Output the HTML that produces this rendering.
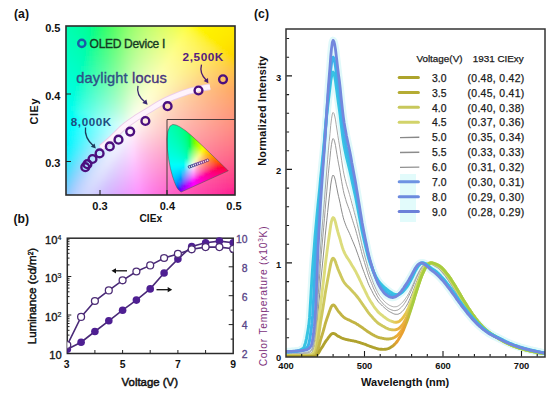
<!DOCTYPE html>
<html><head><meta charset="utf-8">
<style>
html,body{margin:0;padding:0;background:#fff;}
body{width:550px;height:393px;overflow:hidden;position:relative;font-family:"Liberation Sans",sans-serif;}
svg{position:absolute;left:0;top:0;}
text{font-family:"Liberation Sans",sans-serif;}
.b{font-weight:bold;}
.lg{font-size:10.4px;fill:#1a1a1a;stroke:#1a1a1a;stroke-width:0.25px;}
</style></head><body>
<svg width="550" height="393" viewBox="0 0 550 393">
<defs>
<clipPath id="ca"><rect x="66" y="26" width="169" height="169"/></clipPath>
<clipPath id="ch"><path d="M181.2,192.0 181.0,192.0 180.4,191.5 179.8,191.0 178.7,190.0 177.0,187.7 175.8,185.3 174.3,181.6 172.4,176.0 170.4,168.4 168.6,158.8 167.3,148.5 166.9,139.0 167.8,131.3 169.9,126.2 172.8,124.4 176.2,125.1 179.6,126.7 185.9,130.9 191.9,136.0 197.9,141.5 203.9,147.2 209.6,152.7 214.9,157.8 219.3,162.0 224.7,167.3 227.6,170.1 228.3,170.8 Z"/></clipPath>
<clipPath id="cb"><rect x="67.3" y="230" width="166.1" height="130"/></clipPath>
<clipPath id="cc"><rect x="286" y="29" width="259" height="328"/></clipPath>
<filter id="bl" x="-5%" y="-5%" width="110%" height="110%"><feGaussianBlur stdDeviation="2.2"/></filter>
<filter id="bl2"><feGaussianBlur stdDeviation="1.2"/></filter>
</defs>

<!-- ===== panel a ===== -->
<g clip-path="url(#ca)"><g filter="url(#bl)">
<rect x="61" y="21" width="5" height="5" fill="#00feb3"/>
<rect x="66" y="21" width="5" height="5" fill="#00feae"/>
<rect x="71" y="21" width="5" height="5" fill="#00fea9"/>
<rect x="76" y="21" width="5" height="5" fill="#00fea3"/>
<rect x="81" y="21" width="5" height="5" fill="#00fe9c"/>
<rect x="86" y="21" width="5" height="5" fill="#00fe95"/>
<rect x="91" y="21" width="5" height="5" fill="#02fe87"/>
<rect x="96" y="21" width="5" height="5" fill="#19fe75"/>
<rect x="101" y="21" width="5" height="5" fill="#2cfe6c"/>
<rect x="106" y="21" width="5" height="5" fill="#3ffe66"/>
<rect x="111" y="21" width="5" height="5" fill="#52fe62"/>
<rect x="116" y="21" width="5" height="5" fill="#67fe63"/>
<rect x="121" y="21" width="5" height="5" fill="#7bfe66"/>
<rect x="126" y="21" width="5" height="5" fill="#8dfe68"/>
<rect x="131" y="21" width="5" height="5" fill="#9cfe6a"/>
<rect x="136" y="21" width="5" height="5" fill="#a9fe6b"/>
<rect x="141" y="21" width="5" height="5" fill="#b5fe6a"/>
<rect x="146" y="21" width="5" height="5" fill="#bffe69"/>
<rect x="151" y="21" width="5" height="5" fill="#c8fe67"/>
<rect x="156" y="21" width="5" height="5" fill="#d1fe63"/>
<rect x="161" y="21" width="5" height="5" fill="#d9fe5e"/>
<rect x="166" y="21" width="5" height="5" fill="#e0fe58"/>
<rect x="171" y="21" width="5" height="5" fill="#e7fe50"/>
<rect x="176" y="21" width="5" height="5" fill="#eefe46"/>
<rect x="181" y="21" width="5" height="5" fill="#f5fe37"/>
<rect x="186" y="21" width="5" height="5" fill="#fcfe1a"/>
<rect x="191" y="21" width="5" height="5" fill="#fefc00"/>
<rect x="196" y="21" width="5" height="5" fill="#fef800"/>
<rect x="201" y="21" width="5" height="5" fill="#fef500"/>
<rect x="206" y="21" width="5" height="5" fill="#fef300"/>
<rect x="211" y="21" width="5" height="5" fill="#fef100"/>
<rect x="216" y="21" width="5" height="5" fill="#feef00"/>
<rect x="221" y="21" width="5" height="5" fill="#feee00"/>
<rect x="226" y="21" width="5" height="5" fill="#feec00"/>
<rect x="231" y="21" width="5" height="5" fill="#feea00"/>
<rect x="236" y="21" width="5" height="5" fill="#fee900"/>
<rect x="61" y="26" width="5" height="5" fill="#00feb5"/>
<rect x="66" y="26" width="5" height="5" fill="#00feb1"/>
<rect x="71" y="26" width="5" height="5" fill="#00feac"/>
<rect x="76" y="26" width="5" height="5" fill="#00fea6"/>
<rect x="81" y="26" width="5" height="5" fill="#00fea0"/>
<rect x="86" y="26" width="5" height="5" fill="#00fe98"/>
<rect x="91" y="26" width="5" height="5" fill="#09fe86"/>
<rect x="96" y="26" width="5" height="5" fill="#1efe79"/>
<rect x="101" y="26" width="5" height="5" fill="#31fe71"/>
<rect x="106" y="26" width="5" height="5" fill="#43fe6b"/>
<rect x="111" y="26" width="5" height="5" fill="#56fe68"/>
<rect x="116" y="26" width="5" height="5" fill="#6afe68"/>
<rect x="121" y="26" width="5" height="5" fill="#7efe6c"/>
<rect x="126" y="26" width="5" height="5" fill="#90fe6f"/>
<rect x="131" y="26" width="5" height="5" fill="#a0fe71"/>
<rect x="136" y="26" width="5" height="5" fill="#adfe72"/>
<rect x="141" y="26" width="5" height="5" fill="#b9fe72"/>
<rect x="146" y="26" width="5" height="5" fill="#c3fe71"/>
<rect x="151" y="26" width="5" height="5" fill="#ccfe6f"/>
<rect x="156" y="26" width="5" height="5" fill="#d5fe6c"/>
<rect x="161" y="26" width="5" height="5" fill="#ddfe68"/>
<rect x="166" y="26" width="5" height="5" fill="#e4fe63"/>
<rect x="171" y="26" width="5" height="5" fill="#ebfe5d"/>
<rect x="176" y="26" width="5" height="5" fill="#f2fe55"/>
<rect x="181" y="26" width="5" height="5" fill="#f9fe4b"/>
<rect x="186" y="26" width="5" height="5" fill="#fefe3c"/>
<rect x="191" y="26" width="5" height="5" fill="#fefa22"/>
<rect x="196" y="26" width="5" height="5" fill="#fef600"/>
<rect x="201" y="26" width="5" height="5" fill="#fef400"/>
<rect x="206" y="26" width="5" height="5" fill="#fef200"/>
<rect x="211" y="26" width="5" height="5" fill="#fef000"/>
<rect x="216" y="26" width="5" height="5" fill="#feee00"/>
<rect x="221" y="26" width="5" height="5" fill="#feec00"/>
<rect x="226" y="26" width="5" height="5" fill="#feea00"/>
<rect x="231" y="26" width="5" height="5" fill="#fee900"/>
<rect x="236" y="26" width="5" height="5" fill="#fee700"/>
<rect x="61" y="31" width="5" height="5" fill="#00feb8"/>
<rect x="66" y="31" width="5" height="5" fill="#00feb4"/>
<rect x="71" y="31" width="5" height="5" fill="#00feaf"/>
<rect x="76" y="31" width="5" height="5" fill="#00fea9"/>
<rect x="81" y="31" width="5" height="5" fill="#00fea3"/>
<rect x="86" y="31" width="5" height="5" fill="#00fe9c"/>
<rect x="91" y="31" width="5" height="5" fill="#0ffe89"/>
<rect x="96" y="31" width="5" height="5" fill="#23fe7e"/>
<rect x="101" y="31" width="5" height="5" fill="#35fe76"/>
<rect x="106" y="31" width="5" height="5" fill="#47fe71"/>
<rect x="111" y="31" width="5" height="5" fill="#5afe6e"/>
<rect x="116" y="31" width="5" height="5" fill="#6dfe6e"/>
<rect x="121" y="31" width="5" height="5" fill="#82fe72"/>
<rect x="126" y="31" width="5" height="5" fill="#94fe75"/>
<rect x="131" y="31" width="5" height="5" fill="#a4fe77"/>
<rect x="136" y="31" width="5" height="5" fill="#b1fe79"/>
<rect x="141" y="31" width="5" height="5" fill="#bdfe79"/>
<rect x="146" y="31" width="5" height="5" fill="#c7fe79"/>
<rect x="151" y="31" width="5" height="5" fill="#d0fe77"/>
<rect x="156" y="31" width="5" height="5" fill="#d9fe75"/>
<rect x="161" y="31" width="5" height="5" fill="#e1fe71"/>
<rect x="166" y="31" width="5" height="5" fill="#e8fe6d"/>
<rect x="171" y="31" width="5" height="5" fill="#effe68"/>
<rect x="176" y="31" width="5" height="5" fill="#f6fe61"/>
<rect x="181" y="31" width="5" height="5" fill="#fdfe5a"/>
<rect x="186" y="31" width="5" height="5" fill="#fefb4e"/>
<rect x="191" y="31" width="5" height="5" fill="#fef83f"/>
<rect x="196" y="31" width="5" height="5" fill="#fef528"/>
<rect x="201" y="31" width="5" height="5" fill="#fef200"/>
<rect x="206" y="31" width="5" height="5" fill="#fef000"/>
<rect x="211" y="31" width="5" height="5" fill="#feee00"/>
<rect x="216" y="31" width="5" height="5" fill="#feec00"/>
<rect x="221" y="31" width="5" height="5" fill="#feeb00"/>
<rect x="226" y="31" width="5" height="5" fill="#fee900"/>
<rect x="231" y="31" width="5" height="5" fill="#fee600"/>
<rect x="236" y="31" width="5" height="5" fill="#fee400"/>
<rect x="61" y="36" width="5" height="5" fill="#00febb"/>
<rect x="66" y="36" width="5" height="5" fill="#00feb7"/>
<rect x="71" y="36" width="5" height="5" fill="#00feb2"/>
<rect x="76" y="36" width="5" height="5" fill="#00fead"/>
<rect x="81" y="36" width="5" height="5" fill="#00fea7"/>
<rect x="86" y="36" width="5" height="5" fill="#00fe9f"/>
<rect x="91" y="36" width="5" height="5" fill="#15fe8c"/>
<rect x="96" y="36" width="5" height="5" fill="#28fe83"/>
<rect x="101" y="36" width="5" height="5" fill="#3afe7c"/>
<rect x="106" y="36" width="5" height="5" fill="#4bfe77"/>
<rect x="111" y="36" width="5" height="5" fill="#5efe74"/>
<rect x="116" y="36" width="5" height="5" fill="#71fe74"/>
<rect x="121" y="36" width="5" height="5" fill="#86fe77"/>
<rect x="126" y="36" width="5" height="5" fill="#98fe7b"/>
<rect x="131" y="36" width="5" height="5" fill="#a7fe7e"/>
<rect x="136" y="36" width="5" height="5" fill="#b5fe7f"/>
<rect x="141" y="36" width="5" height="5" fill="#c1fe80"/>
<rect x="146" y="36" width="5" height="5" fill="#cbfe80"/>
<rect x="151" y="36" width="5" height="5" fill="#d4fe7f"/>
<rect x="156" y="36" width="5" height="5" fill="#ddfe7d"/>
<rect x="161" y="36" width="5" height="5" fill="#e4fe7a"/>
<rect x="166" y="36" width="5" height="5" fill="#ecfe76"/>
<rect x="171" y="36" width="5" height="5" fill="#f3fe72"/>
<rect x="176" y="36" width="5" height="5" fill="#fafe6c"/>
<rect x="181" y="36" width="5" height="5" fill="#fefd65"/>
<rect x="186" y="36" width="5" height="5" fill="#fef95b"/>
<rect x="191" y="36" width="5" height="5" fill="#fef74f"/>
<rect x="196" y="36" width="5" height="5" fill="#fef441"/>
<rect x="201" y="36" width="5" height="5" fill="#fef22d"/>
<rect x="206" y="36" width="5" height="5" fill="#feee00"/>
<rect x="211" y="36" width="5" height="5" fill="#feed00"/>
<rect x="216" y="36" width="5" height="5" fill="#feeb00"/>
<rect x="221" y="36" width="5" height="5" fill="#fee800"/>
<rect x="226" y="36" width="5" height="5" fill="#fee600"/>
<rect x="231" y="36" width="5" height="5" fill="#fee400"/>
<rect x="236" y="36" width="5" height="5" fill="#fee100"/>
<rect x="61" y="41" width="5" height="5" fill="#00febe"/>
<rect x="66" y="41" width="5" height="5" fill="#00feba"/>
<rect x="71" y="41" width="5" height="5" fill="#00feb5"/>
<rect x="76" y="41" width="5" height="5" fill="#00feb0"/>
<rect x="81" y="41" width="5" height="5" fill="#00feaa"/>
<rect x="86" y="41" width="5" height="5" fill="#02fea0"/>
<rect x="91" y="41" width="5" height="5" fill="#1afe90"/>
<rect x="96" y="41" width="5" height="5" fill="#2dfe88"/>
<rect x="101" y="41" width="5" height="5" fill="#3efe82"/>
<rect x="106" y="41" width="5" height="5" fill="#4ffe7d"/>
<rect x="111" y="41" width="5" height="5" fill="#62fe7a"/>
<rect x="116" y="41" width="5" height="5" fill="#75fe7a"/>
<rect x="121" y="41" width="5" height="5" fill="#89fe7d"/>
<rect x="126" y="41" width="5" height="5" fill="#9cfe81"/>
<rect x="131" y="41" width="5" height="5" fill="#abfe84"/>
<rect x="136" y="41" width="5" height="5" fill="#b9fe86"/>
<rect x="141" y="41" width="5" height="5" fill="#c5fe87"/>
<rect x="146" y="41" width="5" height="5" fill="#cffe87"/>
<rect x="151" y="41" width="5" height="5" fill="#d8fe87"/>
<rect x="156" y="41" width="5" height="5" fill="#e1fe85"/>
<rect x="161" y="41" width="5" height="5" fill="#e9fe82"/>
<rect x="166" y="41" width="5" height="5" fill="#f0fe7f"/>
<rect x="171" y="41" width="5" height="5" fill="#f7fe7b"/>
<rect x="176" y="41" width="5" height="5" fill="#fefe76"/>
<rect x="181" y="41" width="5" height="5" fill="#fefb6e"/>
<rect x="186" y="41" width="5" height="5" fill="#fef865"/>
<rect x="191" y="41" width="5" height="5" fill="#fef65b"/>
<rect x="196" y="41" width="5" height="5" fill="#fef350"/>
<rect x="201" y="41" width="5" height="5" fill="#fef142"/>
<rect x="206" y="41" width="5" height="5" fill="#feee31"/>
<rect x="211" y="41" width="5" height="5" fill="#feeb0b"/>
<rect x="216" y="41" width="5" height="5" fill="#fee800"/>
<rect x="221" y="41" width="5" height="5" fill="#fee600"/>
<rect x="226" y="41" width="5" height="5" fill="#fee300"/>
<rect x="231" y="41" width="5" height="5" fill="#fee100"/>
<rect x="236" y="41" width="5" height="5" fill="#fede00"/>
<rect x="61" y="46" width="5" height="5" fill="#00fec1"/>
<rect x="66" y="46" width="5" height="5" fill="#00febd"/>
<rect x="71" y="46" width="5" height="5" fill="#00feb9"/>
<rect x="76" y="46" width="5" height="5" fill="#00feb4"/>
<rect x="81" y="46" width="5" height="5" fill="#00feae"/>
<rect x="86" y="46" width="5" height="5" fill="#09fea0"/>
<rect x="91" y="46" width="5" height="5" fill="#1ffe95"/>
<rect x="96" y="46" width="5" height="5" fill="#31fe8d"/>
<rect x="101" y="46" width="5" height="5" fill="#42fe87"/>
<rect x="106" y="46" width="5" height="5" fill="#54fe83"/>
<rect x="111" y="46" width="5" height="5" fill="#66fe80"/>
<rect x="116" y="46" width="5" height="5" fill="#79fe80"/>
<rect x="121" y="46" width="5" height="5" fill="#8dfe83"/>
<rect x="126" y="46" width="5" height="5" fill="#a0fe87"/>
<rect x="131" y="46" width="5" height="5" fill="#b0fe8b"/>
<rect x="136" y="46" width="5" height="5" fill="#bdfe8d"/>
<rect x="141" y="46" width="5" height="5" fill="#c9fe8e"/>
<rect x="146" y="46" width="5" height="5" fill="#d3fe8f"/>
<rect x="151" y="46" width="5" height="5" fill="#dcfe8e"/>
<rect x="156" y="46" width="5" height="5" fill="#e5fe8d"/>
<rect x="161" y="46" width="5" height="5" fill="#edfe8a"/>
<rect x="166" y="46" width="5" height="5" fill="#f4fe88"/>
<rect x="171" y="46" width="5" height="5" fill="#fbfe84"/>
<rect x="176" y="46" width="5" height="5" fill="#fefc7e"/>
<rect x="181" y="46" width="5" height="5" fill="#fef976"/>
<rect x="186" y="46" width="5" height="5" fill="#fef76d"/>
<rect x="191" y="46" width="5" height="5" fill="#fef465"/>
<rect x="196" y="46" width="5" height="5" fill="#fef25b"/>
<rect x="201" y="46" width="5" height="5" fill="#feef50"/>
<rect x="206" y="46" width="5" height="5" fill="#feec44"/>
<rect x="211" y="46" width="5" height="5" fill="#fee934"/>
<rect x="216" y="46" width="5" height="5" fill="#fee617"/>
<rect x="221" y="46" width="5" height="5" fill="#fee300"/>
<rect x="226" y="46" width="5" height="5" fill="#fee000"/>
<rect x="231" y="46" width="5" height="5" fill="#fedd00"/>
<rect x="236" y="46" width="5" height="5" fill="#feda00"/>
<rect x="61" y="51" width="5" height="5" fill="#00fec4"/>
<rect x="66" y="51" width="5" height="5" fill="#00fec1"/>
<rect x="71" y="51" width="5" height="5" fill="#00febc"/>
<rect x="76" y="51" width="5" height="5" fill="#00feb7"/>
<rect x="81" y="51" width="5" height="5" fill="#00feb2"/>
<rect x="86" y="51" width="5" height="5" fill="#10fea3"/>
<rect x="91" y="51" width="5" height="5" fill="#25fe9a"/>
<rect x="96" y="51" width="5" height="5" fill="#36fe93"/>
<rect x="101" y="51" width="5" height="5" fill="#47fe8d"/>
<rect x="106" y="51" width="5" height="5" fill="#58fe89"/>
<rect x="111" y="51" width="5" height="5" fill="#6afe86"/>
<rect x="116" y="51" width="5" height="5" fill="#7cfe86"/>
<rect x="121" y="51" width="5" height="5" fill="#91fe89"/>
<rect x="126" y="51" width="5" height="5" fill="#a4fe8d"/>
<rect x="131" y="51" width="5" height="5" fill="#b4fe91"/>
<rect x="136" y="51" width="5" height="5" fill="#c2fe94"/>
<rect x="141" y="51" width="5" height="5" fill="#cdfe95"/>
<rect x="146" y="51" width="5" height="5" fill="#d7fe96"/>
<rect x="151" y="51" width="5" height="5" fill="#e1fe95"/>
<rect x="156" y="51" width="5" height="5" fill="#e9fe94"/>
<rect x="161" y="51" width="5" height="5" fill="#f1fe92"/>
<rect x="166" y="51" width="5" height="5" fill="#f8fe90"/>
<rect x="171" y="51" width="5" height="5" fill="#fefe8c"/>
<rect x="176" y="51" width="5" height="5" fill="#fefa84"/>
<rect x="181" y="51" width="5" height="5" fill="#fef87d"/>
<rect x="186" y="51" width="5" height="5" fill="#fef575"/>
<rect x="191" y="51" width="5" height="5" fill="#fef36d"/>
<rect x="196" y="51" width="5" height="5" fill="#fef064"/>
<rect x="201" y="51" width="5" height="5" fill="#feed5b"/>
<rect x="206" y="51" width="5" height="5" fill="#fee951"/>
<rect x="211" y="51" width="5" height="5" fill="#fee645"/>
<rect x="216" y="51" width="5" height="5" fill="#fee336"/>
<rect x="221" y="51" width="5" height="5" fill="#fee01f"/>
<rect x="226" y="51" width="5" height="5" fill="#fedc00"/>
<rect x="231" y="51" width="5" height="5" fill="#fed900"/>
<rect x="236" y="51" width="5" height="5" fill="#fed500"/>
<rect x="61" y="56" width="5" height="5" fill="#00fec8"/>
<rect x="66" y="56" width="5" height="5" fill="#00fec4"/>
<rect x="71" y="56" width="5" height="5" fill="#00fec0"/>
<rect x="76" y="56" width="5" height="5" fill="#00febb"/>
<rect x="81" y="56" width="5" height="5" fill="#00feb6"/>
<rect x="86" y="56" width="5" height="5" fill="#16fea7"/>
<rect x="91" y="56" width="5" height="5" fill="#2afe9f"/>
<rect x="96" y="56" width="5" height="5" fill="#3bfe99"/>
<rect x="101" y="56" width="5" height="5" fill="#4cfe93"/>
<rect x="106" y="56" width="5" height="5" fill="#5cfe8f"/>
<rect x="111" y="56" width="5" height="5" fill="#6efe8d"/>
<rect x="116" y="56" width="5" height="5" fill="#81fe8c"/>
<rect x="121" y="56" width="5" height="5" fill="#95fe8f"/>
<rect x="126" y="56" width="5" height="5" fill="#a8fe94"/>
<rect x="131" y="56" width="5" height="5" fill="#b8fe98"/>
<rect x="136" y="56" width="5" height="5" fill="#c6fe9a"/>
<rect x="141" y="56" width="5" height="5" fill="#d2fe9c"/>
<rect x="146" y="56" width="5" height="5" fill="#dcfe9d"/>
<rect x="151" y="56" width="5" height="5" fill="#e5fe9d"/>
<rect x="156" y="56" width="5" height="5" fill="#edfe9c"/>
<rect x="161" y="56" width="5" height="5" fill="#f5fe9a"/>
<rect x="166" y="56" width="5" height="5" fill="#fcfe97"/>
<rect x="171" y="56" width="5" height="5" fill="#fefc92"/>
<rect x="176" y="56" width="5" height="5" fill="#fef98a"/>
<rect x="181" y="56" width="5" height="5" fill="#fef683"/>
<rect x="186" y="56" width="5" height="5" fill="#fef47c"/>
<rect x="191" y="56" width="5" height="5" fill="#fef174"/>
<rect x="196" y="56" width="5" height="5" fill="#feed6c"/>
<rect x="201" y="56" width="5" height="5" fill="#feea64"/>
<rect x="206" y="56" width="5" height="5" fill="#fee65b"/>
<rect x="211" y="56" width="5" height="5" fill="#fee251"/>
<rect x="216" y="56" width="5" height="5" fill="#fede46"/>
<rect x="221" y="56" width="5" height="5" fill="#feda38"/>
<rect x="226" y="56" width="5" height="5" fill="#fed724"/>
<rect x="231" y="56" width="5" height="5" fill="#fed400"/>
<rect x="236" y="56" width="5" height="5" fill="#fed000"/>
<rect x="61" y="61" width="5" height="5" fill="#00fecb"/>
<rect x="66" y="61" width="5" height="5" fill="#00fec8"/>
<rect x="71" y="61" width="5" height="5" fill="#00fec4"/>
<rect x="76" y="61" width="5" height="5" fill="#00febf"/>
<rect x="81" y="61" width="5" height="5" fill="#01feb8"/>
<rect x="86" y="61" width="5" height="5" fill="#1cfeab"/>
<rect x="91" y="61" width="5" height="5" fill="#2ffea5"/>
<rect x="96" y="61" width="5" height="5" fill="#40fe9f"/>
<rect x="101" y="61" width="5" height="5" fill="#50fe9a"/>
<rect x="106" y="61" width="5" height="5" fill="#61fe96"/>
<rect x="111" y="61" width="5" height="5" fill="#72fe93"/>
<rect x="116" y="61" width="5" height="5" fill="#85fe92"/>
<rect x="121" y="61" width="5" height="5" fill="#99fe95"/>
<rect x="126" y="61" width="5" height="5" fill="#acfe9a"/>
<rect x="131" y="61" width="5" height="5" fill="#bdfe9e"/>
<rect x="136" y="61" width="5" height="5" fill="#cbfea1"/>
<rect x="141" y="61" width="5" height="5" fill="#d6fea3"/>
<rect x="146" y="61" width="5" height="5" fill="#e0fea4"/>
<rect x="151" y="61" width="5" height="5" fill="#e9fea4"/>
<rect x="156" y="61" width="5" height="5" fill="#f1fea3"/>
<rect x="161" y="61" width="5" height="5" fill="#f9fea1"/>
<rect x="166" y="61" width="5" height="5" fill="#fefd9e"/>
<rect x="171" y="61" width="5" height="5" fill="#fefa97"/>
<rect x="176" y="61" width="5" height="5" fill="#fef890"/>
<rect x="181" y="61" width="5" height="5" fill="#fef589"/>
<rect x="186" y="61" width="5" height="5" fill="#fef281"/>
<rect x="191" y="61" width="5" height="5" fill="#feee7a"/>
<rect x="196" y="61" width="5" height="5" fill="#feea73"/>
<rect x="201" y="61" width="5" height="5" fill="#fee56b"/>
<rect x="206" y="61" width="5" height="5" fill="#fee163"/>
<rect x="211" y="61" width="5" height="5" fill="#fedc5b"/>
<rect x="216" y="61" width="5" height="5" fill="#fed852"/>
<rect x="221" y="61" width="5" height="5" fill="#fed447"/>
<rect x="226" y="61" width="5" height="5" fill="#fed03a"/>
<rect x="231" y="61" width="5" height="5" fill="#fecd28"/>
<rect x="236" y="61" width="5" height="5" fill="#feca00"/>
<rect x="61" y="66" width="5" height="5" fill="#00fecf"/>
<rect x="66" y="66" width="5" height="5" fill="#00fecb"/>
<rect x="71" y="66" width="5" height="5" fill="#00fec7"/>
<rect x="76" y="66" width="5" height="5" fill="#00fec3"/>
<rect x="81" y="66" width="5" height="5" fill="#0afeb9"/>
<rect x="86" y="66" width="5" height="5" fill="#22feb0"/>
<rect x="91" y="66" width="5" height="5" fill="#34feaa"/>
<rect x="96" y="66" width="5" height="5" fill="#45fea5"/>
<rect x="101" y="66" width="5" height="5" fill="#55fea0"/>
<rect x="106" y="66" width="5" height="5" fill="#66fe9c"/>
<rect x="111" y="66" width="5" height="5" fill="#77fe9a"/>
<rect x="116" y="66" width="5" height="5" fill="#89fe99"/>
<rect x="121" y="66" width="5" height="5" fill="#9dfe9b"/>
<rect x="126" y="66" width="5" height="5" fill="#b1fea0"/>
<rect x="131" y="66" width="5" height="5" fill="#c2fea5"/>
<rect x="136" y="66" width="5" height="5" fill="#cffea8"/>
<rect x="141" y="66" width="5" height="5" fill="#dbfeaa"/>
<rect x="146" y="66" width="5" height="5" fill="#e5feab"/>
<rect x="151" y="66" width="5" height="5" fill="#eefeab"/>
<rect x="156" y="66" width="5" height="5" fill="#f6feaa"/>
<rect x="161" y="66" width="5" height="5" fill="#fdfea8"/>
<rect x="166" y="66" width="5" height="5" fill="#fefba2"/>
<rect x="171" y="66" width="5" height="5" fill="#fef99b"/>
<rect x="176" y="66" width="5" height="5" fill="#fef695"/>
<rect x="181" y="66" width="5" height="5" fill="#fef38e"/>
<rect x="186" y="66" width="5" height="5" fill="#feee87"/>
<rect x="191" y="66" width="5" height="5" fill="#feea80"/>
<rect x="196" y="66" width="5" height="5" fill="#fee579"/>
<rect x="201" y="66" width="5" height="5" fill="#fee072"/>
<rect x="206" y="66" width="5" height="5" fill="#fedb6b"/>
<rect x="211" y="66" width="5" height="5" fill="#fed663"/>
<rect x="216" y="66" width="5" height="5" fill="#fed25b"/>
<rect x="221" y="66" width="5" height="5" fill="#fecd52"/>
<rect x="226" y="66" width="5" height="5" fill="#fec948"/>
<rect x="231" y="66" width="5" height="5" fill="#fec63c"/>
<rect x="236" y="66" width="5" height="5" fill="#fec22c"/>
<rect x="61" y="71" width="5" height="5" fill="#00fed2"/>
<rect x="66" y="71" width="5" height="5" fill="#00fecf"/>
<rect x="71" y="71" width="5" height="5" fill="#00fecb"/>
<rect x="76" y="71" width="5" height="5" fill="#00fec7"/>
<rect x="81" y="71" width="5" height="5" fill="#12febd"/>
<rect x="86" y="71" width="5" height="5" fill="#28feb6"/>
<rect x="91" y="71" width="5" height="5" fill="#3afeb0"/>
<rect x="96" y="71" width="5" height="5" fill="#4afeac"/>
<rect x="101" y="71" width="5" height="5" fill="#5afea7"/>
<rect x="106" y="71" width="5" height="5" fill="#6afea3"/>
<rect x="111" y="71" width="5" height="5" fill="#7bfea0"/>
<rect x="116" y="71" width="5" height="5" fill="#8efea0"/>
<rect x="121" y="71" width="5" height="5" fill="#a2fea2"/>
<rect x="126" y="71" width="5" height="5" fill="#b6fea7"/>
<rect x="131" y="71" width="5" height="5" fill="#c7feac"/>
<rect x="136" y="71" width="5" height="5" fill="#d4feaf"/>
<rect x="141" y="71" width="5" height="5" fill="#e0feb1"/>
<rect x="146" y="71" width="5" height="5" fill="#e9feb2"/>
<rect x="151" y="71" width="5" height="5" fill="#f2feb2"/>
<rect x="156" y="71" width="5" height="5" fill="#fafeb1"/>
<rect x="161" y="71" width="5" height="5" fill="#fefdad"/>
<rect x="166" y="71" width="5" height="5" fill="#fefaa7"/>
<rect x="171" y="71" width="5" height="5" fill="#fef7a0"/>
<rect x="176" y="71" width="5" height="5" fill="#fef499"/>
<rect x="181" y="71" width="5" height="5" fill="#feef92"/>
<rect x="186" y="71" width="5" height="5" fill="#feea8c"/>
<rect x="191" y="71" width="5" height="5" fill="#fee585"/>
<rect x="196" y="71" width="5" height="5" fill="#fedf7f"/>
<rect x="201" y="71" width="5" height="5" fill="#feda78"/>
<rect x="206" y="71" width="5" height="5" fill="#fed571"/>
<rect x="211" y="71" width="5" height="5" fill="#fed06a"/>
<rect x="216" y="71" width="5" height="5" fill="#fecb63"/>
<rect x="221" y="71" width="5" height="5" fill="#fec75b"/>
<rect x="226" y="71" width="5" height="5" fill="#fec352"/>
<rect x="231" y="71" width="5" height="5" fill="#febf49"/>
<rect x="236" y="71" width="5" height="5" fill="#febb3d"/>
<rect x="61" y="76" width="5" height="5" fill="#00fed6"/>
<rect x="66" y="76" width="5" height="5" fill="#00fed3"/>
<rect x="71" y="76" width="5" height="5" fill="#00fed0"/>
<rect x="76" y="76" width="5" height="5" fill="#00fecc"/>
<rect x="81" y="76" width="5" height="5" fill="#19fec1"/>
<rect x="86" y="76" width="5" height="5" fill="#2efebc"/>
<rect x="91" y="76" width="5" height="5" fill="#40feb7"/>
<rect x="96" y="76" width="5" height="5" fill="#50feb2"/>
<rect x="101" y="76" width="5" height="5" fill="#60feae"/>
<rect x="106" y="76" width="5" height="5" fill="#70feaa"/>
<rect x="111" y="76" width="5" height="5" fill="#80fea8"/>
<rect x="116" y="76" width="5" height="5" fill="#92fea6"/>
<rect x="121" y="76" width="5" height="5" fill="#a6fea8"/>
<rect x="126" y="76" width="5" height="5" fill="#bbfeae"/>
<rect x="131" y="76" width="5" height="5" fill="#ccfeb3"/>
<rect x="136" y="76" width="5" height="5" fill="#d9feb6"/>
<rect x="141" y="76" width="5" height="5" fill="#e5feb9"/>
<rect x="146" y="76" width="5" height="5" fill="#eefeba"/>
<rect x="151" y="76" width="5" height="5" fill="#f7feb9"/>
<rect x="156" y="76" width="5" height="5" fill="#fefeb8"/>
<rect x="161" y="76" width="5" height="5" fill="#fefbb1"/>
<rect x="166" y="76" width="5" height="5" fill="#fef8ab"/>
<rect x="171" y="76" width="5" height="5" fill="#fef5a4"/>
<rect x="176" y="76" width="5" height="5" fill="#fef09d"/>
<rect x="181" y="76" width="5" height="5" fill="#feea97"/>
<rect x="186" y="76" width="5" height="5" fill="#fee590"/>
<rect x="191" y="76" width="5" height="5" fill="#fedf8a"/>
<rect x="196" y="76" width="5" height="5" fill="#fed983"/>
<rect x="201" y="76" width="5" height="5" fill="#fed47d"/>
<rect x="206" y="76" width="5" height="5" fill="#fecf77"/>
<rect x="211" y="76" width="5" height="5" fill="#feca70"/>
<rect x="216" y="76" width="5" height="5" fill="#fec569"/>
<rect x="221" y="76" width="5" height="5" fill="#fec162"/>
<rect x="226" y="76" width="5" height="5" fill="#febc5a"/>
<rect x="231" y="76" width="5" height="5" fill="#feb852"/>
<rect x="236" y="76" width="5" height="5" fill="#feb449"/>
<rect x="61" y="81" width="5" height="5" fill="#00feda"/>
<rect x="66" y="81" width="5" height="5" fill="#00fed7"/>
<rect x="71" y="81" width="5" height="5" fill="#00fed4"/>
<rect x="76" y="81" width="5" height="5" fill="#01fecf"/>
<rect x="81" y="81" width="5" height="5" fill="#20fec7"/>
<rect x="86" y="81" width="5" height="5" fill="#34fec2"/>
<rect x="91" y="81" width="5" height="5" fill="#45febe"/>
<rect x="96" y="81" width="5" height="5" fill="#56feb9"/>
<rect x="101" y="81" width="5" height="5" fill="#65feb5"/>
<rect x="106" y="81" width="5" height="5" fill="#75feb2"/>
<rect x="111" y="81" width="5" height="5" fill="#85feaf"/>
<rect x="116" y="81" width="5" height="5" fill="#97feae"/>
<rect x="121" y="81" width="5" height="5" fill="#abfeaf"/>
<rect x="126" y="81" width="5" height="5" fill="#c0feb5"/>
<rect x="131" y="81" width="5" height="5" fill="#d1feba"/>
<rect x="136" y="81" width="5" height="5" fill="#dffebe"/>
<rect x="141" y="81" width="5" height="5" fill="#eafec0"/>
<rect x="146" y="81" width="5" height="5" fill="#f3fec1"/>
<rect x="151" y="81" width="5" height="5" fill="#fbfec0"/>
<rect x="156" y="81" width="5" height="5" fill="#fefcbc"/>
<rect x="161" y="81" width="5" height="5" fill="#fef9b5"/>
<rect x="166" y="81" width="5" height="5" fill="#fef6ae"/>
<rect x="171" y="81" width="5" height="5" fill="#fef1a8"/>
<rect x="176" y="81" width="5" height="5" fill="#feeba1"/>
<rect x="181" y="81" width="5" height="5" fill="#fee59b"/>
<rect x="186" y="81" width="5" height="5" fill="#fedf94"/>
<rect x="191" y="81" width="5" height="5" fill="#fed98e"/>
<rect x="196" y="81" width="5" height="5" fill="#fed388"/>
<rect x="201" y="81" width="5" height="5" fill="#fece82"/>
<rect x="206" y="81" width="5" height="5" fill="#fec97c"/>
<rect x="211" y="81" width="5" height="5" fill="#fec475"/>
<rect x="216" y="81" width="5" height="5" fill="#febf6f"/>
<rect x="221" y="81" width="5" height="5" fill="#febb68"/>
<rect x="226" y="81" width="5" height="5" fill="#feb662"/>
<rect x="231" y="81" width="5" height="5" fill="#feb25a"/>
<rect x="236" y="81" width="5" height="5" fill="#fea852"/>
<rect x="61" y="86" width="5" height="5" fill="#00fede"/>
<rect x="66" y="86" width="5" height="5" fill="#00fedc"/>
<rect x="71" y="86" width="5" height="5" fill="#00fed9"/>
<rect x="76" y="86" width="5" height="5" fill="#0bfed2"/>
<rect x="81" y="86" width="5" height="5" fill="#26fecc"/>
<rect x="86" y="86" width="5" height="5" fill="#3afec8"/>
<rect x="91" y="86" width="5" height="5" fill="#4cfec5"/>
<rect x="96" y="86" width="5" height="5" fill="#5cfec1"/>
<rect x="101" y="86" width="5" height="5" fill="#6bfebd"/>
<rect x="106" y="86" width="5" height="5" fill="#7bfeba"/>
<rect x="111" y="86" width="5" height="5" fill="#8bfeb7"/>
<rect x="116" y="86" width="5" height="5" fill="#9cfeb5"/>
<rect x="121" y="86" width="5" height="5" fill="#b0feb6"/>
<rect x="126" y="86" width="5" height="5" fill="#c5febc"/>
<rect x="131" y="86" width="5" height="5" fill="#d6fec1"/>
<rect x="136" y="86" width="5" height="5" fill="#e4fec5"/>
<rect x="141" y="86" width="5" height="5" fill="#effec7"/>
<rect x="146" y="86" width="5" height="5" fill="#f8fec8"/>
<rect x="151" y="86" width="5" height="5" fill="#fefec6"/>
<rect x="156" y="86" width="5" height="5" fill="#fefbbf"/>
<rect x="161" y="86" width="5" height="5" fill="#fef7b8"/>
<rect x="166" y="86" width="5" height="5" fill="#fef2b2"/>
<rect x="171" y="86" width="5" height="5" fill="#feebab"/>
<rect x="176" y="86" width="5" height="5" fill="#fee5a5"/>
<rect x="181" y="86" width="5" height="5" fill="#fede9e"/>
<rect x="186" y="86" width="5" height="5" fill="#fed898"/>
<rect x="191" y="86" width="5" height="5" fill="#fed292"/>
<rect x="196" y="86" width="5" height="5" fill="#fecd8c"/>
<rect x="201" y="86" width="5" height="5" fill="#fec886"/>
<rect x="206" y="86" width="5" height="5" fill="#febf80"/>
<rect x="211" y="86" width="5" height="5" fill="#feba7a"/>
<rect x="216" y="86" width="5" height="5" fill="#feb674"/>
<rect x="221" y="86" width="5" height="5" fill="#feb26e"/>
<rect x="226" y="86" width="5" height="5" fill="#feae68"/>
<rect x="231" y="86" width="5" height="5" fill="#feaa61"/>
<rect x="236" y="86" width="5" height="5" fill="#fea55a"/>
<rect x="61" y="91" width="5" height="5" fill="#00fee2"/>
<rect x="66" y="91" width="5" height="5" fill="#00fee0"/>
<rect x="71" y="91" width="5" height="5" fill="#00fedd"/>
<rect x="76" y="91" width="5" height="5" fill="#14fed7"/>
<rect x="81" y="91" width="5" height="5" fill="#2dfed3"/>
<rect x="86" y="91" width="5" height="5" fill="#41fecf"/>
<rect x="91" y="91" width="5" height="5" fill="#52fecc"/>
<rect x="96" y="91" width="5" height="5" fill="#62fec8"/>
<rect x="101" y="91" width="5" height="5" fill="#71fec5"/>
<rect x="106" y="91" width="5" height="5" fill="#81fec2"/>
<rect x="111" y="91" width="5" height="5" fill="#91febf"/>
<rect x="116" y="91" width="5" height="5" fill="#a2febd"/>
<rect x="121" y="91" width="5" height="5" fill="#b5febe"/>
<rect x="126" y="91" width="5" height="5" fill="#cafec3"/>
<rect x="131" y="91" width="5" height="5" fill="#dcfec9"/>
<rect x="136" y="91" width="5" height="5" fill="#e9fecd"/>
<rect x="141" y="91" width="5" height="5" fill="#f4fecf"/>
<rect x="146" y="91" width="5" height="5" fill="#fcfecf"/>
<rect x="151" y="91" width="5" height="5" fill="#fefcc9"/>
<rect x="156" y="91" width="5" height="5" fill="#fef8c2"/>
<rect x="161" y="91" width="5" height="5" fill="#fef3bb"/>
<rect x="166" y="91" width="5" height="5" fill="#feecb5"/>
<rect x="171" y="91" width="5" height="5" fill="#fee5ae"/>
<rect x="176" y="91" width="5" height="5" fill="#fedea8"/>
<rect x="181" y="91" width="5" height="5" fill="#fed8a2"/>
<rect x="186" y="91" width="5" height="5" fill="#fed29c"/>
<rect x="191" y="91" width="5" height="5" fill="#fec996"/>
<rect x="196" y="91" width="5" height="5" fill="#fec490"/>
<rect x="201" y="91" width="5" height="5" fill="#fec08a"/>
<rect x="206" y="91" width="5" height="5" fill="#febb85"/>
<rect x="211" y="91" width="5" height="5" fill="#feb77f"/>
<rect x="216" y="91" width="5" height="5" fill="#feb379"/>
<rect x="221" y="91" width="5" height="5" fill="#feaf73"/>
<rect x="226" y="91" width="5" height="5" fill="#feaa6d"/>
<rect x="231" y="91" width="5" height="5" fill="#fea667"/>
<rect x="236" y="91" width="5" height="5" fill="#fea261"/>
<rect x="61" y="96" width="5" height="5" fill="#00fee7"/>
<rect x="66" y="96" width="5" height="5" fill="#00fee5"/>
<rect x="71" y="96" width="5" height="5" fill="#00fee2"/>
<rect x="76" y="96" width="5" height="5" fill="#1dfedd"/>
<rect x="81" y="96" width="5" height="5" fill="#35fed9"/>
<rect x="86" y="96" width="5" height="5" fill="#48fed6"/>
<rect x="91" y="96" width="5" height="5" fill="#59fed3"/>
<rect x="96" y="96" width="5" height="5" fill="#69fed0"/>
<rect x="101" y="96" width="5" height="5" fill="#78fecd"/>
<rect x="106" y="96" width="5" height="5" fill="#87feca"/>
<rect x="111" y="96" width="5" height="5" fill="#97fec7"/>
<rect x="116" y="96" width="5" height="5" fill="#a8fec5"/>
<rect x="121" y="96" width="5" height="5" fill="#bbfec5"/>
<rect x="126" y="96" width="5" height="5" fill="#d0feca"/>
<rect x="131" y="96" width="5" height="5" fill="#e2fed1"/>
<rect x="136" y="96" width="5" height="5" fill="#effed4"/>
<rect x="141" y="96" width="5" height="5" fill="#f9fed6"/>
<rect x="146" y="96" width="5" height="5" fill="#fefdd4"/>
<rect x="151" y="96" width="5" height="5" fill="#fefacc"/>
<rect x="156" y="96" width="5" height="5" fill="#fef4c5"/>
<rect x="161" y="96" width="5" height="5" fill="#feedbe"/>
<rect x="166" y="96" width="5" height="5" fill="#fee5b8"/>
<rect x="171" y="96" width="5" height="5" fill="#fedfb1"/>
<rect x="176" y="96" width="5" height="5" fill="#fed8ab"/>
<rect x="181" y="96" width="5" height="5" fill="#fed0a5"/>
<rect x="186" y="96" width="5" height="5" fill="#fecb9f"/>
<rect x="191" y="96" width="5" height="5" fill="#fec699"/>
<rect x="196" y="96" width="5" height="5" fill="#fec194"/>
<rect x="201" y="96" width="5" height="5" fill="#febc8e"/>
<rect x="206" y="96" width="5" height="5" fill="#feb888"/>
<rect x="211" y="96" width="5" height="5" fill="#feb483"/>
<rect x="216" y="96" width="5" height="5" fill="#feaf7d"/>
<rect x="221" y="96" width="5" height="5" fill="#feab78"/>
<rect x="226" y="96" width="5" height="5" fill="#fea772"/>
<rect x="231" y="96" width="5" height="5" fill="#fea36c"/>
<rect x="236" y="96" width="5" height="5" fill="#fe9f66"/>
<rect x="61" y="101" width="5" height="5" fill="#00feeb"/>
<rect x="66" y="101" width="5" height="5" fill="#00feea"/>
<rect x="71" y="101" width="5" height="5" fill="#00fee7"/>
<rect x="76" y="101" width="5" height="5" fill="#25fee3"/>
<rect x="81" y="101" width="5" height="5" fill="#3cfee0"/>
<rect x="86" y="101" width="5" height="5" fill="#4ffede"/>
<rect x="91" y="101" width="5" height="5" fill="#60fedb"/>
<rect x="96" y="101" width="5" height="5" fill="#70fed9"/>
<rect x="101" y="101" width="5" height="5" fill="#7ffed6"/>
<rect x="106" y="101" width="5" height="5" fill="#8efed3"/>
<rect x="111" y="101" width="5" height="5" fill="#9efed0"/>
<rect x="116" y="101" width="5" height="5" fill="#aefece"/>
<rect x="121" y="101" width="5" height="5" fill="#c1fece"/>
<rect x="126" y="101" width="5" height="5" fill="#d6fed2"/>
<rect x="131" y="101" width="5" height="5" fill="#e8fed9"/>
<rect x="136" y="101" width="5" height="5" fill="#f4fedc"/>
<rect x="141" y="101" width="5" height="5" fill="#fefedd"/>
<rect x="146" y="101" width="5" height="5" fill="#fefbd6"/>
<rect x="151" y="101" width="5" height="5" fill="#fef6cf"/>
<rect x="156" y="101" width="5" height="5" fill="#feeec8"/>
<rect x="161" y="101" width="5" height="5" fill="#fee6c1"/>
<rect x="166" y="101" width="5" height="5" fill="#fedfba"/>
<rect x="171" y="101" width="5" height="5" fill="#fed7b4"/>
<rect x="176" y="101" width="5" height="5" fill="#fed1ae"/>
<rect x="181" y="101" width="5" height="5" fill="#fecca8"/>
<rect x="186" y="101" width="5" height="5" fill="#fec7a2"/>
<rect x="191" y="101" width="5" height="5" fill="#fec29c"/>
<rect x="196" y="101" width="5" height="5" fill="#febd97"/>
<rect x="201" y="101" width="5" height="5" fill="#feb991"/>
<rect x="206" y="101" width="5" height="5" fill="#feb48c"/>
<rect x="211" y="101" width="5" height="5" fill="#feb086"/>
<rect x="216" y="101" width="5" height="5" fill="#feac81"/>
<rect x="221" y="101" width="5" height="5" fill="#fea87c"/>
<rect x="226" y="101" width="5" height="5" fill="#fea476"/>
<rect x="231" y="101" width="5" height="5" fill="#fea071"/>
<rect x="236" y="101" width="5" height="5" fill="#fe9c6b"/>
<rect x="61" y="106" width="5" height="5" fill="#00fef2"/>
<rect x="66" y="106" width="5" height="5" fill="#00fef1"/>
<rect x="71" y="106" width="5" height="5" fill="#0efeec"/>
<rect x="76" y="106" width="5" height="5" fill="#2dfee9"/>
<rect x="81" y="106" width="5" height="5" fill="#44fee7"/>
<rect x="86" y="106" width="5" height="5" fill="#57fee5"/>
<rect x="91" y="106" width="5" height="5" fill="#68fee3"/>
<rect x="96" y="106" width="5" height="5" fill="#78fee1"/>
<rect x="101" y="106" width="5" height="5" fill="#87fedf"/>
<rect x="106" y="106" width="5" height="5" fill="#96fedd"/>
<rect x="111" y="106" width="5" height="5" fill="#a5feda"/>
<rect x="116" y="106" width="5" height="5" fill="#b5fed8"/>
<rect x="121" y="106" width="5" height="5" fill="#c7fed6"/>
<rect x="126" y="106" width="5" height="5" fill="#dcfeda"/>
<rect x="131" y="106" width="5" height="5" fill="#eefee1"/>
<rect x="136" y="106" width="5" height="5" fill="#fafee4"/>
<rect x="141" y="106" width="5" height="5" fill="#fefde0"/>
<rect x="146" y="106" width="5" height="5" fill="#fef7d9"/>
<rect x="151" y="106" width="5" height="5" fill="#feefd1"/>
<rect x="156" y="106" width="5" height="5" fill="#fee7ca"/>
<rect x="161" y="106" width="5" height="5" fill="#fedfc3"/>
<rect x="166" y="106" width="5" height="5" fill="#fed8bd"/>
<rect x="171" y="106" width="5" height="5" fill="#fed3b6"/>
<rect x="176" y="106" width="5" height="5" fill="#fecdb0"/>
<rect x="181" y="106" width="5" height="5" fill="#fec8aa"/>
<rect x="186" y="106" width="5" height="5" fill="#fec3a5"/>
<rect x="191" y="106" width="5" height="5" fill="#febe9f"/>
<rect x="196" y="106" width="5" height="5" fill="#feba9a"/>
<rect x="201" y="106" width="5" height="5" fill="#feb594"/>
<rect x="206" y="106" width="5" height="5" fill="#feb18f"/>
<rect x="211" y="106" width="5" height="5" fill="#feac8a"/>
<rect x="216" y="106" width="5" height="5" fill="#fea885"/>
<rect x="221" y="106" width="5" height="5" fill="#fea47f"/>
<rect x="226" y="106" width="5" height="5" fill="#fea07a"/>
<rect x="231" y="106" width="5" height="5" fill="#fe9c75"/>
<rect x="236" y="106" width="5" height="5" fill="#fe9970"/>
<rect x="61" y="111" width="5" height="5" fill="#00fef6"/>
<rect x="66" y="111" width="5" height="5" fill="#00fef5"/>
<rect x="71" y="111" width="5" height="5" fill="#00fef2"/>
<rect x="76" y="111" width="5" height="5" fill="#36fef0"/>
<rect x="81" y="111" width="5" height="5" fill="#4cfeef"/>
<rect x="86" y="111" width="5" height="5" fill="#5ffeed"/>
<rect x="91" y="111" width="5" height="5" fill="#70feec"/>
<rect x="96" y="111" width="5" height="5" fill="#81feea"/>
<rect x="101" y="111" width="5" height="5" fill="#90fee8"/>
<rect x="106" y="111" width="5" height="5" fill="#9ffee6"/>
<rect x="111" y="111" width="5" height="5" fill="#aefee4"/>
<rect x="116" y="111" width="5" height="5" fill="#bdfee2"/>
<rect x="121" y="111" width="5" height="5" fill="#cefee0"/>
<rect x="126" y="111" width="5" height="5" fill="#e3fee2"/>
<rect x="131" y="111" width="5" height="5" fill="#f5fee9"/>
<rect x="136" y="111" width="5" height="5" fill="#fefeeb"/>
<rect x="141" y="111" width="5" height="5" fill="#fef9e3"/>
<rect x="146" y="111" width="5" height="5" fill="#fef0db"/>
<rect x="151" y="111" width="5" height="5" fill="#fee7d3"/>
<rect x="156" y="111" width="5" height="5" fill="#fee1cc"/>
<rect x="161" y="111" width="5" height="5" fill="#fedac5"/>
<rect x="166" y="111" width="5" height="5" fill="#fed4bf"/>
<rect x="171" y="111" width="5" height="5" fill="#fecfb9"/>
<rect x="176" y="111" width="5" height="5" fill="#fec9b2"/>
<rect x="181" y="111" width="5" height="5" fill="#fec4ad"/>
<rect x="186" y="111" width="5" height="5" fill="#febfa7"/>
<rect x="191" y="111" width="5" height="5" fill="#febaa2"/>
<rect x="196" y="111" width="5" height="5" fill="#feb69c"/>
<rect x="201" y="111" width="5" height="5" fill="#feb197"/>
<rect x="206" y="111" width="5" height="5" fill="#fead92"/>
<rect x="211" y="111" width="5" height="5" fill="#fea98d"/>
<rect x="216" y="111" width="5" height="5" fill="#fea588"/>
<rect x="221" y="111" width="5" height="5" fill="#fea183"/>
<rect x="226" y="111" width="5" height="5" fill="#fe9d7e"/>
<rect x="231" y="111" width="5" height="5" fill="#fe9979"/>
<rect x="236" y="111" width="5" height="5" fill="#fe9573"/>
<rect x="61" y="116" width="5" height="5" fill="#00fef9"/>
<rect x="66" y="116" width="5" height="5" fill="#00fef8"/>
<rect x="71" y="116" width="5" height="5" fill="#00fef7"/>
<rect x="76" y="116" width="5" height="5" fill="#21fef7"/>
<rect x="81" y="116" width="5" height="5" fill="#3cfef6"/>
<rect x="86" y="116" width="5" height="5" fill="#53fef6"/>
<rect x="91" y="116" width="5" height="5" fill="#7afef4"/>
<rect x="96" y="116" width="5" height="5" fill="#8afef3"/>
<rect x="101" y="116" width="5" height="5" fill="#9afef2"/>
<rect x="106" y="116" width="5" height="5" fill="#a9fef0"/>
<rect x="111" y="116" width="5" height="5" fill="#b7feef"/>
<rect x="116" y="116" width="5" height="5" fill="#c6feed"/>
<rect x="121" y="116" width="5" height="5" fill="#d6feeb"/>
<rect x="126" y="116" width="5" height="5" fill="#e9feeb"/>
<rect x="131" y="116" width="5" height="5" fill="#fbfef1"/>
<rect x="136" y="116" width="5" height="5" fill="#fefbed"/>
<rect x="141" y="116" width="5" height="5" fill="#fef1e4"/>
<rect x="146" y="116" width="5" height="5" fill="#feeadc"/>
<rect x="151" y="116" width="5" height="5" fill="#fee3d5"/>
<rect x="156" y="116" width="5" height="5" fill="#fedcce"/>
<rect x="161" y="116" width="5" height="5" fill="#fed6c7"/>
<rect x="166" y="116" width="5" height="5" fill="#fed0c1"/>
<rect x="171" y="116" width="5" height="5" fill="#fecaba"/>
<rect x="176" y="116" width="5" height="5" fill="#fec5b4"/>
<rect x="181" y="116" width="5" height="5" fill="#fec0af"/>
<rect x="186" y="116" width="5" height="5" fill="#febba9"/>
<rect x="191" y="116" width="5" height="5" fill="#feb6a4"/>
<rect x="196" y="116" width="5" height="5" fill="#feb19e"/>
<rect x="201" y="116" width="5" height="5" fill="#fead99"/>
<rect x="206" y="116" width="5" height="5" fill="#fea994"/>
<rect x="211" y="116" width="5" height="5" fill="#fea58f"/>
<rect x="216" y="116" width="5" height="5" fill="#fea08a"/>
<rect x="221" y="116" width="5" height="5" fill="#fe9c85"/>
<rect x="226" y="116" width="5" height="5" fill="#fe9981"/>
<rect x="231" y="116" width="5" height="5" fill="#fe957c"/>
<rect x="236" y="116" width="5" height="5" fill="#fe9177"/>
<rect x="61" y="121" width="5" height="5" fill="#00fefc"/>
<rect x="66" y="121" width="5" height="5" fill="#00fefb"/>
<rect x="71" y="121" width="5" height="5" fill="#06fefb"/>
<rect x="76" y="121" width="5" height="5" fill="#27fefc"/>
<rect x="81" y="121" width="5" height="5" fill="#42fefc"/>
<rect x="86" y="121" width="5" height="5" fill="#59fefc"/>
<rect x="91" y="121" width="5" height="5" fill="#6ffefb"/>
<rect x="96" y="121" width="5" height="5" fill="#83fefb"/>
<rect x="101" y="121" width="5" height="5" fill="#96fefb"/>
<rect x="106" y="121" width="5" height="5" fill="#a9fefa"/>
<rect x="111" y="121" width="5" height="5" fill="#c3fef9"/>
<rect x="116" y="121" width="5" height="5" fill="#d1fef8"/>
<rect x="121" y="121" width="5" height="5" fill="#e0fef7"/>
<rect x="126" y="121" width="5" height="5" fill="#f1fef5"/>
<rect x="131" y="121" width="5" height="5" fill="#fefef7"/>
<rect x="136" y="121" width="5" height="5" fill="#fef4ee"/>
<rect x="141" y="121" width="5" height="5" fill="#feece6"/>
<rect x="146" y="121" width="5" height="5" fill="#fee5de"/>
<rect x="151" y="121" width="5" height="5" fill="#feded6"/>
<rect x="156" y="121" width="5" height="5" fill="#fed7cf"/>
<rect x="161" y="121" width="5" height="5" fill="#fed1c8"/>
<rect x="166" y="121" width="5" height="5" fill="#fecbc2"/>
<rect x="171" y="121" width="5" height="5" fill="#fec5bc"/>
<rect x="176" y="121" width="5" height="5" fill="#fec0b6"/>
<rect x="181" y="121" width="5" height="5" fill="#febbb0"/>
<rect x="186" y="121" width="5" height="5" fill="#feb6ab"/>
<rect x="191" y="121" width="5" height="5" fill="#feb1a5"/>
<rect x="196" y="121" width="5" height="5" fill="#feada0"/>
<rect x="201" y="121" width="5" height="5" fill="#fea99b"/>
<rect x="206" y="121" width="5" height="5" fill="#fea496"/>
<rect x="211" y="121" width="5" height="5" fill="#fea091"/>
<rect x="216" y="121" width="5" height="5" fill="#fe9c8d"/>
<rect x="221" y="121" width="5" height="5" fill="#fe9888"/>
<rect x="226" y="121" width="5" height="5" fill="#fe9483"/>
<rect x="231" y="121" width="5" height="5" fill="#fe907e"/>
<rect x="236" y="121" width="5" height="5" fill="#fe8d7a"/>
<rect x="61" y="126" width="5" height="5" fill="#00fefe"/>
<rect x="66" y="126" width="5" height="5" fill="#00fefe"/>
<rect x="71" y="126" width="5" height="5" fill="#0cfefe"/>
<rect x="76" y="126" width="5" height="5" fill="#2bfdfe"/>
<rect x="81" y="126" width="5" height="5" fill="#45fdfe"/>
<rect x="86" y="126" width="5" height="5" fill="#5cfdfe"/>
<rect x="91" y="126" width="5" height="5" fill="#72fdfe"/>
<rect x="96" y="126" width="5" height="5" fill="#87fdfe"/>
<rect x="101" y="126" width="5" height="5" fill="#9bfdfe"/>
<rect x="106" y="126" width="5" height="5" fill="#aefdfe"/>
<rect x="111" y="126" width="5" height="5" fill="#c1fdfe"/>
<rect x="116" y="126" width="5" height="5" fill="#d4fdfe"/>
<rect x="121" y="126" width="5" height="5" fill="#e7fefe"/>
<rect x="126" y="126" width="5" height="5" fill="#fbfdfe"/>
<rect x="131" y="126" width="5" height="5" fill="#fef7f8"/>
<rect x="136" y="126" width="5" height="5" fill="#feeeef"/>
<rect x="141" y="126" width="5" height="5" fill="#fee6e6"/>
<rect x="146" y="126" width="5" height="5" fill="#fedfde"/>
<rect x="151" y="126" width="5" height="5" fill="#fed8d7"/>
<rect x="156" y="126" width="5" height="5" fill="#fed1d0"/>
<rect x="161" y="126" width="5" height="5" fill="#fecbc9"/>
<rect x="166" y="126" width="5" height="5" fill="#fec6c3"/>
<rect x="171" y="126" width="5" height="5" fill="#fec0bd"/>
<rect x="176" y="126" width="5" height="5" fill="#febbb7"/>
<rect x="181" y="126" width="5" height="5" fill="#feb6b1"/>
<rect x="186" y="126" width="5" height="5" fill="#feb1ac"/>
<rect x="191" y="126" width="5" height="5" fill="#feaca7"/>
<rect x="196" y="126" width="5" height="5" fill="#fea8a2"/>
<rect x="201" y="126" width="5" height="5" fill="#fea49d"/>
<rect x="206" y="126" width="5" height="5" fill="#fe9f98"/>
<rect x="211" y="126" width="5" height="5" fill="#fe9b93"/>
<rect x="216" y="126" width="5" height="5" fill="#fe978f"/>
<rect x="221" y="126" width="5" height="5" fill="#fe938a"/>
<rect x="226" y="126" width="5" height="5" fill="#fe9085"/>
<rect x="231" y="126" width="5" height="5" fill="#fe8c81"/>
<rect x="236" y="126" width="5" height="5" fill="#fe887c"/>
<rect x="61" y="131" width="5" height="5" fill="#00fcfe"/>
<rect x="66" y="131" width="5" height="5" fill="#00fbfe"/>
<rect x="71" y="131" width="5" height="5" fill="#12fbfe"/>
<rect x="76" y="131" width="5" height="5" fill="#30fafe"/>
<rect x="81" y="131" width="5" height="5" fill="#4afafe"/>
<rect x="86" y="131" width="5" height="5" fill="#61fafe"/>
<rect x="91" y="131" width="5" height="5" fill="#77fafe"/>
<rect x="96" y="131" width="5" height="5" fill="#8cfafe"/>
<rect x="101" y="131" width="5" height="5" fill="#a1fafe"/>
<rect x="106" y="131" width="5" height="5" fill="#b6fafe"/>
<rect x="111" y="131" width="5" height="5" fill="#cbf9fe"/>
<rect x="116" y="131" width="5" height="5" fill="#e0f8fe"/>
<rect x="121" y="131" width="5" height="5" fill="#f4f9fe"/>
<rect x="126" y="131" width="5" height="5" fill="#faf7fe"/>
<rect x="131" y="131" width="5" height="5" fill="#feeef8"/>
<rect x="136" y="131" width="5" height="5" fill="#fee6ee"/>
<rect x="141" y="131" width="5" height="5" fill="#fedee5"/>
<rect x="146" y="131" width="5" height="5" fill="#fed7de"/>
<rect x="151" y="131" width="5" height="5" fill="#fed1d6"/>
<rect x="156" y="131" width="5" height="5" fill="#fecbd0"/>
<rect x="161" y="131" width="5" height="5" fill="#fec5c9"/>
<rect x="166" y="131" width="5" height="5" fill="#febfc3"/>
<rect x="171" y="131" width="5" height="5" fill="#febabd"/>
<rect x="176" y="131" width="5" height="5" fill="#feb5b7"/>
<rect x="181" y="131" width="5" height="5" fill="#feb0b2"/>
<rect x="186" y="131" width="5" height="5" fill="#feabad"/>
<rect x="191" y="131" width="5" height="5" fill="#fea7a8"/>
<rect x="196" y="131" width="5" height="5" fill="#fea2a3"/>
<rect x="201" y="131" width="5" height="5" fill="#fe9e9e"/>
<rect x="206" y="131" width="5" height="5" fill="#fe9a99"/>
<rect x="211" y="131" width="5" height="5" fill="#fe9695"/>
<rect x="216" y="131" width="5" height="5" fill="#fe9290"/>
<rect x="221" y="131" width="5" height="5" fill="#fe8e8c"/>
<rect x="226" y="131" width="5" height="5" fill="#fe8a87"/>
<rect x="231" y="131" width="5" height="5" fill="#fe8683"/>
<rect x="236" y="131" width="5" height="5" fill="#fe837e"/>
<rect x="61" y="136" width="5" height="5" fill="#00fafe"/>
<rect x="66" y="136" width="5" height="5" fill="#00f9fe"/>
<rect x="71" y="136" width="5" height="5" fill="#1af8fe"/>
<rect x="76" y="136" width="5" height="5" fill="#37f8fe"/>
<rect x="81" y="136" width="5" height="5" fill="#51f7fe"/>
<rect x="86" y="136" width="5" height="5" fill="#69f7fe"/>
<rect x="91" y="136" width="5" height="5" fill="#80f7fe"/>
<rect x="96" y="136" width="5" height="5" fill="#97f6fe"/>
<rect x="101" y="136" width="5" height="5" fill="#adf5fe"/>
<rect x="106" y="136" width="5" height="5" fill="#c4f4fe"/>
<rect x="111" y="136" width="5" height="5" fill="#d9f3fe"/>
<rect x="116" y="136" width="5" height="5" fill="#edf4fe"/>
<rect x="121" y="136" width="5" height="5" fill="#f6f7fe"/>
<rect x="126" y="136" width="5" height="5" fill="#f9effe"/>
<rect x="131" y="136" width="5" height="5" fill="#fee6f9"/>
<rect x="136" y="136" width="5" height="5" fill="#feddee"/>
<rect x="141" y="136" width="5" height="5" fill="#fed6e5"/>
<rect x="146" y="136" width="5" height="5" fill="#fecfdd"/>
<rect x="151" y="136" width="5" height="5" fill="#fec9d6"/>
<rect x="156" y="136" width="5" height="5" fill="#fec3cf"/>
<rect x="161" y="136" width="5" height="5" fill="#febec9"/>
<rect x="166" y="136" width="5" height="5" fill="#feb8c3"/>
<rect x="171" y="136" width="5" height="5" fill="#feb3bd"/>
<rect x="176" y="136" width="5" height="5" fill="#feaeb8"/>
<rect x="181" y="136" width="5" height="5" fill="#fea9b2"/>
<rect x="186" y="136" width="5" height="5" fill="#fea5ad"/>
<rect x="191" y="136" width="5" height="5" fill="#fea0a8"/>
<rect x="196" y="136" width="5" height="5" fill="#fe9ca3"/>
<rect x="201" y="136" width="5" height="5" fill="#fe989e"/>
<rect x="206" y="136" width="5" height="5" fill="#fe949a"/>
<rect x="211" y="136" width="5" height="5" fill="#fe9095"/>
<rect x="216" y="136" width="5" height="5" fill="#fe8c91"/>
<rect x="221" y="136" width="5" height="5" fill="#fe888c"/>
<rect x="226" y="136" width="5" height="5" fill="#fe8488"/>
<rect x="231" y="136" width="5" height="5" fill="#fe8084"/>
<rect x="236" y="136" width="5" height="5" fill="#fe7d80"/>
<rect x="61" y="141" width="5" height="5" fill="#00f9fe"/>
<rect x="66" y="141" width="5" height="5" fill="#00f6fe"/>
<rect x="71" y="141" width="5" height="5" fill="#23f5fe"/>
<rect x="76" y="141" width="5" height="5" fill="#41f5fe"/>
<rect x="81" y="141" width="5" height="5" fill="#5cf4fe"/>
<rect x="86" y="141" width="5" height="5" fill="#75f3fe"/>
<rect x="91" y="141" width="5" height="5" fill="#8df2fe"/>
<rect x="96" y="141" width="5" height="5" fill="#a5f1fe"/>
<rect x="101" y="141" width="5" height="5" fill="#bceffe"/>
<rect x="106" y="141" width="5" height="5" fill="#d2effe"/>
<rect x="111" y="141" width="5" height="5" fill="#e6f0fe"/>
<rect x="116" y="141" width="5" height="5" fill="#f1f4fe"/>
<rect x="121" y="141" width="5" height="5" fill="#f2eefe"/>
<rect x="126" y="141" width="5" height="5" fill="#f7e8fe"/>
<rect x="131" y="141" width="5" height="5" fill="#fee0fb"/>
<rect x="136" y="141" width="5" height="5" fill="#fed5f0"/>
<rect x="141" y="141" width="5" height="5" fill="#fecee6"/>
<rect x="146" y="141" width="5" height="5" fill="#fec7de"/>
<rect x="151" y="141" width="5" height="5" fill="#fec1d6"/>
<rect x="156" y="141" width="5" height="5" fill="#febbcf"/>
<rect x="161" y="141" width="5" height="5" fill="#feb6c9"/>
<rect x="166" y="141" width="5" height="5" fill="#feb1c3"/>
<rect x="171" y="141" width="5" height="5" fill="#feacbd"/>
<rect x="176" y="141" width="5" height="5" fill="#fea7b8"/>
<rect x="181" y="141" width="5" height="5" fill="#fea2b2"/>
<rect x="186" y="141" width="5" height="5" fill="#fe9ead"/>
<rect x="191" y="141" width="5" height="5" fill="#fe9aa8"/>
<rect x="196" y="141" width="5" height="5" fill="#fe95a4"/>
<rect x="201" y="141" width="5" height="5" fill="#fe919f"/>
<rect x="206" y="141" width="5" height="5" fill="#fe8d9a"/>
<rect x="211" y="141" width="5" height="5" fill="#fe8996"/>
<rect x="216" y="141" width="5" height="5" fill="#fe8591"/>
<rect x="221" y="141" width="5" height="5" fill="#fe818d"/>
<rect x="226" y="141" width="5" height="5" fill="#fe7e89"/>
<rect x="231" y="141" width="5" height="5" fill="#fe7a85"/>
<rect x="236" y="141" width="5" height="5" fill="#fe7681"/>
<rect x="61" y="146" width="5" height="5" fill="#00f5fe"/>
<rect x="66" y="146" width="5" height="5" fill="#0bf3fe"/>
<rect x="71" y="146" width="5" height="5" fill="#2ef2fe"/>
<rect x="76" y="146" width="5" height="5" fill="#4cf1fe"/>
<rect x="81" y="146" width="5" height="5" fill="#68effe"/>
<rect x="86" y="146" width="5" height="5" fill="#82eefe"/>
<rect x="91" y="146" width="5" height="5" fill="#9becfe"/>
<rect x="96" y="146" width="5" height="5" fill="#b3ebfe"/>
<rect x="101" y="146" width="5" height="5" fill="#caeafe"/>
<rect x="106" y="146" width="5" height="5" fill="#deebfe"/>
<rect x="111" y="146" width="5" height="5" fill="#ebf0fe"/>
<rect x="116" y="146" width="5" height="5" fill="#efeffe"/>
<rect x="121" y="146" width="5" height="5" fill="#efe6fe"/>
<rect x="126" y="146" width="5" height="5" fill="#f6e0fe"/>
<rect x="131" y="146" width="5" height="5" fill="#fed9fd"/>
<rect x="136" y="146" width="5" height="5" fill="#fecef1"/>
<rect x="141" y="146" width="5" height="5" fill="#fec6e7"/>
<rect x="146" y="146" width="5" height="5" fill="#febfde"/>
<rect x="151" y="146" width="5" height="5" fill="#feb9d7"/>
<rect x="156" y="146" width="5" height="5" fill="#feb3d0"/>
<rect x="161" y="146" width="5" height="5" fill="#feaec9"/>
<rect x="166" y="146" width="5" height="5" fill="#fea9c3"/>
<rect x="171" y="146" width="5" height="5" fill="#fea4bd"/>
<rect x="176" y="146" width="5" height="5" fill="#fea0b8"/>
<rect x="181" y="146" width="5" height="5" fill="#fe9bb3"/>
<rect x="186" y="146" width="5" height="5" fill="#fe97ae"/>
<rect x="191" y="146" width="5" height="5" fill="#fe92a9"/>
<rect x="196" y="146" width="5" height="5" fill="#fe8ea4"/>
<rect x="201" y="146" width="5" height="5" fill="#fe8a9f"/>
<rect x="206" y="146" width="5" height="5" fill="#fe869b"/>
<rect x="211" y="146" width="5" height="5" fill="#fe8296"/>
<rect x="216" y="146" width="5" height="5" fill="#fe7e92"/>
<rect x="221" y="146" width="5" height="5" fill="#fe7a8e"/>
<rect x="226" y="146" width="5" height="5" fill="#fe778a"/>
<rect x="231" y="146" width="5" height="5" fill="#fe7385"/>
<rect x="236" y="146" width="5" height="5" fill="#fe6f81"/>
<rect x="61" y="151" width="5" height="5" fill="#00f2fe"/>
<rect x="66" y="151" width="5" height="5" fill="#18effe"/>
<rect x="71" y="151" width="5" height="5" fill="#3beefe"/>
<rect x="76" y="151" width="5" height="5" fill="#5aecfe"/>
<rect x="81" y="151" width="5" height="5" fill="#76eafe"/>
<rect x="86" y="151" width="5" height="5" fill="#91e8fe"/>
<rect x="91" y="151" width="5" height="5" fill="#aae6fe"/>
<rect x="96" y="151" width="5" height="5" fill="#c1e6fe"/>
<rect x="101" y="151" width="5" height="5" fill="#d6e7fe"/>
<rect x="106" y="151" width="5" height="5" fill="#e4ecfe"/>
<rect x="111" y="151" width="5" height="5" fill="#ecedfe"/>
<rect x="116" y="151" width="5" height="5" fill="#ebe6fe"/>
<rect x="121" y="151" width="5" height="5" fill="#eedefe"/>
<rect x="126" y="151" width="5" height="5" fill="#f5d9fe"/>
<rect x="131" y="151" width="5" height="5" fill="#fed3fe"/>
<rect x="136" y="151" width="5" height="5" fill="#fec7f3"/>
<rect x="141" y="151" width="5" height="5" fill="#febee9"/>
<rect x="146" y="151" width="5" height="5" fill="#feb7e0"/>
<rect x="151" y="151" width="5" height="5" fill="#feb1d8"/>
<rect x="156" y="151" width="5" height="5" fill="#feacd0"/>
<rect x="161" y="151" width="5" height="5" fill="#fea6ca"/>
<rect x="166" y="151" width="5" height="5" fill="#fea2c4"/>
<rect x="171" y="151" width="5" height="5" fill="#fe9dbe"/>
<rect x="176" y="151" width="5" height="5" fill="#fe98b8"/>
<rect x="181" y="151" width="5" height="5" fill="#fe94b3"/>
<rect x="186" y="151" width="5" height="5" fill="#fe8fae"/>
<rect x="191" y="151" width="5" height="5" fill="#fe8ba9"/>
<rect x="196" y="151" width="5" height="5" fill="#fe87a4"/>
<rect x="201" y="151" width="5" height="5" fill="#fe83a0"/>
<rect x="206" y="151" width="5" height="5" fill="#fe7f9b"/>
<rect x="211" y="151" width="5" height="5" fill="#fe7b97"/>
<rect x="216" y="151" width="5" height="5" fill="#fe7793"/>
<rect x="221" y="151" width="5" height="5" fill="#fe738e"/>
<rect x="226" y="151" width="5" height="5" fill="#fe6f8a"/>
<rect x="231" y="151" width="5" height="5" fill="#fe6b86"/>
<rect x="236" y="151" width="5" height="5" fill="#fe6782"/>
<rect x="61" y="156" width="5" height="5" fill="#00eefe"/>
<rect x="66" y="156" width="5" height="5" fill="#26ebfe"/>
<rect x="71" y="156" width="5" height="5" fill="#49e9fe"/>
<rect x="76" y="156" width="5" height="5" fill="#69e6fe"/>
<rect x="81" y="156" width="5" height="5" fill="#85e4fe"/>
<rect x="86" y="156" width="5" height="5" fill="#a0e2fe"/>
<rect x="91" y="156" width="5" height="5" fill="#b7e2fe"/>
<rect x="96" y="156" width="5" height="5" fill="#cce4fe"/>
<rect x="101" y="156" width="5" height="5" fill="#dde7fe"/>
<rect x="106" y="156" width="5" height="5" fill="#e7ebfe"/>
<rect x="111" y="156" width="5" height="5" fill="#e8e7fe"/>
<rect x="116" y="156" width="5" height="5" fill="#e8defe"/>
<rect x="121" y="156" width="5" height="5" fill="#ecd7fe"/>
<rect x="126" y="156" width="5" height="5" fill="#f4d1fe"/>
<rect x="131" y="156" width="5" height="5" fill="#feccfe"/>
<rect x="136" y="156" width="5" height="5" fill="#fec1f4"/>
<rect x="141" y="156" width="5" height="5" fill="#feb8ea"/>
<rect x="146" y="156" width="5" height="5" fill="#feb0e1"/>
<rect x="151" y="156" width="5" height="5" fill="#feaad9"/>
<rect x="156" y="156" width="5" height="5" fill="#fea4d2"/>
<rect x="161" y="156" width="5" height="5" fill="#fe9fcb"/>
<rect x="166" y="156" width="5" height="5" fill="#fe9ac4"/>
<rect x="171" y="156" width="5" height="5" fill="#fe95bf"/>
<rect x="176" y="156" width="5" height="5" fill="#fe91b9"/>
<rect x="181" y="156" width="5" height="5" fill="#fe8cb4"/>
<rect x="186" y="156" width="5" height="5" fill="#fe88af"/>
<rect x="191" y="156" width="5" height="5" fill="#fe84aa"/>
<rect x="196" y="156" width="5" height="5" fill="#fe80a5"/>
<rect x="201" y="156" width="5" height="5" fill="#fe7ba0"/>
<rect x="206" y="156" width="5" height="5" fill="#fe779c"/>
<rect x="211" y="156" width="5" height="5" fill="#fe7398"/>
<rect x="216" y="156" width="5" height="5" fill="#fe6f93"/>
<rect x="221" y="156" width="5" height="5" fill="#fe6c8f"/>
<rect x="226" y="156" width="5" height="5" fill="#fe688b"/>
<rect x="231" y="156" width="5" height="5" fill="#fe6487"/>
<rect x="236" y="156" width="5" height="5" fill="#fe6083"/>
<rect x="61" y="161" width="5" height="5" fill="#0ae9fe"/>
<rect x="66" y="161" width="5" height="5" fill="#36e6fe"/>
<rect x="71" y="161" width="5" height="5" fill="#59e3fe"/>
<rect x="76" y="161" width="5" height="5" fill="#78e0fe"/>
<rect x="81" y="161" width="5" height="5" fill="#94defe"/>
<rect x="86" y="161" width="5" height="5" fill="#addefe"/>
<rect x="91" y="161" width="5" height="5" fill="#c3e0fe"/>
<rect x="96" y="161" width="5" height="5" fill="#d5e3fe"/>
<rect x="101" y="161" width="5" height="5" fill="#e1e7fe"/>
<rect x="106" y="161" width="5" height="5" fill="#e5e6fe"/>
<rect x="111" y="161" width="5" height="5" fill="#e4defe"/>
<rect x="116" y="161" width="5" height="5" fill="#e6d6fe"/>
<rect x="121" y="161" width="5" height="5" fill="#ebcffe"/>
<rect x="126" y="161" width="5" height="5" fill="#f3cafe"/>
<rect x="131" y="161" width="5" height="5" fill="#fcc4fe"/>
<rect x="136" y="161" width="5" height="5" fill="#febaf6"/>
<rect x="141" y="161" width="5" height="5" fill="#feb1ec"/>
<rect x="146" y="161" width="5" height="5" fill="#fea9e3"/>
<rect x="151" y="161" width="5" height="5" fill="#fea3da"/>
<rect x="156" y="161" width="5" height="5" fill="#fe9dd3"/>
<rect x="161" y="161" width="5" height="5" fill="#fe97cc"/>
<rect x="166" y="161" width="5" height="5" fill="#fe92c6"/>
<rect x="171" y="161" width="5" height="5" fill="#fe8ec0"/>
<rect x="176" y="161" width="5" height="5" fill="#fe89ba"/>
<rect x="181" y="161" width="5" height="5" fill="#fe85b5"/>
<rect x="186" y="161" width="5" height="5" fill="#fe80af"/>
<rect x="191" y="161" width="5" height="5" fill="#fe7cab"/>
<rect x="196" y="161" width="5" height="5" fill="#fe78a6"/>
<rect x="201" y="161" width="5" height="5" fill="#fe74a1"/>
<rect x="206" y="161" width="5" height="5" fill="#fe709d"/>
<rect x="211" y="161" width="5" height="5" fill="#fe6c98"/>
<rect x="216" y="161" width="5" height="5" fill="#fe6894"/>
<rect x="221" y="161" width="5" height="5" fill="#fe6490"/>
<rect x="226" y="161" width="5" height="5" fill="#fe608c"/>
<rect x="231" y="161" width="5" height="5" fill="#fe5b88"/>
<rect x="236" y="161" width="5" height="5" fill="#fe5784"/>
<rect x="61" y="166" width="5" height="5" fill="#1ce3fe"/>
<rect x="66" y="166" width="5" height="5" fill="#46e0fe"/>
<rect x="71" y="166" width="5" height="5" fill="#69ddfe"/>
<rect x="76" y="166" width="5" height="5" fill="#87dbfe"/>
<rect x="81" y="166" width="5" height="5" fill="#a2dafe"/>
<rect x="86" y="166" width="5" height="5" fill="#b9dcfe"/>
<rect x="91" y="166" width="5" height="5" fill="#cddffe"/>
<rect x="96" y="166" width="5" height="5" fill="#dae3fe"/>
<rect x="101" y="166" width="5" height="5" fill="#e1e4fe"/>
<rect x="106" y="166" width="5" height="5" fill="#e1dffe"/>
<rect x="111" y="166" width="5" height="5" fill="#e1d6fe"/>
<rect x="116" y="166" width="5" height="5" fill="#e4cefe"/>
<rect x="121" y="166" width="5" height="5" fill="#eac8fe"/>
<rect x="126" y="166" width="5" height="5" fill="#f2c2fe"/>
<rect x="131" y="166" width="5" height="5" fill="#fbbdfe"/>
<rect x="136" y="166" width="5" height="5" fill="#feb4f8"/>
<rect x="141" y="166" width="5" height="5" fill="#feaaed"/>
<rect x="146" y="166" width="5" height="5" fill="#fea2e4"/>
<rect x="151" y="166" width="5" height="5" fill="#fe9cdc"/>
<rect x="156" y="166" width="5" height="5" fill="#fe96d4"/>
<rect x="161" y="166" width="5" height="5" fill="#fe90cd"/>
<rect x="166" y="166" width="5" height="5" fill="#fe8bc7"/>
<rect x="171" y="166" width="5" height="5" fill="#fe86c1"/>
<rect x="176" y="166" width="5" height="5" fill="#fe82bb"/>
<rect x="181" y="166" width="5" height="5" fill="#fe7db6"/>
<rect x="186" y="166" width="5" height="5" fill="#fe79b1"/>
<rect x="191" y="166" width="5" height="5" fill="#fe75ac"/>
<rect x="196" y="166" width="5" height="5" fill="#fe70a7"/>
<rect x="201" y="166" width="5" height="5" fill="#fe6ca2"/>
<rect x="206" y="166" width="5" height="5" fill="#fe689e"/>
<rect x="211" y="166" width="5" height="5" fill="#fe6499"/>
<rect x="216" y="166" width="5" height="5" fill="#fe6095"/>
<rect x="221" y="166" width="5" height="5" fill="#fe5c91"/>
<rect x="226" y="166" width="5" height="5" fill="#fe578d"/>
<rect x="231" y="166" width="5" height="5" fill="#fe5389"/>
<rect x="236" y="166" width="5" height="5" fill="#fe4f85"/>
<rect x="61" y="171" width="5" height="5" fill="#2eddfe"/>
<rect x="66" y="171" width="5" height="5" fill="#56d9fe"/>
<rect x="71" y="171" width="5" height="5" fill="#78d7fe"/>
<rect x="76" y="171" width="5" height="5" fill="#95d6fe"/>
<rect x="81" y="171" width="5" height="5" fill="#aed8fe"/>
<rect x="86" y="171" width="5" height="5" fill="#c4dafe"/>
<rect x="91" y="171" width="5" height="5" fill="#d3dffe"/>
<rect x="96" y="171" width="5" height="5" fill="#dce2fe"/>
<rect x="101" y="171" width="5" height="5" fill="#dfdffe"/>
<rect x="106" y="171" width="5" height="5" fill="#ddd6fe"/>
<rect x="111" y="171" width="5" height="5" fill="#decefe"/>
<rect x="116" y="171" width="5" height="5" fill="#e3c7fe"/>
<rect x="121" y="171" width="5" height="5" fill="#e9c1fe"/>
<rect x="126" y="171" width="5" height="5" fill="#f1bbfe"/>
<rect x="131" y="171" width="5" height="5" fill="#fab6fe"/>
<rect x="136" y="171" width="5" height="5" fill="#feadf9"/>
<rect x="141" y="171" width="5" height="5" fill="#fea4ef"/>
<rect x="146" y="171" width="5" height="5" fill="#fe9ce6"/>
<rect x="151" y="171" width="5" height="5" fill="#fe95de"/>
<rect x="156" y="171" width="5" height="5" fill="#fe8fd6"/>
<rect x="161" y="171" width="5" height="5" fill="#fe89cf"/>
<rect x="166" y="171" width="5" height="5" fill="#fe84c8"/>
<rect x="171" y="171" width="5" height="5" fill="#fe7fc2"/>
<rect x="176" y="171" width="5" height="5" fill="#fe7abc"/>
<rect x="181" y="171" width="5" height="5" fill="#fe76b7"/>
<rect x="186" y="171" width="5" height="5" fill="#fe71b2"/>
<rect x="191" y="171" width="5" height="5" fill="#fe6dad"/>
<rect x="196" y="171" width="5" height="5" fill="#fe69a8"/>
<rect x="201" y="171" width="5" height="5" fill="#fe64a3"/>
<rect x="206" y="171" width="5" height="5" fill="#fe609f"/>
<rect x="211" y="171" width="5" height="5" fill="#fe5c9b"/>
<rect x="216" y="171" width="5" height="5" fill="#fe5796"/>
<rect x="221" y="171" width="5" height="5" fill="#fe5392"/>
<rect x="226" y="171" width="5" height="5" fill="#fe4f8e"/>
<rect x="231" y="171" width="5" height="5" fill="#fe4a8a"/>
<rect x="236" y="171" width="5" height="5" fill="#fe4586"/>
<rect x="61" y="176" width="5" height="5" fill="#3fd7fe"/>
<rect x="66" y="176" width="5" height="5" fill="#66d4fe"/>
<rect x="71" y="176" width="5" height="5" fill="#87d3fe"/>
<rect x="76" y="176" width="5" height="5" fill="#a2d4fe"/>
<rect x="81" y="176" width="5" height="5" fill="#bad5fe"/>
<rect x="86" y="176" width="5" height="5" fill="#cbdbfe"/>
<rect x="91" y="176" width="5" height="5" fill="#d6defe"/>
<rect x="96" y="176" width="5" height="5" fill="#dcdefe"/>
<rect x="101" y="176" width="5" height="5" fill="#dbd7fe"/>
<rect x="106" y="176" width="5" height="5" fill="#dacefe"/>
<rect x="111" y="176" width="5" height="5" fill="#dcc6fe"/>
<rect x="116" y="176" width="5" height="5" fill="#e1bffe"/>
<rect x="121" y="176" width="5" height="5" fill="#e8b9fe"/>
<rect x="126" y="176" width="5" height="5" fill="#f0b4fe"/>
<rect x="131" y="176" width="5" height="5" fill="#f9aefe"/>
<rect x="136" y="176" width="5" height="5" fill="#fea7fa"/>
<rect x="141" y="176" width="5" height="5" fill="#fe9df1"/>
<rect x="146" y="176" width="5" height="5" fill="#fe95e8"/>
<rect x="151" y="176" width="5" height="5" fill="#fe8edf"/>
<rect x="156" y="176" width="5" height="5" fill="#fe88d8"/>
<rect x="161" y="176" width="5" height="5" fill="#fe82d0"/>
<rect x="166" y="176" width="5" height="5" fill="#fe7dca"/>
<rect x="171" y="176" width="5" height="5" fill="#fe78c4"/>
<rect x="176" y="176" width="5" height="5" fill="#fe73be"/>
<rect x="181" y="176" width="5" height="5" fill="#fe6eb8"/>
<rect x="186" y="176" width="5" height="5" fill="#fe6ab3"/>
<rect x="191" y="176" width="5" height="5" fill="#fe65ae"/>
<rect x="196" y="176" width="5" height="5" fill="#fe61a9"/>
<rect x="201" y="176" width="5" height="5" fill="#fe5ca5"/>
<rect x="206" y="176" width="5" height="5" fill="#fe58a0"/>
<rect x="211" y="176" width="5" height="5" fill="#fe539c"/>
<rect x="216" y="176" width="5" height="5" fill="#fe4f98"/>
<rect x="221" y="176" width="5" height="5" fill="#fe4a94"/>
<rect x="226" y="176" width="5" height="5" fill="#fe468f"/>
<rect x="231" y="176" width="5" height="5" fill="#fe418b"/>
<rect x="236" y="176" width="5" height="5" fill="#fe3c88"/>
<rect x="61" y="181" width="5" height="5" fill="#51d1fe"/>
<rect x="66" y="181" width="5" height="5" fill="#76cffe"/>
<rect x="71" y="181" width="5" height="5" fill="#94d0fe"/>
<rect x="76" y="181" width="5" height="5" fill="#b0d0fe"/>
<rect x="81" y="181" width="5" height="5" fill="#c2d6fe"/>
<rect x="86" y="181" width="5" height="5" fill="#d0dafe"/>
<rect x="91" y="181" width="5" height="5" fill="#d7dcfe"/>
<rect x="96" y="181" width="5" height="5" fill="#d8d7fe"/>
<rect x="101" y="181" width="5" height="5" fill="#d7cefe"/>
<rect x="106" y="181" width="5" height="5" fill="#d7c5fe"/>
<rect x="111" y="181" width="5" height="5" fill="#dbbefe"/>
<rect x="116" y="181" width="5" height="5" fill="#e0b8fe"/>
<rect x="121" y="181" width="5" height="5" fill="#e7b2fe"/>
<rect x="126" y="181" width="5" height="5" fill="#efacfe"/>
<rect x="131" y="181" width="5" height="5" fill="#f8a7fe"/>
<rect x="136" y="181" width="5" height="5" fill="#fea0fc"/>
<rect x="141" y="181" width="5" height="5" fill="#fe97f2"/>
<rect x="146" y="181" width="5" height="5" fill="#fe8ee9"/>
<rect x="151" y="181" width="5" height="5" fill="#fe87e1"/>
<rect x="156" y="181" width="5" height="5" fill="#fe81d9"/>
<rect x="161" y="181" width="5" height="5" fill="#fe7bd2"/>
<rect x="166" y="181" width="5" height="5" fill="#fe75cb"/>
<rect x="171" y="181" width="5" height="5" fill="#fe70c5"/>
<rect x="176" y="181" width="5" height="5" fill="#fe6bbf"/>
<rect x="181" y="181" width="5" height="5" fill="#fe66ba"/>
<rect x="186" y="181" width="5" height="5" fill="#fe62b5"/>
<rect x="191" y="181" width="5" height="5" fill="#fe5db0"/>
<rect x="196" y="181" width="5" height="5" fill="#fe59ab"/>
<rect x="201" y="181" width="5" height="5" fill="#fe54a6"/>
<rect x="206" y="181" width="5" height="5" fill="#fe4fa2"/>
<rect x="211" y="181" width="5" height="5" fill="#fe4b9d"/>
<rect x="216" y="181" width="5" height="5" fill="#fe4699"/>
<rect x="221" y="181" width="5" height="5" fill="#fe4195"/>
<rect x="226" y="181" width="5" height="5" fill="#fe3c91"/>
<rect x="231" y="181" width="5" height="5" fill="#fe378d"/>
<rect x="236" y="181" width="5" height="5" fill="#fe3189"/>
<rect x="61" y="186" width="5" height="5" fill="#62cbfe"/>
<rect x="66" y="186" width="5" height="5" fill="#85cbfe"/>
<rect x="71" y="186" width="5" height="5" fill="#a1cefe"/>
<rect x="76" y="186" width="5" height="5" fill="#b8d1fe"/>
<rect x="81" y="186" width="5" height="5" fill="#c8d6fe"/>
<rect x="86" y="186" width="5" height="5" fill="#d2d9fe"/>
<rect x="91" y="186" width="5" height="5" fill="#d6d7fe"/>
<rect x="96" y="186" width="5" height="5" fill="#d4cffe"/>
<rect x="101" y="186" width="5" height="5" fill="#d3c6fe"/>
<rect x="106" y="186" width="5" height="5" fill="#d5bdfe"/>
<rect x="111" y="186" width="5" height="5" fill="#dab7fe"/>
<rect x="116" y="186" width="5" height="5" fill="#e0b0fe"/>
<rect x="121" y="186" width="5" height="5" fill="#e7abfe"/>
<rect x="126" y="186" width="5" height="5" fill="#eea5fe"/>
<rect x="131" y="186" width="5" height="5" fill="#f7a0fe"/>
<rect x="136" y="186" width="5" height="5" fill="#fe9afd"/>
<rect x="141" y="186" width="5" height="5" fill="#fe90f4"/>
<rect x="146" y="186" width="5" height="5" fill="#fe88eb"/>
<rect x="151" y="186" width="5" height="5" fill="#fe80e3"/>
<rect x="156" y="186" width="5" height="5" fill="#fe7adb"/>
<rect x="161" y="186" width="5" height="5" fill="#fe74d4"/>
<rect x="166" y="186" width="5" height="5" fill="#fe6ecd"/>
<rect x="171" y="186" width="5" height="5" fill="#fe69c7"/>
<rect x="176" y="186" width="5" height="5" fill="#fe64c1"/>
<rect x="181" y="186" width="5" height="5" fill="#fe5fbb"/>
<rect x="186" y="186" width="5" height="5" fill="#fe5ab6"/>
<rect x="191" y="186" width="5" height="5" fill="#fe55b1"/>
<rect x="196" y="186" width="5" height="5" fill="#fe50ac"/>
<rect x="201" y="186" width="5" height="5" fill="#fe4ca8"/>
<rect x="206" y="186" width="5" height="5" fill="#fe47a3"/>
<rect x="211" y="186" width="5" height="5" fill="#fe429f"/>
<rect x="216" y="186" width="5" height="5" fill="#fe3c9b"/>
<rect x="221" y="186" width="5" height="5" fill="#fe3797"/>
<rect x="226" y="186" width="5" height="5" fill="#fe3193"/>
<rect x="231" y="186" width="5" height="5" fill="#fe2b8f"/>
<rect x="236" y="186" width="5" height="5" fill="#fe248b"/>
<rect x="61" y="191" width="5" height="5" fill="#72c7fe"/>
<rect x="66" y="191" width="5" height="5" fill="#92c9fe"/>
<rect x="71" y="191" width="5" height="5" fill="#adcbfe"/>
<rect x="76" y="191" width="5" height="5" fill="#bfd1fe"/>
<rect x="81" y="191" width="5" height="5" fill="#cbd6fe"/>
<rect x="86" y="191" width="5" height="5" fill="#d2d6fe"/>
<rect x="91" y="191" width="5" height="5" fill="#d2d0fe"/>
<rect x="96" y="191" width="5" height="5" fill="#d0c6fe"/>
<rect x="101" y="191" width="5" height="5" fill="#d1bdfe"/>
<rect x="106" y="191" width="5" height="5" fill="#d4b6fe"/>
<rect x="111" y="191" width="5" height="5" fill="#d9affe"/>
<rect x="116" y="191" width="5" height="5" fill="#dfa9fe"/>
<rect x="121" y="191" width="5" height="5" fill="#e6a3fe"/>
<rect x="126" y="191" width="5" height="5" fill="#ee9efe"/>
<rect x="131" y="191" width="5" height="5" fill="#f698fe"/>
<rect x="136" y="191" width="5" height="5" fill="#fe93fe"/>
<rect x="141" y="191" width="5" height="5" fill="#fe89f5"/>
<rect x="146" y="191" width="5" height="5" fill="#fe81ec"/>
<rect x="151" y="191" width="5" height="5" fill="#fe79e4"/>
<rect x="156" y="191" width="5" height="5" fill="#fe73dd"/>
<rect x="161" y="191" width="5" height="5" fill="#fe6cd5"/>
<rect x="166" y="191" width="5" height="5" fill="#fe67cf"/>
<rect x="171" y="191" width="5" height="5" fill="#fe61c9"/>
<rect x="176" y="191" width="5" height="5" fill="#fe5cc3"/>
<rect x="181" y="191" width="5" height="5" fill="#fe57bd"/>
<rect x="186" y="191" width="5" height="5" fill="#fe52b8"/>
<rect x="191" y="191" width="5" height="5" fill="#fe4db3"/>
<rect x="196" y="191" width="5" height="5" fill="#fe48ae"/>
<rect x="201" y="191" width="5" height="5" fill="#fe43aa"/>
<rect x="206" y="191" width="5" height="5" fill="#fe3da5"/>
<rect x="211" y="191" width="5" height="5" fill="#fe38a1"/>
<rect x="216" y="191" width="5" height="5" fill="#fe329d"/>
<rect x="221" y="191" width="5" height="5" fill="#fe2c99"/>
<rect x="226" y="191" width="5" height="5" fill="#fe2595"/>
<rect x="231" y="191" width="5" height="5" fill="#fe1e91"/>
<rect x="236" y="191" width="5" height="5" fill="#fe148e"/>
<rect x="61" y="196" width="5" height="5" fill="#81c4fe"/>
<rect x="66" y="196" width="5" height="5" fill="#a1c6fe"/>
<rect x="71" y="196" width="5" height="5" fill="#b5ccfe"/>
<rect x="76" y="196" width="5" height="5" fill="#c4d1fe"/>
<rect x="81" y="196" width="5" height="5" fill="#cdd3fe"/>
<rect x="86" y="196" width="5" height="5" fill="#cfd0fe"/>
<rect x="91" y="196" width="5" height="5" fill="#cec7fe"/>
<rect x="96" y="196" width="5" height="5" fill="#cdbefe"/>
<rect x="101" y="196" width="5" height="5" fill="#ceb5fe"/>
<rect x="106" y="196" width="5" height="5" fill="#d2aefe"/>
<rect x="111" y="196" width="5" height="5" fill="#d8a7fe"/>
<rect x="116" y="196" width="5" height="5" fill="#dea1fe"/>
<rect x="121" y="196" width="5" height="5" fill="#e59cfe"/>
<rect x="126" y="196" width="5" height="5" fill="#ed96fe"/>
<rect x="131" y="196" width="5" height="5" fill="#f590fe"/>
<rect x="136" y="196" width="5" height="5" fill="#fe8bfe"/>
<rect x="141" y="196" width="5" height="5" fill="#fe82f6"/>
<rect x="146" y="196" width="5" height="5" fill="#fe7aee"/>
<rect x="151" y="196" width="5" height="5" fill="#fe72e6"/>
<rect x="156" y="196" width="5" height="5" fill="#fe6bde"/>
<rect x="161" y="196" width="5" height="5" fill="#fe65d7"/>
<rect x="166" y="196" width="5" height="5" fill="#fe5fd1"/>
<rect x="171" y="196" width="5" height="5" fill="#fe59ca"/>
<rect x="176" y="196" width="5" height="5" fill="#fe54c5"/>
<rect x="181" y="196" width="5" height="5" fill="#fe4fbf"/>
<rect x="186" y="196" width="5" height="5" fill="#fe49ba"/>
<rect x="191" y="196" width="5" height="5" fill="#fe44b5"/>
<rect x="196" y="196" width="5" height="5" fill="#fe3eb0"/>
<rect x="201" y="196" width="5" height="5" fill="#fe39ab"/>
<rect x="206" y="196" width="5" height="5" fill="#fe33a7"/>
<rect x="211" y="196" width="5" height="5" fill="#fe2da3"/>
<rect x="216" y="196" width="5" height="5" fill="#fe269f"/>
<rect x="221" y="196" width="5" height="5" fill="#fe1f9b"/>
<rect x="226" y="196" width="5" height="5" fill="#fe1697"/>
<rect x="231" y="196" width="5" height="5" fill="#fe0a94"/>
<rect x="236" y="196" width="5" height="5" fill="#fe0093"/>
</g>
<g clip-path="url(#ch)"><g filter="url(#bl2)"><rect x="165" y="118" width="3" height="3" fill="#00feb0"/>
<rect x="168" y="118" width="3" height="3" fill="#00feaa"/>
<rect x="171" y="118" width="3" height="3" fill="#00fea3"/>
<rect x="174" y="118" width="3" height="3" fill="#00fe9b"/>
<rect x="177" y="118" width="3" height="3" fill="#00fe90"/>
<rect x="180" y="118" width="3" height="3" fill="#00fe83"/>
<rect x="183" y="118" width="3" height="3" fill="#00fe71"/>
<rect x="186" y="118" width="3" height="3" fill="#00fe55"/>
<rect x="189" y="118" width="3" height="3" fill="#00fe0e"/>
<rect x="192" y="118" width="3" height="3" fill="#55fe00"/>
<rect x="195" y="118" width="3" height="3" fill="#78fe00"/>
<rect x="198" y="118" width="3" height="3" fill="#91fe00"/>
<rect x="201" y="118" width="3" height="3" fill="#a6fe00"/>
<rect x="204" y="118" width="3" height="3" fill="#b8fe00"/>
<rect x="207" y="118" width="3" height="3" fill="#c7fe00"/>
<rect x="210" y="118" width="3" height="3" fill="#d6fe00"/>
<rect x="213" y="118" width="3" height="3" fill="#e3fe00"/>
<rect x="216" y="118" width="3" height="3" fill="#effe00"/>
<rect x="219" y="118" width="3" height="3" fill="#fafe00"/>
<rect x="222" y="118" width="3" height="3" fill="#fef800"/>
<rect x="225" y="118" width="3" height="3" fill="#feee00"/>
<rect x="228" y="118" width="3" height="3" fill="#fee600"/>
<rect x="231" y="118" width="3" height="3" fill="#fedf00"/>
<rect x="234" y="118" width="3" height="3" fill="#fed800"/>
<rect x="165" y="121" width="3" height="3" fill="#00feb3"/>
<rect x="168" y="121" width="3" height="3" fill="#00fead"/>
<rect x="171" y="121" width="3" height="3" fill="#00fea6"/>
<rect x="174" y="121" width="3" height="3" fill="#00fe9e"/>
<rect x="177" y="121" width="3" height="3" fill="#00fe94"/>
<rect x="180" y="121" width="3" height="3" fill="#00fe87"/>
<rect x="183" y="121" width="3" height="3" fill="#00fe75"/>
<rect x="186" y="121" width="3" height="3" fill="#00fe59"/>
<rect x="189" y="121" width="3" height="3" fill="#00fe18"/>
<rect x="192" y="121" width="3" height="3" fill="#56fe00"/>
<rect x="195" y="121" width="3" height="3" fill="#7afe00"/>
<rect x="198" y="121" width="3" height="3" fill="#95fe00"/>
<rect x="201" y="121" width="3" height="3" fill="#aafe00"/>
<rect x="204" y="121" width="3" height="3" fill="#bcfe00"/>
<rect x="207" y="121" width="3" height="3" fill="#cdfe00"/>
<rect x="210" y="121" width="3" height="3" fill="#dbfe00"/>
<rect x="213" y="121" width="3" height="3" fill="#e9fe00"/>
<rect x="216" y="121" width="3" height="3" fill="#f6fe00"/>
<rect x="219" y="121" width="3" height="3" fill="#fefc00"/>
<rect x="222" y="121" width="3" height="3" fill="#fef100"/>
<rect x="225" y="121" width="3" height="3" fill="#fee800"/>
<rect x="228" y="121" width="3" height="3" fill="#fee000"/>
<rect x="231" y="121" width="3" height="3" fill="#fed800"/>
<rect x="234" y="121" width="3" height="3" fill="#fed200"/>
<rect x="165" y="124" width="3" height="3" fill="#00feb7"/>
<rect x="168" y="124" width="3" height="3" fill="#00feb1"/>
<rect x="171" y="124" width="3" height="3" fill="#00feaa"/>
<rect x="174" y="124" width="3" height="3" fill="#00fea2"/>
<rect x="177" y="124" width="3" height="3" fill="#00fe98"/>
<rect x="180" y="124" width="3" height="3" fill="#00fe8b"/>
<rect x="183" y="124" width="3" height="3" fill="#00fe79"/>
<rect x="186" y="124" width="3" height="3" fill="#00fe5e"/>
<rect x="189" y="124" width="3" height="3" fill="#00fe21"/>
<rect x="192" y="124" width="3" height="3" fill="#56fe00"/>
<rect x="195" y="124" width="3" height="3" fill="#7dfe00"/>
<rect x="198" y="124" width="3" height="3" fill="#98fe00"/>
<rect x="201" y="124" width="3" height="3" fill="#affe00"/>
<rect x="204" y="124" width="3" height="3" fill="#c2fe00"/>
<rect x="207" y="124" width="3" height="3" fill="#d3fe00"/>
<rect x="210" y="124" width="3" height="3" fill="#e2fe00"/>
<rect x="213" y="124" width="3" height="3" fill="#f0fe00"/>
<rect x="216" y="124" width="3" height="3" fill="#fdfe00"/>
<rect x="219" y="124" width="3" height="3" fill="#fef400"/>
<rect x="222" y="124" width="3" height="3" fill="#feea00"/>
<rect x="225" y="124" width="3" height="3" fill="#fee100"/>
<rect x="228" y="124" width="3" height="3" fill="#fed900"/>
<rect x="231" y="124" width="3" height="3" fill="#fed200"/>
<rect x="234" y="124" width="3" height="3" fill="#fecb00"/>
<rect x="165" y="127" width="3" height="3" fill="#00feba"/>
<rect x="168" y="127" width="3" height="3" fill="#00feb5"/>
<rect x="171" y="127" width="3" height="3" fill="#00feae"/>
<rect x="174" y="127" width="3" height="3" fill="#00fea6"/>
<rect x="177" y="127" width="3" height="3" fill="#00fe9c"/>
<rect x="180" y="127" width="3" height="3" fill="#00fe8f"/>
<rect x="183" y="127" width="3" height="3" fill="#00fe7d"/>
<rect x="186" y="127" width="3" height="3" fill="#00fe63"/>
<rect x="189" y="127" width="3" height="3" fill="#00fe29"/>
<rect x="192" y="127" width="3" height="3" fill="#57fe00"/>
<rect x="195" y="127" width="3" height="3" fill="#80fe00"/>
<rect x="198" y="127" width="3" height="3" fill="#9dfe00"/>
<rect x="201" y="127" width="3" height="3" fill="#b4fe00"/>
<rect x="204" y="127" width="3" height="3" fill="#c8fe00"/>
<rect x="207" y="127" width="3" height="3" fill="#d9fe00"/>
<rect x="210" y="127" width="3" height="3" fill="#e9fe00"/>
<rect x="213" y="127" width="3" height="3" fill="#f8fe00"/>
<rect x="216" y="127" width="3" height="3" fill="#fef800"/>
<rect x="219" y="127" width="3" height="3" fill="#feec00"/>
<rect x="222" y="127" width="3" height="3" fill="#fee200"/>
<rect x="225" y="127" width="3" height="3" fill="#feda00"/>
<rect x="228" y="127" width="3" height="3" fill="#fed200"/>
<rect x="231" y="127" width="3" height="3" fill="#fecb00"/>
<rect x="234" y="127" width="3" height="3" fill="#fec500"/>
<rect x="165" y="130" width="3" height="3" fill="#00febe"/>
<rect x="168" y="130" width="3" height="3" fill="#00feb9"/>
<rect x="171" y="130" width="3" height="3" fill="#00feb2"/>
<rect x="174" y="130" width="3" height="3" fill="#00feaa"/>
<rect x="177" y="130" width="3" height="3" fill="#00fea1"/>
<rect x="180" y="130" width="3" height="3" fill="#00fe94"/>
<rect x="183" y="130" width="3" height="3" fill="#00fe82"/>
<rect x="186" y="130" width="3" height="3" fill="#00fe68"/>
<rect x="189" y="130" width="3" height="3" fill="#00fe30"/>
<rect x="192" y="130" width="3" height="3" fill="#58fe00"/>
<rect x="195" y="130" width="3" height="3" fill="#83fe00"/>
<rect x="198" y="130" width="3" height="3" fill="#a1fe00"/>
<rect x="201" y="130" width="3" height="3" fill="#bafe00"/>
<rect x="204" y="130" width="3" height="3" fill="#cefe00"/>
<rect x="207" y="130" width="3" height="3" fill="#e1fe00"/>
<rect x="210" y="130" width="3" height="3" fill="#f1fe00"/>
<rect x="213" y="130" width="3" height="3" fill="#fefd00"/>
<rect x="216" y="130" width="3" height="3" fill="#feef00"/>
<rect x="219" y="130" width="3" height="3" fill="#fee400"/>
<rect x="222" y="130" width="3" height="3" fill="#fedb00"/>
<rect x="225" y="130" width="3" height="3" fill="#fed200"/>
<rect x="228" y="130" width="3" height="3" fill="#fecb00"/>
<rect x="231" y="130" width="3" height="3" fill="#fec400"/>
<rect x="234" y="130" width="3" height="3" fill="#febe00"/>
<rect x="165" y="133" width="3" height="3" fill="#00fec2"/>
<rect x="168" y="133" width="3" height="3" fill="#00febd"/>
<rect x="171" y="133" width="3" height="3" fill="#00feb7"/>
<rect x="174" y="133" width="3" height="3" fill="#00feaf"/>
<rect x="177" y="133" width="3" height="3" fill="#00fea5"/>
<rect x="180" y="133" width="3" height="3" fill="#00fe99"/>
<rect x="183" y="133" width="3" height="3" fill="#00fe88"/>
<rect x="186" y="133" width="3" height="3" fill="#00fe6d"/>
<rect x="189" y="133" width="3" height="3" fill="#00fe38"/>
<rect x="192" y="133" width="3" height="3" fill="#59fe00"/>
<rect x="195" y="133" width="3" height="3" fill="#87fe00"/>
<rect x="198" y="133" width="3" height="3" fill="#a7fe00"/>
<rect x="201" y="133" width="3" height="3" fill="#c0fe00"/>
<rect x="204" y="133" width="3" height="3" fill="#d6fe00"/>
<rect x="207" y="133" width="3" height="3" fill="#e9fe00"/>
<rect x="210" y="133" width="3" height="3" fill="#fafe00"/>
<rect x="213" y="133" width="3" height="3" fill="#fef300"/>
<rect x="216" y="133" width="3" height="3" fill="#fee600"/>
<rect x="219" y="133" width="3" height="3" fill="#fedc00"/>
<rect x="222" y="133" width="3" height="3" fill="#fed200"/>
<rect x="225" y="133" width="3" height="3" fill="#feca00"/>
<rect x="228" y="133" width="3" height="3" fill="#fec300"/>
<rect x="231" y="133" width="3" height="3" fill="#febc00"/>
<rect x="234" y="133" width="3" height="3" fill="#feb600"/>
<rect x="165" y="136" width="3" height="3" fill="#00fec6"/>
<rect x="168" y="136" width="3" height="3" fill="#00fec1"/>
<rect x="171" y="136" width="3" height="3" fill="#00febb"/>
<rect x="174" y="136" width="3" height="3" fill="#00feb4"/>
<rect x="177" y="136" width="3" height="3" fill="#00feab"/>
<rect x="180" y="136" width="3" height="3" fill="#00fe9e"/>
<rect x="183" y="136" width="3" height="3" fill="#00fe8d"/>
<rect x="186" y="136" width="3" height="3" fill="#00fe74"/>
<rect x="189" y="136" width="3" height="3" fill="#00fe3f"/>
<rect x="192" y="136" width="3" height="3" fill="#5bfe00"/>
<rect x="195" y="136" width="3" height="3" fill="#8cfe00"/>
<rect x="198" y="136" width="3" height="3" fill="#adfe00"/>
<rect x="201" y="136" width="3" height="3" fill="#c8fe00"/>
<rect x="204" y="136" width="3" height="3" fill="#dffe00"/>
<rect x="207" y="136" width="3" height="3" fill="#f3fe00"/>
<rect x="210" y="136" width="3" height="3" fill="#fef800"/>
<rect x="213" y="136" width="3" height="3" fill="#fee900"/>
<rect x="216" y="136" width="3" height="3" fill="#fedd00"/>
<rect x="219" y="136" width="3" height="3" fill="#fed200"/>
<rect x="222" y="136" width="3" height="3" fill="#fec900"/>
<rect x="225" y="136" width="3" height="3" fill="#fec100"/>
<rect x="228" y="136" width="3" height="3" fill="#feba00"/>
<rect x="231" y="136" width="3" height="3" fill="#feb400"/>
<rect x="234" y="136" width="3" height="3" fill="#feae00"/>
<rect x="165" y="139" width="3" height="3" fill="#00fecb"/>
<rect x="168" y="139" width="3" height="3" fill="#00fec6"/>
<rect x="171" y="139" width="3" height="3" fill="#00fec0"/>
<rect x="174" y="139" width="3" height="3" fill="#00feb9"/>
<rect x="177" y="139" width="3" height="3" fill="#00feb0"/>
<rect x="180" y="139" width="3" height="3" fill="#00fea4"/>
<rect x="183" y="139" width="3" height="3" fill="#00fe94"/>
<rect x="186" y="139" width="3" height="3" fill="#00fe7a"/>
<rect x="189" y="139" width="3" height="3" fill="#00fe47"/>
<rect x="192" y="139" width="3" height="3" fill="#5cfe00"/>
<rect x="195" y="139" width="3" height="3" fill="#91fe00"/>
<rect x="198" y="139" width="3" height="3" fill="#b5fe00"/>
<rect x="201" y="139" width="3" height="3" fill="#d1fe00"/>
<rect x="204" y="139" width="3" height="3" fill="#e9fe00"/>
<rect x="207" y="139" width="3" height="3" fill="#fefe00"/>
<rect x="210" y="139" width="3" height="3" fill="#feed00"/>
<rect x="213" y="139" width="3" height="3" fill="#fede00"/>
<rect x="216" y="139" width="3" height="3" fill="#fed200"/>
<rect x="219" y="139" width="3" height="3" fill="#fec800"/>
<rect x="222" y="139" width="3" height="3" fill="#fec000"/>
<rect x="225" y="139" width="3" height="3" fill="#feb800"/>
<rect x="228" y="139" width="3" height="3" fill="#feb100"/>
<rect x="231" y="139" width="3" height="3" fill="#feab00"/>
<rect x="234" y="139" width="3" height="3" fill="#fea600"/>
<rect x="165" y="142" width="3" height="3" fill="#00fecf"/>
<rect x="168" y="142" width="3" height="3" fill="#00fecb"/>
<rect x="171" y="142" width="3" height="3" fill="#00fec5"/>
<rect x="174" y="142" width="3" height="3" fill="#00febf"/>
<rect x="177" y="142" width="3" height="3" fill="#00feb6"/>
<rect x="180" y="142" width="3" height="3" fill="#00feab"/>
<rect x="183" y="142" width="3" height="3" fill="#00fe9b"/>
<rect x="186" y="142" width="3" height="3" fill="#00fe82"/>
<rect x="189" y="142" width="3" height="3" fill="#00fe50"/>
<rect x="192" y="142" width="3" height="3" fill="#5efe00"/>
<rect x="195" y="142" width="3" height="3" fill="#98fe00"/>
<rect x="198" y="142" width="3" height="3" fill="#befe00"/>
<rect x="201" y="142" width="3" height="3" fill="#dcfe00"/>
<rect x="204" y="142" width="3" height="3" fill="#f6fe00"/>
<rect x="207" y="142" width="3" height="3" fill="#fef200"/>
<rect x="210" y="142" width="3" height="3" fill="#fee000"/>
<rect x="213" y="142" width="3" height="3" fill="#fed300"/>
<rect x="216" y="142" width="3" height="3" fill="#fec700"/>
<rect x="219" y="142" width="3" height="3" fill="#febe00"/>
<rect x="222" y="142" width="3" height="3" fill="#feb500"/>
<rect x="225" y="142" width="3" height="3" fill="#feae00"/>
<rect x="228" y="142" width="3" height="3" fill="#fea800"/>
<rect x="231" y="142" width="3" height="3" fill="#fea200"/>
<rect x="234" y="142" width="3" height="3" fill="#fe9d00"/>
<rect x="165" y="145" width="3" height="3" fill="#00fed4"/>
<rect x="168" y="145" width="3" height="3" fill="#00fed0"/>
<rect x="171" y="145" width="3" height="3" fill="#00fecb"/>
<rect x="174" y="145" width="3" height="3" fill="#00fec5"/>
<rect x="177" y="145" width="3" height="3" fill="#00febd"/>
<rect x="180" y="145" width="3" height="3" fill="#00feb2"/>
<rect x="183" y="145" width="3" height="3" fill="#00fea3"/>
<rect x="186" y="145" width="3" height="3" fill="#00fe8a"/>
<rect x="189" y="145" width="3" height="3" fill="#00fe59"/>
<rect x="192" y="145" width="3" height="3" fill="#6cfe34"/>
<rect x="195" y="145" width="3" height="3" fill="#a0fe00"/>
<rect x="198" y="145" width="3" height="3" fill="#c9fe00"/>
<rect x="201" y="145" width="3" height="3" fill="#eafe00"/>
<rect x="204" y="145" width="3" height="3" fill="#fef800"/>
<rect x="207" y="145" width="3" height="3" fill="#fee300"/>
<rect x="210" y="145" width="3" height="3" fill="#fed300"/>
<rect x="213" y="145" width="3" height="3" fill="#fec600"/>
<rect x="216" y="145" width="3" height="3" fill="#febb00"/>
<rect x="219" y="145" width="3" height="3" fill="#feb200"/>
<rect x="222" y="145" width="3" height="3" fill="#feaa00"/>
<rect x="225" y="145" width="3" height="3" fill="#fea300"/>
<rect x="228" y="145" width="3" height="3" fill="#fe9d00"/>
<rect x="231" y="145" width="3" height="3" fill="#fe9800"/>
<rect x="234" y="145" width="3" height="3" fill="#fe9300"/>
<rect x="165" y="148" width="3" height="3" fill="#00feda"/>
<rect x="168" y="148" width="3" height="3" fill="#00fed6"/>
<rect x="171" y="148" width="3" height="3" fill="#00fed1"/>
<rect x="174" y="148" width="3" height="3" fill="#00fecc"/>
<rect x="177" y="148" width="3" height="3" fill="#00fec4"/>
<rect x="180" y="148" width="3" height="3" fill="#00feba"/>
<rect x="183" y="148" width="3" height="3" fill="#00feab"/>
<rect x="186" y="148" width="3" height="3" fill="#00fe94"/>
<rect x="189" y="148" width="3" height="3" fill="#2cfe6c"/>
<rect x="192" y="148" width="3" height="3" fill="#81fe5b"/>
<rect x="195" y="148" width="3" height="3" fill="#b1fe43"/>
<rect x="198" y="148" width="3" height="3" fill="#d7fe05"/>
<rect x="201" y="148" width="3" height="3" fill="#fafe00"/>
<rect x="204" y="148" width="3" height="3" fill="#fee700"/>
<rect x="207" y="148" width="3" height="3" fill="#fed300"/>
<rect x="210" y="148" width="3" height="3" fill="#fec400"/>
<rect x="213" y="148" width="3" height="3" fill="#feb800"/>
<rect x="216" y="148" width="3" height="3" fill="#feae00"/>
<rect x="219" y="148" width="3" height="3" fill="#fea500"/>
<rect x="222" y="148" width="3" height="3" fill="#fe9e00"/>
<rect x="225" y="148" width="3" height="3" fill="#fe9700"/>
<rect x="228" y="148" width="3" height="3" fill="#fe9200"/>
<rect x="231" y="148" width="3" height="3" fill="#fe8c00"/>
<rect x="234" y="148" width="3" height="3" fill="#fe8800"/>
<rect x="165" y="151" width="3" height="3" fill="#00fedf"/>
<rect x="168" y="151" width="3" height="3" fill="#00fedc"/>
<rect x="171" y="151" width="3" height="3" fill="#00fed8"/>
<rect x="174" y="151" width="3" height="3" fill="#00fed3"/>
<rect x="177" y="151" width="3" height="3" fill="#00fecc"/>
<rect x="180" y="151" width="3" height="3" fill="#00fec3"/>
<rect x="183" y="151" width="3" height="3" fill="#00feb5"/>
<rect x="186" y="151" width="3" height="3" fill="#00fe9f"/>
<rect x="189" y="151" width="3" height="3" fill="#53fe85"/>
<rect x="192" y="151" width="3" height="3" fill="#96fe79"/>
<rect x="195" y="151" width="3" height="3" fill="#c5fe69"/>
<rect x="198" y="151" width="3" height="3" fill="#ecfe53"/>
<rect x="201" y="151" width="3" height="3" fill="#feee26"/>
<rect x="204" y="151" width="3" height="3" fill="#fed400"/>
<rect x="207" y="151" width="3" height="3" fill="#fec200"/>
<rect x="210" y="151" width="3" height="3" fill="#feb300"/>
<rect x="213" y="151" width="3" height="3" fill="#fea800"/>
<rect x="216" y="151" width="3" height="3" fill="#fe9e00"/>
<rect x="219" y="151" width="3" height="3" fill="#fe9700"/>
<rect x="222" y="151" width="3" height="3" fill="#fe9000"/>
<rect x="225" y="151" width="3" height="3" fill="#fe8a00"/>
<rect x="228" y="151" width="3" height="3" fill="#fe8400"/>
<rect x="231" y="151" width="3" height="3" fill="#fe8000"/>
<rect x="234" y="151" width="3" height="3" fill="#fe7c00"/>
<rect x="165" y="154" width="3" height="3" fill="#00fee5"/>
<rect x="168" y="154" width="3" height="3" fill="#00fee3"/>
<rect x="171" y="154" width="3" height="3" fill="#00fedf"/>
<rect x="174" y="154" width="3" height="3" fill="#00fedb"/>
<rect x="177" y="154" width="3" height="3" fill="#00fed5"/>
<rect x="180" y="154" width="3" height="3" fill="#00fecd"/>
<rect x="183" y="154" width="3" height="3" fill="#00fec1"/>
<rect x="186" y="154" width="3" height="3" fill="#00feac"/>
<rect x="189" y="154" width="3" height="3" fill="#70fe9e"/>
<rect x="192" y="154" width="3" height="3" fill="#acfe95"/>
<rect x="195" y="154" width="3" height="3" fill="#dafe89"/>
<rect x="198" y="154" width="3" height="3" fill="#fefa78"/>
<rect x="201" y="154" width="3" height="3" fill="#fed955"/>
<rect x="204" y="154" width="3" height="3" fill="#fec02f"/>
<rect x="207" y="154" width="3" height="3" fill="#fead00"/>
<rect x="210" y="154" width="3" height="3" fill="#fea000"/>
<rect x="213" y="154" width="3" height="3" fill="#fe9500"/>
<rect x="216" y="154" width="3" height="3" fill="#fe8d00"/>
<rect x="219" y="154" width="3" height="3" fill="#fe8600"/>
<rect x="222" y="154" width="3" height="3" fill="#fe8000"/>
<rect x="225" y="154" width="3" height="3" fill="#fe7a00"/>
<rect x="228" y="154" width="3" height="3" fill="#fe7500"/>
<rect x="231" y="154" width="3" height="3" fill="#fe7100"/>
<rect x="234" y="154" width="3" height="3" fill="#fe6d00"/>
<rect x="165" y="157" width="3" height="3" fill="#00feec"/>
<rect x="168" y="157" width="3" height="3" fill="#00feea"/>
<rect x="171" y="157" width="3" height="3" fill="#00fee7"/>
<rect x="174" y="157" width="3" height="3" fill="#00fee4"/>
<rect x="177" y="157" width="3" height="3" fill="#00fedf"/>
<rect x="180" y="157" width="3" height="3" fill="#00fed9"/>
<rect x="183" y="157" width="3" height="3" fill="#00fecf"/>
<rect x="186" y="157" width="3" height="3" fill="#00febd"/>
<rect x="189" y="157" width="3" height="3" fill="#8afeb7"/>
<rect x="192" y="157" width="3" height="3" fill="#c4feb1"/>
<rect x="195" y="157" width="3" height="3" fill="#f3fea8"/>
<rect x="198" y="157" width="3" height="3" fill="#fee28c"/>
<rect x="201" y="157" width="3" height="3" fill="#fec46e"/>
<rect x="204" y="157" width="3" height="3" fill="#fead52"/>
<rect x="207" y="157" width="3" height="3" fill="#fe9934"/>
<rect x="210" y="157" width="3" height="3" fill="#fe8800"/>
<rect x="213" y="157" width="3" height="3" fill="#fe7f00"/>
<rect x="216" y="157" width="3" height="3" fill="#fe7800"/>
<rect x="219" y="157" width="3" height="3" fill="#fe7200"/>
<rect x="222" y="157" width="3" height="3" fill="#fe6c00"/>
<rect x="225" y="157" width="3" height="3" fill="#fe6800"/>
<rect x="228" y="157" width="3" height="3" fill="#fe6300"/>
<rect x="231" y="157" width="3" height="3" fill="#fe6000"/>
<rect x="234" y="157" width="3" height="3" fill="#fe5c00"/>
<rect x="165" y="160" width="3" height="3" fill="#00fef3"/>
<rect x="168" y="160" width="3" height="3" fill="#00fef2"/>
<rect x="171" y="160" width="3" height="3" fill="#00fef0"/>
<rect x="174" y="160" width="3" height="3" fill="#00feee"/>
<rect x="177" y="160" width="3" height="3" fill="#00feeb"/>
<rect x="180" y="160" width="3" height="3" fill="#00fee7"/>
<rect x="183" y="160" width="3" height="3" fill="#00fee0"/>
<rect x="186" y="160" width="3" height="3" fill="#4ffed6"/>
<rect x="189" y="160" width="3" height="3" fill="#a6fed3"/>
<rect x="192" y="160" width="3" height="3" fill="#dffecf"/>
<rect x="195" y="160" width="3" height="3" fill="#feeebc"/>
<rect x="198" y="160" width="3" height="3" fill="#feca9a"/>
<rect x="201" y="160" width="3" height="3" fill="#feaf7f"/>
<rect x="204" y="160" width="3" height="3" fill="#fe9967"/>
<rect x="207" y="160" width="3" height="3" fill="#fe8650"/>
<rect x="210" y="160" width="3" height="3" fill="#fe7537"/>
<rect x="213" y="160" width="3" height="3" fill="#fe6412"/>
<rect x="216" y="160" width="3" height="3" fill="#fe5c00"/>
<rect x="219" y="160" width="3" height="3" fill="#fe5700"/>
<rect x="222" y="160" width="3" height="3" fill="#fe5300"/>
<rect x="225" y="160" width="3" height="3" fill="#fe4f00"/>
<rect x="228" y="160" width="3" height="3" fill="#fe4c00"/>
<rect x="231" y="160" width="3" height="3" fill="#fe4900"/>
<rect x="234" y="160" width="3" height="3" fill="#fe4600"/>
<rect x="165" y="163" width="3" height="3" fill="#00fefb"/>
<rect x="168" y="163" width="3" height="3" fill="#00fefb"/>
<rect x="171" y="163" width="3" height="3" fill="#00fefa"/>
<rect x="174" y="163" width="3" height="3" fill="#00fefa"/>
<rect x="177" y="163" width="3" height="3" fill="#00fef9"/>
<rect x="180" y="163" width="3" height="3" fill="#00fef7"/>
<rect x="183" y="163" width="3" height="3" fill="#00fef5"/>
<rect x="186" y="163" width="3" height="3" fill="#76fef3"/>
<rect x="189" y="163" width="3" height="3" fill="#c3fef2"/>
<rect x="192" y="163" width="3" height="3" fill="#fefef1"/>
<rect x="195" y="163" width="3" height="3" fill="#fed2c5"/>
<rect x="198" y="163" width="3" height="3" fill="#feb2a6"/>
<rect x="201" y="163" width="3" height="3" fill="#fe998c"/>
<rect x="204" y="163" width="3" height="3" fill="#fe8376"/>
<rect x="207" y="163" width="3" height="3" fill="#fe7062"/>
<rect x="210" y="163" width="3" height="3" fill="#fe5e4f"/>
<rect x="213" y="163" width="3" height="3" fill="#fe4c3a"/>
<rect x="216" y="163" width="3" height="3" fill="#fe381e"/>
<rect x="219" y="163" width="3" height="3" fill="#fe2b00"/>
<rect x="222" y="163" width="3" height="3" fill="#fe2800"/>
<rect x="225" y="163" width="3" height="3" fill="#fe2600"/>
<rect x="228" y="163" width="3" height="3" fill="#fe2400"/>
<rect x="231" y="163" width="3" height="3" fill="#fe2200"/>
<rect x="234" y="163" width="3" height="3" fill="#fe2000"/>
<rect x="165" y="166" width="3" height="3" fill="#00f9fe"/>
<rect x="168" y="166" width="3" height="3" fill="#00f8fe"/>
<rect x="171" y="166" width="3" height="3" fill="#00f8fe"/>
<rect x="174" y="166" width="3" height="3" fill="#00f6fe"/>
<rect x="177" y="166" width="3" height="3" fill="#00f4fe"/>
<rect x="180" y="166" width="3" height="3" fill="#00f2fe"/>
<rect x="183" y="166" width="3" height="3" fill="#00edfe"/>
<rect x="186" y="166" width="3" height="3" fill="#8eeafe"/>
<rect x="189" y="166" width="3" height="3" fill="#d1e8fe"/>
<rect x="192" y="166" width="3" height="3" fill="#feddf5"/>
<rect x="195" y="166" width="3" height="3" fill="#feb6cd"/>
<rect x="198" y="166" width="3" height="3" fill="#fe98af"/>
<rect x="201" y="166" width="3" height="3" fill="#fe8097"/>
<rect x="204" y="166" width="3" height="3" fill="#fe6a83"/>
<rect x="207" y="166" width="3" height="3" fill="#fe5670"/>
<rect x="210" y="166" width="3" height="3" fill="#fe405f"/>
<rect x="213" y="166" width="3" height="3" fill="#fe264e"/>
<rect x="216" y="166" width="3" height="3" fill="#fe0040"/>
<rect x="219" y="166" width="3" height="3" fill="#fe003c"/>
<rect x="222" y="166" width="3" height="3" fill="#fe0039"/>
<rect x="225" y="166" width="3" height="3" fill="#fe0037"/>
<rect x="228" y="166" width="3" height="3" fill="#fe0035"/>
<rect x="231" y="166" width="3" height="3" fill="#fe0033"/>
<rect x="234" y="166" width="3" height="3" fill="#fe0031"/>
<rect x="165" y="169" width="3" height="3" fill="#00f0fe"/>
<rect x="168" y="169" width="3" height="3" fill="#00eefe"/>
<rect x="171" y="169" width="3" height="3" fill="#00ecfe"/>
<rect x="174" y="169" width="3" height="3" fill="#00e8fe"/>
<rect x="177" y="169" width="3" height="3" fill="#00e3fe"/>
<rect x="180" y="169" width="3" height="3" fill="#00dcfe"/>
<rect x="183" y="169" width="3" height="3" fill="#36d0fe"/>
<rect x="186" y="169" width="3" height="3" fill="#9acbfe"/>
<rect x="189" y="169" width="3" height="3" fill="#d4c6fe"/>
<rect x="192" y="169" width="3" height="3" fill="#febbf8"/>
<rect x="195" y="169" width="3" height="3" fill="#fe98d3"/>
<rect x="198" y="169" width="3" height="3" fill="#fe7cb7"/>
<rect x="201" y="169" width="3" height="3" fill="#fe63a0"/>
<rect x="204" y="169" width="3" height="3" fill="#fe4a8d"/>
<rect x="207" y="169" width="3" height="3" fill="#fe2e7b"/>
<rect x="210" y="169" width="3" height="3" fill="#fe006d"/>
<rect x="213" y="169" width="3" height="3" fill="#fe0066"/>
<rect x="216" y="169" width="3" height="3" fill="#fe0061"/>
<rect x="219" y="169" width="3" height="3" fill="#fe005c"/>
<rect x="222" y="169" width="3" height="3" fill="#fe0058"/>
<rect x="225" y="169" width="3" height="3" fill="#fe0055"/>
<rect x="228" y="169" width="3" height="3" fill="#fe0052"/>
<rect x="231" y="169" width="3" height="3" fill="#fe004f"/>
<rect x="234" y="169" width="3" height="3" fill="#fe004c"/>
<rect x="165" y="172" width="3" height="3" fill="#00e7fe"/>
<rect x="168" y="172" width="3" height="3" fill="#00e4fe"/>
<rect x="171" y="172" width="3" height="3" fill="#00dffe"/>
<rect x="174" y="172" width="3" height="3" fill="#00dafe"/>
<rect x="177" y="172" width="3" height="3" fill="#00d1fe"/>
<rect x="180" y="172" width="3" height="3" fill="#00c3fe"/>
<rect x="183" y="172" width="3" height="3" fill="#5ab3fe"/>
<rect x="186" y="172" width="3" height="3" fill="#a3adfe"/>
<rect x="189" y="172" width="3" height="3" fill="#d6a4fe"/>
<rect x="192" y="172" width="3" height="3" fill="#fe97fb"/>
<rect x="195" y="172" width="3" height="3" fill="#fe76d8"/>
<rect x="198" y="172" width="3" height="3" fill="#fe58bd"/>
<rect x="201" y="172" width="3" height="3" fill="#fe38a8"/>
<rect x="204" y="172" width="3" height="3" fill="#fe0095"/>
<rect x="207" y="172" width="3" height="3" fill="#fe008b"/>
<rect x="210" y="172" width="3" height="3" fill="#fe0083"/>
<rect x="213" y="172" width="3" height="3" fill="#fe007c"/>
<rect x="216" y="172" width="3" height="3" fill="#fe0076"/>
<rect x="219" y="172" width="3" height="3" fill="#fe0070"/>
<rect x="222" y="172" width="3" height="3" fill="#fe006c"/>
<rect x="225" y="172" width="3" height="3" fill="#fe0068"/>
<rect x="228" y="172" width="3" height="3" fill="#fe0064"/>
<rect x="231" y="172" width="3" height="3" fill="#fe0061"/>
<rect x="234" y="172" width="3" height="3" fill="#fe005e"/>
<rect x="165" y="175" width="3" height="3" fill="#00ddfe"/>
<rect x="168" y="175" width="3" height="3" fill="#00d9fe"/>
<rect x="171" y="175" width="3" height="3" fill="#00d2fe"/>
<rect x="174" y="175" width="3" height="3" fill="#00cafe"/>
<rect x="177" y="175" width="3" height="3" fill="#00bcfe"/>
<rect x="180" y="175" width="3" height="3" fill="#00a6fe"/>
<rect x="183" y="175" width="3" height="3" fill="#6f96fe"/>
<rect x="186" y="175" width="3" height="3" fill="#ab8cfe"/>
<rect x="189" y="175" width="3" height="3" fill="#d87ffe"/>
<rect x="192" y="175" width="3" height="3" fill="#fe6cfd"/>
<rect x="195" y="175" width="3" height="3" fill="#fe47dc"/>
<rect x="198" y="175" width="3" height="3" fill="#fe0ec3"/>
<rect x="201" y="175" width="3" height="3" fill="#fe00b2"/>
<rect x="204" y="175" width="3" height="3" fill="#fe00a5"/>
<rect x="207" y="175" width="3" height="3" fill="#fe009b"/>
<rect x="210" y="175" width="3" height="3" fill="#fe0092"/>
<rect x="213" y="175" width="3" height="3" fill="#fe008b"/>
<rect x="216" y="175" width="3" height="3" fill="#fe0085"/>
<rect x="219" y="175" width="3" height="3" fill="#fe007f"/>
<rect x="222" y="175" width="3" height="3" fill="#fe007a"/>
<rect x="225" y="175" width="3" height="3" fill="#fe0076"/>
<rect x="228" y="175" width="3" height="3" fill="#fe0072"/>
<rect x="231" y="175" width="3" height="3" fill="#fe006f"/>
<rect x="234" y="175" width="3" height="3" fill="#fe006b"/>
<rect x="165" y="178" width="3" height="3" fill="#00d3fe"/>
<rect x="168" y="178" width="3" height="3" fill="#00cdfe"/>
<rect x="171" y="178" width="3" height="3" fill="#00c4fe"/>
<rect x="174" y="178" width="3" height="3" fill="#00b8fe"/>
<rect x="177" y="178" width="3" height="3" fill="#00a5fe"/>
<rect x="180" y="178" width="3" height="3" fill="#0182fe"/>
<rect x="183" y="178" width="3" height="3" fill="#7d75fe"/>
<rect x="186" y="178" width="3" height="3" fill="#b065fe"/>
<rect x="189" y="178" width="3" height="3" fill="#d94efe"/>
<rect x="192" y="178" width="3" height="3" fill="#fe21fe"/>
<rect x="195" y="178" width="3" height="3" fill="#fe00e1"/>
<rect x="198" y="178" width="3" height="3" fill="#fe00cd"/>
<rect x="201" y="178" width="3" height="3" fill="#fe00bd"/>
<rect x="204" y="178" width="3" height="3" fill="#fe00b1"/>
<rect x="207" y="178" width="3" height="3" fill="#fe00a6"/>
<rect x="210" y="178" width="3" height="3" fill="#fe009e"/>
<rect x="213" y="178" width="3" height="3" fill="#fe0097"/>
<rect x="216" y="178" width="3" height="3" fill="#fe0090"/>
<rect x="219" y="178" width="3" height="3" fill="#fe008b"/>
<rect x="222" y="178" width="3" height="3" fill="#fe0086"/>
<rect x="225" y="178" width="3" height="3" fill="#fe0081"/>
<rect x="228" y="178" width="3" height="3" fill="#fe007d"/>
<rect x="231" y="178" width="3" height="3" fill="#fe007a"/>
<rect x="234" y="178" width="3" height="3" fill="#fe0076"/>
<rect x="165" y="181" width="3" height="3" fill="#00c8fe"/>
<rect x="168" y="181" width="3" height="3" fill="#00c0fe"/>
<rect x="171" y="181" width="3" height="3" fill="#00b5fe"/>
<rect x="174" y="181" width="3" height="3" fill="#00a4fe"/>
<rect x="177" y="181" width="3" height="3" fill="#0089fe"/>
<rect x="180" y="181" width="3" height="3" fill="#4160fe"/>
<rect x="183" y="181" width="3" height="3" fill="#884bfe"/>
<rect x="186" y="181" width="3" height="3" fill="#b526fe"/>
<rect x="189" y="181" width="3" height="3" fill="#dc00fe"/>
<rect x="192" y="181" width="3" height="3" fill="#fd00fe"/>
<rect x="195" y="181" width="3" height="3" fill="#fe00e7"/>
<rect x="198" y="181" width="3" height="3" fill="#fe00d4"/>
<rect x="201" y="181" width="3" height="3" fill="#fe00c5"/>
<rect x="204" y="181" width="3" height="3" fill="#fe00ba"/>
<rect x="207" y="181" width="3" height="3" fill="#fe00b0"/>
<rect x="210" y="181" width="3" height="3" fill="#fe00a7"/>
<rect x="213" y="181" width="3" height="3" fill="#fe00a0"/>
<rect x="216" y="181" width="3" height="3" fill="#fe009a"/>
<rect x="219" y="181" width="3" height="3" fill="#fe0094"/>
<rect x="222" y="181" width="3" height="3" fill="#fe008f"/>
<rect x="225" y="181" width="3" height="3" fill="#fe008b"/>
<rect x="228" y="181" width="3" height="3" fill="#fe0087"/>
<rect x="231" y="181" width="3" height="3" fill="#fe0083"/>
<rect x="234" y="181" width="3" height="3" fill="#fe007f"/>
<rect x="165" y="184" width="3" height="3" fill="#00bdfe"/>
<rect x="168" y="184" width="3" height="3" fill="#00b3fe"/>
<rect x="171" y="184" width="3" height="3" fill="#00a4fe"/>
<rect x="174" y="184" width="3" height="3" fill="#008efe"/>
<rect x="177" y="184" width="3" height="3" fill="#0064fe"/>
<rect x="180" y="184" width="3" height="3" fill="#5829fe"/>
<rect x="183" y="184" width="3" height="3" fill="#9500fe"/>
<rect x="186" y="184" width="3" height="3" fill="#c000fe"/>
<rect x="189" y="184" width="3" height="3" fill="#e000fe"/>
<rect x="192" y="184" width="3" height="3" fill="#fc00fe"/>
<rect x="195" y="184" width="3" height="3" fill="#fe00eb"/>
<rect x="198" y="184" width="3" height="3" fill="#fe00da"/>
<rect x="201" y="184" width="3" height="3" fill="#fe00cc"/>
<rect x="204" y="184" width="3" height="3" fill="#fe00c1"/>
<rect x="207" y="184" width="3" height="3" fill="#fe00b7"/>
<rect x="210" y="184" width="3" height="3" fill="#fe00af"/>
<rect x="213" y="184" width="3" height="3" fill="#fe00a8"/>
<rect x="216" y="184" width="3" height="3" fill="#fe00a2"/>
<rect x="219" y="184" width="3" height="3" fill="#fe009c"/>
<rect x="222" y="184" width="3" height="3" fill="#fe0097"/>
<rect x="225" y="184" width="3" height="3" fill="#fe0093"/>
<rect x="228" y="184" width="3" height="3" fill="#fe008e"/>
<rect x="231" y="184" width="3" height="3" fill="#fe008b"/>
<rect x="234" y="184" width="3" height="3" fill="#fe0087"/>
<rect x="165" y="187" width="3" height="3" fill="#00b1fe"/>
<rect x="168" y="187" width="3" height="3" fill="#00a4fe"/>
<rect x="171" y="187" width="3" height="3" fill="#0091fe"/>
<rect x="174" y="187" width="3" height="3" fill="#0071fe"/>
<rect x="177" y="187" width="3" height="3" fill="#0010fe"/>
<rect x="180" y="187" width="3" height="3" fill="#7800fe"/>
<rect x="183" y="187" width="3" height="3" fill="#a600fe"/>
<rect x="186" y="187" width="3" height="3" fill="#c800fe"/>
<rect x="189" y="187" width="3" height="3" fill="#e300fe"/>
<rect x="192" y="187" width="3" height="3" fill="#fb00fe"/>
<rect x="195" y="187" width="3" height="3" fill="#fe00ee"/>
<rect x="198" y="187" width="3" height="3" fill="#fe00de"/>
<rect x="201" y="187" width="3" height="3" fill="#fe00d1"/>
<rect x="204" y="187" width="3" height="3" fill="#fe00c7"/>
<rect x="207" y="187" width="3" height="3" fill="#fe00be"/>
<rect x="210" y="187" width="3" height="3" fill="#fe00b6"/>
<rect x="213" y="187" width="3" height="3" fill="#fe00af"/>
<rect x="216" y="187" width="3" height="3" fill="#fe00a8"/>
<rect x="219" y="187" width="3" height="3" fill="#fe00a3"/>
<rect x="222" y="187" width="3" height="3" fill="#fe009e"/>
<rect x="225" y="187" width="3" height="3" fill="#fe0099"/>
<rect x="228" y="187" width="3" height="3" fill="#fe0095"/>
<rect x="231" y="187" width="3" height="3" fill="#fe0091"/>
<rect x="234" y="187" width="3" height="3" fill="#fe008e"/>
<rect x="165" y="190" width="3" height="3" fill="#00a3fe"/>
<rect x="168" y="190" width="3" height="3" fill="#0093fe"/>
<rect x="171" y="190" width="3" height="3" fill="#007afe"/>
<rect x="174" y="190" width="3" height="3" fill="#0048fe"/>
<rect x="177" y="190" width="3" height="3" fill="#5a00fe"/>
<rect x="180" y="190" width="3" height="3" fill="#8f00fe"/>
<rect x="183" y="190" width="3" height="3" fill="#b200fe"/>
<rect x="186" y="190" width="3" height="3" fill="#ce00fe"/>
<rect x="189" y="190" width="3" height="3" fill="#e600fe"/>
<rect x="192" y="190" width="3" height="3" fill="#fa00fe"/>
<rect x="195" y="190" width="3" height="3" fill="#fe00f1"/>
<rect x="198" y="190" width="3" height="3" fill="#fe00e2"/>
<rect x="201" y="190" width="3" height="3" fill="#fe00d6"/>
<rect x="204" y="190" width="3" height="3" fill="#fe00cc"/>
<rect x="207" y="190" width="3" height="3" fill="#fe00c3"/>
<rect x="210" y="190" width="3" height="3" fill="#fe00bb"/>
<rect x="213" y="190" width="3" height="3" fill="#fe00b4"/>
<rect x="216" y="190" width="3" height="3" fill="#fe00ae"/>
<rect x="219" y="190" width="3" height="3" fill="#fe00a9"/>
<rect x="222" y="190" width="3" height="3" fill="#fe00a4"/>
<rect x="225" y="190" width="3" height="3" fill="#fe009f"/>
<rect x="228" y="190" width="3" height="3" fill="#fe009b"/>
<rect x="231" y="190" width="3" height="3" fill="#fe0097"/>
<rect x="234" y="190" width="3" height="3" fill="#fe0094"/>
<rect x="165" y="193" width="3" height="3" fill="#00a0fe"/>
<rect x="168" y="193" width="3" height="3" fill="#008ffe"/>
<rect x="171" y="193" width="3" height="3" fill="#0074fe"/>
<rect x="174" y="193" width="3" height="3" fill="#003afe"/>
<rect x="177" y="193" width="3" height="3" fill="#6200fe"/>
<rect x="180" y="193" width="3" height="3" fill="#9200fe"/>
<rect x="183" y="193" width="3" height="3" fill="#b400fe"/>
<rect x="186" y="193" width="3" height="3" fill="#cf00fe"/>
<rect x="189" y="193" width="3" height="3" fill="#e600fe"/>
<rect x="192" y="193" width="3" height="3" fill="#fa00fe"/>
<rect x="195" y="193" width="3" height="3" fill="#fe00f1"/>
<rect x="198" y="193" width="3" height="3" fill="#fe00e3"/>
<rect x="201" y="193" width="3" height="3" fill="#fe00d7"/>
<rect x="204" y="193" width="3" height="3" fill="#fe00cd"/>
<rect x="207" y="193" width="3" height="3" fill="#fe00c4"/>
<rect x="210" y="193" width="3" height="3" fill="#fe00bc"/>
<rect x="213" y="193" width="3" height="3" fill="#fe00b6"/>
<rect x="216" y="193" width="3" height="3" fill="#fe00b0"/>
<rect x="219" y="193" width="3" height="3" fill="#fe00aa"/>
<rect x="222" y="193" width="3" height="3" fill="#fe00a5"/>
<rect x="225" y="193" width="3" height="3" fill="#fe00a1"/>
<rect x="228" y="193" width="3" height="3" fill="#fe009c"/>
<rect x="231" y="193" width="3" height="3" fill="#fe0099"/>
<rect x="234" y="193" width="3" height="3" fill="#fe0095"/></g></g>
<path d="M181.2,192.0 181.0,192.0 180.4,191.5 179.8,191.0 178.7,190.0 177.0,187.7 175.8,185.3 174.3,181.6 172.4,176.0 170.4,168.4 168.6,158.8 167.3,148.5 166.9,139.0 167.8,131.3 169.9,126.2 172.8,124.4 176.2,125.1 179.6,126.7 185.9,130.9 191.9,136.0 197.9,141.5 203.9,147.2 209.6,152.7 214.9,157.8 219.3,162.0 224.7,167.3 227.6,170.1 228.3,170.8 Z" fill="none" stroke="#555" stroke-width="0.8" stroke-opacity="0.7"/>
<path d="M167,195 V119.5 H235" fill="none" stroke="#4a3a3a" stroke-width="1"/>
</g>
<!-- daylight locus band -->
<path d="M101.0,147.8 C102.5,146.6 106.3,143.7 110.0,140.3 C113.7,136.9 119.0,131.0 123.4,127.2 C127.9,123.4 132.4,120.5 136.7,117.6 C141.0,114.7 145.3,112.4 149.2,110.0 C153.1,107.6 156.1,105.4 160.0,103.3 C163.9,101.2 168.3,99.2 172.5,97.4 C176.7,95.6 180.8,94.0 185.0,92.6 C189.2,91.2 193.3,90.2 197.5,89.2 C201.7,88.2 207.9,87.2 210.0,86.8" fill="none" stroke="#ecccE8" stroke-width="6.6" stroke-linecap="butt"/>
<path d="M101.0,147.8 C102.5,146.6 106.3,143.7 110.0,140.3 C113.7,136.9 119.0,131.0 123.4,127.2 C127.9,123.4 132.4,120.5 136.7,117.6 C141.0,114.7 145.3,112.4 149.2,110.0 C153.1,107.6 156.1,105.4 160.0,103.3 C163.9,101.2 168.3,99.2 172.5,97.4 C176.7,95.6 180.8,94.0 185.0,92.6 C189.2,91.2 193.3,90.2 197.5,89.2 C201.7,88.2 207.9,87.2 210.0,86.8" fill="none" stroke="#fef3fc" stroke-width="4.8" stroke-linecap="butt"/>
<!-- points -->
<circle cx="85.3" cy="167.2" r="3.9" fill="none" stroke="#4b0f7e" stroke-width="2.4"/><circle cx="87.4" cy="164.2" r="3.9" fill="none" stroke="#4b0f7e" stroke-width="2.4"/><circle cx="92.5" cy="159.0" r="3.9" fill="none" stroke="#4b0f7e" stroke-width="2.4"/><circle cx="99.6" cy="153.4" r="3.9" fill="none" stroke="#4b0f7e" stroke-width="2.4"/><circle cx="109.8" cy="146.4" r="3.9" fill="none" stroke="#4b0f7e" stroke-width="2.4"/><circle cx="118.5" cy="139.7" r="3.9" fill="none" stroke="#4b0f7e" stroke-width="2.4"/><circle cx="130.2" cy="131.6" r="3.9" fill="none" stroke="#4b0f7e" stroke-width="2.4"/><circle cx="145.4" cy="121.0" r="3.9" fill="none" stroke="#4b0f7e" stroke-width="2.4"/><circle cx="167.6" cy="106.2" r="3.9" fill="none" stroke="#4b0f7e" stroke-width="2.4"/><circle cx="198.5" cy="90.5" r="3.9" fill="none" stroke="#4b0f7e" stroke-width="2.4"/><circle cx="223.0" cy="79.3" r="3.9" fill="none" stroke="#4b0f7e" stroke-width="2.4"/>
<!-- inset points -->
<circle cx="189.5" cy="166.8" r="1.3" fill="#f0e0f0" stroke="#1a3a7a" stroke-width="0.9"/><circle cx="191.5" cy="166.1" r="1.3" fill="#f0e0f0" stroke="#1a3a7a" stroke-width="0.9"/><circle cx="193.5" cy="165.4" r="1.3" fill="#f0e0f0" stroke="#2a3a8a" stroke-width="0.9"/><circle cx="195.5" cy="164.6" r="1.3" fill="#f0e0f0" stroke="#3a2a8a" stroke-width="0.9"/><circle cx="197.5" cy="163.9" r="1.3" fill="#f0e0f0" stroke="#4a2a8a" stroke-width="0.9"/><circle cx="199.5" cy="163.2" r="1.3" fill="#f0e0f0" stroke="#5a2a8a" stroke-width="0.9"/><circle cx="201.5" cy="162.5" r="1.3" fill="#f0e0f0" stroke="#6a2a8a" stroke-width="0.9"/><circle cx="203.5" cy="161.8" r="1.3" fill="#f0e0f0" stroke="#7a2a7a" stroke-width="0.9"/><circle cx="205.5" cy="161.0" r="1.3" fill="#f0e0f0" stroke="#7a2a6a" stroke-width="0.9"/><circle cx="207.5" cy="160.3" r="1.3" fill="#f0e0f0" stroke="#7a2a6a" stroke-width="0.9"/>
<!-- arrows -->
<path d="M201.5,64.6 C200,70 202,76 206.3,80.3" fill="none" stroke="#4a1c70" stroke-width="1.3"/>
<path d="M203.7,80.9 L208.3,83.2 L208,78.1 Z" fill="#4a1c70"/>
<path d="M138,85.8 C136.5,92 140,98 145,102" fill="none" stroke="#3a2a70" stroke-width="1.3"/>
<path d="M142.3,103 L147.6,104.8 L146.3,99.4 Z" fill="#3a2a70"/>
<path d="M85.5,127.5 C84.5,135 89,142 93.5,146" fill="none" stroke="#1c3c5c" stroke-width="1.3"/>
<path d="M90.8,146.8 L95.8,148.5 L94.6,143.4 Z" fill="#1c3c5c"/>
<!-- legend marker -->
<circle cx="81.8" cy="43.4" r="3.6" fill="none" stroke="#1b5aa6" stroke-width="2.4"/>
<text x="89.6" y="47.6" font-size="12" fill="#143a22" stroke="#143a22" stroke-width="0.35" letter-spacing="-0.3">OLED Device I</text>
<text x="76.2" y="83.4" font-size="14.6" letter-spacing="0.17" fill="#2f4f86" stroke="#2f4f86" stroke-width="0.35">daylight <tspan fill="#46357e" stroke="#46357e">locus</tspan></text>
<text x="182.6" y="61.3" font-size="11.8" fill="#54207e" class="b" letter-spacing="0.55">2,500K</text>
<text x="70.8" y="125.6" font-size="11.6" fill="#1f4d80" class="b" letter-spacing="0.6">8,000K</text>
<!-- box a -->
<rect x="66" y="26" width="169" height="169" fill="none" stroke="#2b2b2b" stroke-width="1.6"/>
<path d="M100.0,195 v-5 M167.0,195 v-5 M66,161.5 h5 M66,94 h5" stroke="#222" stroke-width="1.1"/>
<text x="21.5" y="18.4" font-size="12.2" class="b" text-anchor="middle" fill="#111">(a)</text>
<text x="52.8" y="32.4" font-size="11" class="b" text-anchor="middle" fill="#111">0.5</text>
<text x="52.8" y="99.8" font-size="11" class="b" text-anchor="middle" fill="#111">0.4</text>
<text x="52.8" y="167.2" font-size="11" class="b" text-anchor="middle" fill="#111">0.3</text>
<text x="100" y="209.6" font-size="11" class="b" text-anchor="middle" fill="#111">0.3</text>
<text x="167.4" y="209.6" font-size="11" class="b" text-anchor="middle" fill="#111">0.4</text>
<text x="234" y="209.6" font-size="11" class="b" text-anchor="middle" fill="#111">0.5</text>
<text x="150.8" y="222.4" font-size="10.2" class="b" text-anchor="middle" fill="#111">CIEx</text>
<text transform="translate(38.4,111.2) rotate(-90)" font-size="10.8" letter-spacing="0.6" class="b" text-anchor="middle" fill="#111">CIEy</text>

<!-- ===== panel b ===== -->
<text x="21.2" y="223.2" font-size="12.2" class="b" text-anchor="middle" fill="#111">(b)</text>
<rect x="67.3" y="238.2" width="165.9" height="115.3" fill="none" stroke="#2b2b2b" stroke-width="1.5"/>
<path d="M67.3,353.5h4.0 M67.3,341.9h2.2 M67.3,335.1h2.2 M67.3,330.3h2.2 M67.3,326.6h2.2 M67.3,323.5h2.2 M67.3,321.0h2.2 M67.3,318.7h2.2 M67.3,316.8h2.2 M67.3,315.0h4.0 M67.3,303.4h2.2 M67.3,296.6h2.2 M67.3,291.8h2.2 M67.3,288.1h2.2 M67.3,285.0h2.2 M67.3,282.5h2.2 M67.3,280.2h2.2 M67.3,278.3h2.2 M67.3,276.5h4.0 M67.3,264.9h2.2 M67.3,258.1h2.2 M67.3,253.3h2.2 M67.3,249.6h2.2 M67.3,246.5h2.2 M67.3,244.0h2.2 M67.3,241.7h2.2 M67.3,239.8h2.2 M94.9,353.5v-3.5 M122.6,353.5v-3.5 M150.2,353.5v-3.5 M177.9,353.5v-3.5 M205.6,353.5v-3.5 M233.2,339.1h-2.5 M233.2,324.6h-4.5 M233.2,310.1h-2.5 M233.2,295.7h-4.5 M233.2,281.2h-2.5 M233.2,266.8h-4.5 M233.2,252.4h-2.5" stroke="#222" stroke-width="1" fill="none"/>
<g clip-path="url(#cb)"><polyline points="67.3,345.0 81.1,316.9 94.9,301.0 108.8,290.4 122.6,280.3 136.4,271.5 150.2,265.4 164.1,258.0 177.9,253.9 191.7,249.3 205.6,247.1 219.4,247.1 233.2,248.8" fill="none" stroke="#4a2a78" stroke-width="1.6"/>
<polyline points="67.3,349.2 81.1,342.2 94.9,331.5 108.8,320.8 122.6,310.2 136.4,300.1 150.2,288.9 164.1,273.0 177.9,259.1 191.7,246.5 205.6,242.7 219.4,241.1 233.2,242.7" fill="none" stroke="#4a2a78" stroke-width="1.6"/>
<circle cx="67.3" cy="349.2" r="3.8" fill="#4e1f92"/>
<circle cx="81.1" cy="342.2" r="3.8" fill="#4e1f92"/>
<circle cx="94.9" cy="331.5" r="3.8" fill="#4e1f92"/>
<circle cx="108.8" cy="320.8" r="3.8" fill="#4e1f92"/>
<circle cx="122.6" cy="310.2" r="3.8" fill="#4e1f92"/>
<circle cx="136.4" cy="300.1" r="3.8" fill="#4e1f92"/>
<circle cx="150.2" cy="288.9" r="3.8" fill="#4e1f92"/>
<circle cx="164.1" cy="273.0" r="3.8" fill="#4e1f92"/>
<circle cx="177.9" cy="259.1" r="3.8" fill="#4e1f92"/>
<circle cx="191.7" cy="246.5" r="3.8" fill="#4e1f92"/>
<circle cx="205.6" cy="242.7" r="3.8" fill="#4e1f92"/>
<circle cx="219.4" cy="241.1" r="3.8" fill="#4e1f92"/>
<circle cx="233.2" cy="242.7" r="3.8" fill="#4e1f92"/>
<circle cx="67.3" cy="345.0" r="3.45" fill="#fff" stroke="#4d2d76" stroke-width="1.3"/>
<circle cx="81.1" cy="316.9" r="3.45" fill="#fff" stroke="#4d2d76" stroke-width="1.3"/>
<circle cx="94.9" cy="301.0" r="3.45" fill="#fff" stroke="#4d2d76" stroke-width="1.3"/>
<circle cx="108.8" cy="290.4" r="3.45" fill="#fff" stroke="#4d2d76" stroke-width="1.3"/>
<circle cx="122.6" cy="280.3" r="3.45" fill="#fff" stroke="#4d2d76" stroke-width="1.3"/>
<circle cx="136.4" cy="271.5" r="3.45" fill="#fff" stroke="#4d2d76" stroke-width="1.3"/>
<circle cx="150.2" cy="265.4" r="3.45" fill="#fff" stroke="#4d2d76" stroke-width="1.3"/>
<circle cx="164.1" cy="258.0" r="3.45" fill="#fff" stroke="#4d2d76" stroke-width="1.3"/>
<circle cx="177.9" cy="253.9" r="3.45" fill="#fff" stroke="#4d2d76" stroke-width="1.3"/>
<circle cx="191.7" cy="249.3" r="3.45" fill="#fff" stroke="#4d2d76" stroke-width="1.3"/>
<circle cx="205.6" cy="247.1" r="3.45" fill="#fff" stroke="#4d2d76" stroke-width="1.3"/>
<circle cx="219.4" cy="247.1" r="3.45" fill="#fff" stroke="#4d2d76" stroke-width="1.3"/>
<circle cx="233.2" cy="248.8" r="3.45" fill="#fff" stroke="#4d2d76" stroke-width="1.3"/></g>
<path d="M127,270.8 H114" stroke="#111" stroke-width="1.3"/><path d="M111.5,270.8 l4.5,-2.6 v5.2 Z" fill="#111"/>
<path d="M156.5,289.7 H169.5" stroke="#111" stroke-width="1.3"/><path d="M172.2,289.7 l-4.5,-2.6 v5.2 Z" fill="#111"/>
<g fill="#151515" stroke="#151515" stroke-width="0.35">
<text x="51.3" y="243.6" font-size="11.2" text-anchor="middle">10</text><text x="57.4" y="239.6" font-size="7" stroke-width="0.2">4</text>
<text x="51.3" y="282" font-size="11.2" text-anchor="middle">10</text><text x="57.4" y="278" font-size="7" stroke-width="0.2">3</text>
<text x="51.3" y="320.6" font-size="11.2" text-anchor="middle">10</text><text x="57.4" y="316.6" font-size="7" stroke-width="0.2">2</text>
<text x="55.6" y="359.4" font-size="11.2" text-anchor="middle">10</text>
</g>
<text x="66.6" y="368.3" font-size="10.4" class="b" text-anchor="middle" fill="#111">3</text>
<text x="122.6" y="368.3" font-size="10.4" class="b" text-anchor="middle" fill="#111">5</text>
<text x="177.9" y="368.3" font-size="10.4" class="b" text-anchor="middle" fill="#111">7</text>
<text x="233.2" y="368.3" font-size="10.4" class="b" text-anchor="middle" fill="#111">9</text>
<text x="149.8" y="385.6" font-size="11.4" stroke="#111" stroke-width="0.5" text-anchor="middle" fill="#111">Voltage (V)</text>
<text transform="translate(36,296) rotate(-90)" font-size="11.6" stroke="#111" stroke-width="0.45" text-anchor="middle" fill="#111">Luminance (cd/m<tspan font-size="6.5" dy="-3.5">2</tspan><tspan dy="3.5">)</tspan></text>
<g font-size="10.4" fill="#574386" stroke="#574386" stroke-width="0.3" text-anchor="end">
<text x="247.6" y="243.2">10</text><text x="247.6" y="271.8">8</text><text x="247.6" y="300.5">6</text><text x="247.6" y="329">4</text><text x="247.6" y="357.6">2</text>
</g>
<text transform="translate(266.9,296) rotate(-90)" font-size="10.3" letter-spacing="0.75" text-anchor="middle" fill="#80327c">Color Temperature (x10<tspan font-size="6.5" dy="-3.5">3</tspan><tspan dy="3.5">K)</tspan></text>

<!-- ===== panel c ===== -->
<text x="261.5" y="18.4" font-size="12.2" class="b" text-anchor="middle" fill="#111">(c)</text>
<rect x="400" y="174" width="16" height="48" fill="#e2fbfb"/>
<g clip-path="url(#cc)">
<defs><linearGradient id="sg3" gradientUnits="userSpaceOnUse" x1="286.0" y1="0" x2="545.0" y2="0"><stop offset="0.400" stop-color="#dcdc7c"/><stop offset="0.430" stop-color="#e8c048"/><stop offset="0.455" stop-color="#e8c048"/><stop offset="0.485" stop-color="#d8e070"/><stop offset="1.000" stop-color="#d8e070"/></linearGradient><linearGradient id="sg4" gradientUnits="userSpaceOnUse" x1="286.0" y1="0" x2="545.0" y2="0"><stop offset="0.400" stop-color="#cec85e"/><stop offset="0.430" stop-color="#eab040"/><stop offset="0.455" stop-color="#eab040"/><stop offset="0.485" stop-color="#b8d850"/><stop offset="1.000" stop-color="#b8d850"/></linearGradient><linearGradient id="sg5" gradientUnits="userSpaceOnUse" x1="286.0" y1="0" x2="545.0" y2="0"><stop offset="0.400" stop-color="#c2b444"/><stop offset="0.430" stop-color="#eeac38"/><stop offset="0.455" stop-color="#eeac38"/><stop offset="0.485" stop-color="#c8d860"/><stop offset="1.000" stop-color="#c8d860"/></linearGradient><linearGradient id="sg6" gradientUnits="userSpaceOnUse" x1="286.0" y1="0" x2="545.0" y2="0"><stop offset="0.400" stop-color="#b0a22e"/><stop offset="0.430" stop-color="#e8a030"/><stop offset="0.455" stop-color="#e8a030"/><stop offset="0.485" stop-color="#a8cc40"/><stop offset="1.000" stop-color="#a8cc40"/></linearGradient></defs>
<path d="M286.0,351.7 L286.8,351.6 L287.6,351.5 L288.4,351.5 L289.1,351.4 L289.9,351.4 L290.7,351.4 L291.5,351.3 L292.3,351.3 L293.1,351.2 L293.9,351.2 L294.6,351.2 L295.4,351.1 L296.2,351.1 L297.0,351.0 L297.8,351.0 L298.6,350.9 L299.3,350.8 L300.1,350.8 L300.9,350.7 L301.7,350.6 L302.5,350.5 L303.3,350.4 L304.1,350.3 L304.8,350.2 L305.6,350.1 L306.4,349.9 L307.2,349.6 L308.0,349.1 L308.8,348.6 L309.6,347.9 L310.3,347.0 L311.1,346.0 L311.9,343.8 L312.7,339.6 L313.5,333.8 L314.3,326.7 L315.0,318.5 L315.8,305.2 L316.6,285.5 L317.4,264.2 L318.2,245.8 L319.0,231.0 L319.8,217.4 L320.5,204.5 L321.3,192.1 L322.1,180.2 L322.9,168.9 L323.7,157.9 L324.5,147.0 L325.2,135.9 L326.0,124.1 L326.8,111.3 L327.6,98.5 L328.4,86.7 L329.2,76.7 L330.0,66.8 L330.7,57.0 L331.5,48.6 L332.3,42.6 L333.1,40.4 L333.9,41.5 L334.7,44.7 L335.5,49.5 L336.2,55.4 L337.0,62.0 L337.8,68.8 L338.6,75.3 L339.4,81.3 L340.2,88.1 L340.9,95.4 L341.7,102.9 L342.5,110.2 L343.3,116.8 L344.1,122.5 L344.9,127.3 L345.7,131.6 L346.4,135.6 L347.2,139.4 L348.0,143.0 L348.8,146.7 L349.6,150.5 L350.4,154.6 L351.2,158.8 L351.9,163.0 L352.7,167.2 L353.5,171.4 L354.3,175.7 L355.1,180.0 L355.9,184.4 L356.6,188.9 L357.4,193.5 L358.2,198.4 L359.0,203.3 L359.8,208.3 L360.6,213.2 L361.4,218.0 L362.1,222.5 L362.9,226.8 L363.7,230.9 L364.5,235.0 L365.3,239.0 L366.1,242.8 L366.9,246.6 L367.6,250.2 L368.4,253.6 L369.2,256.9 L370.0,259.9 L370.8,262.7 L371.6,265.4 L372.4,267.9 L373.1,270.4 L373.9,272.8 L374.7,275.1 L375.5,277.3 L376.3,279.3 L377.1,281.2 L377.8,283.0 L378.6,284.6 L379.4,286.1 L380.2,287.5 L381.0,288.8 L381.8,290.0 L382.6,291.0 L383.3,292.0 L384.1,292.9 L384.9,293.7 L385.7,294.4 L386.5,295.1 L387.3,295.6 L388.1,296.1 L388.8,296.5 L389.6,296.9 L390.4,297.1 L391.2,297.3 L392.0,297.5 L392.8,297.5 L393.5,297.4 L394.3,297.2 L395.1,296.9 L395.9,296.5 L396.7,296.0 L397.5,295.4 L398.3,294.6 L399.0,293.8 L399.8,293.0 L400.6,292.0 L401.4,291.0 L402.2,289.9 L403.0,288.8 L403.8,287.7 L404.5,286.6 L405.3,285.4 L406.1,284.2 L406.9,283.0 L407.7,281.8 L408.5,280.5 L409.2,279.2 L410.0,277.8 L410.8,276.4 L411.6,275.0 L412.4,273.5 L413.2,272.0 L414.0,270.5 L414.7,269.1 L415.5,267.9 L416.3,266.7 L417.1,265.7 L417.9,264.8 L418.7,264.1 L419.5,263.5 L420.2,263.1 L421.0,262.9 L421.8,262.9 L422.6,263.1 L423.4,263.4 L424.2,263.9 L424.9,264.6 L425.7,265.2 L426.5,265.9 L427.3,266.6 L428.1,267.3 L428.9,268.0 L429.7,268.7 L430.4,269.4 L431.2,270.1 L432.0,270.7 L432.8,271.3 L433.6,271.8 L434.4,272.4 L435.1,273.1 L435.9,273.7 L436.7,274.4 L437.5,275.2 L438.3,275.9 L439.1,276.7 L439.9,277.6 L440.6,278.4 L441.4,279.2 L442.2,280.0 L443.0,280.9 L443.8,281.8 L444.6,282.8 L445.4,283.7 L446.1,284.7 L446.9,285.8 L447.7,286.8 L448.5,287.8 L449.3,288.9 L450.1,289.9 L450.9,290.9 L451.6,292.0 L452.4,293.1 L453.2,294.1 L454.0,295.2 L454.8,296.3 L455.6,297.5 L456.3,298.6 L457.1,299.7 L457.9,300.8 L458.7,301.9 L459.5,303.0 L460.3,304.0 L461.1,305.1 L461.8,306.1 L462.6,307.1 L463.4,308.2 L464.2,309.2 L465.0,310.2 L465.8,311.2 L466.6,312.2 L467.3,313.2 L468.1,314.1 L468.9,315.0 L469.7,316.0 L470.5,316.9 L471.3,317.8 L472.0,318.7 L472.8,319.6 L473.6,320.4 L474.4,321.3 L475.2,322.1 L476.0,322.9 L476.8,323.7 L477.5,324.5 L478.3,325.2 L479.1,325.9 L479.9,326.6 L480.7,327.3 L481.5,328.0 L482.2,328.6 L483.0,329.3 L483.8,329.9 L484.6,330.5 L485.4,331.1 L486.2,331.6 L487.0,332.2 L487.7,332.7 L488.5,333.2 L489.3,333.7 L490.1,334.2 L490.9,334.6 L491.7,335.1 L492.5,335.5 L493.2,335.9 L494.0,336.3 L494.8,336.7 L495.6,337.0 L496.4,337.4 L497.2,337.8 L498.0,338.2 L498.7,338.6 L499.5,339.0 L500.3,339.4 L501.1,339.8 L501.9,340.1 L502.7,340.5 L503.4,340.9 L504.2,341.3 L505.0,341.7 L505.8,342.0 L506.6,342.4 L507.4,342.8 L508.2,343.1 L508.9,343.4 L509.7,343.8 L510.5,344.1 L511.3,344.4 L512.1,344.7 L512.9,345.0 L513.6,345.3 L514.4,345.5 L515.2,345.8 L516.0,346.1 L516.8,346.4 L517.6,346.6 L518.4,346.9 L519.1,347.1 L519.9,347.4 L520.7,347.6 L521.5,347.8 L522.3,348.1 L523.1,348.3 L523.9,348.5 L524.6,348.7 L525.4,348.9 L526.2,349.1 L527.0,349.3 L527.8,349.5 L528.6,349.7 L529.4,349.9 L530.1,350.1 L530.9,350.3 L531.7,350.5 L532.5,350.7 L533.3,350.8 L534.1,351.0 L534.8,351.2 L535.6,351.3 L536.4,351.5 L537.2,351.7 L538.0,351.8 L538.8,352.0 L539.6,352.2 L540.3,352.3 L541.1,352.5 L541.9,352.6 L542.7,352.8 L543.5,352.9 L544.3,353.1 L545.0,353.2" fill="none" stroke="#e0f9fa" stroke-width="7.5" stroke-linejoin="round"/>
<path d="M286.0,352.0 L286.8,351.9 L287.6,351.9 L288.4,351.9 L289.1,351.8 L289.9,351.8 L290.7,351.7 L291.5,351.7 L292.3,351.6 L293.1,351.5 L293.9,351.5 L294.6,351.4 L295.4,351.3 L296.2,351.3 L297.0,351.1 L297.8,351.0 L298.6,350.7 L299.3,350.5 L300.1,350.1 L300.9,349.7 L301.7,349.2 L302.5,348.7 L303.3,348.1 L304.1,347.1 L304.8,345.1 L305.6,342.4 L306.4,339.0 L307.2,334.9 L308.0,330.3 L308.8,325.3 L309.6,317.4 L310.3,306.1 L311.1,292.9 L311.9,279.2 L312.7,266.8 L313.5,256.4 L314.3,246.6 L315.0,237.2 L315.8,228.3 L316.6,219.6 L317.4,211.2 L318.2,203.0 L319.0,195.1 L319.8,187.3 L320.5,179.5 L321.3,171.8 L322.1,164.0 L322.9,156.1 L323.7,147.8 L324.5,139.2 L325.2,130.5 L326.0,122.1 L326.8,114.2 L327.6,107.2 L328.4,100.4 L329.2,93.5 L330.0,87.0 L330.7,81.1 L331.5,76.4 L332.3,73.3 L333.1,72.2 L333.9,73.3 L334.7,76.2 L335.5,80.7 L336.2,86.1 L337.0,92.1 L337.8,98.3 L338.6,104.1 L339.4,109.5 L340.2,115.5 L340.9,121.9 L341.7,128.4 L342.5,134.8 L343.3,140.6 L344.1,145.5 L344.9,149.6 L345.7,153.4 L346.4,156.8 L347.2,160.0 L348.0,163.2 L348.8,166.3 L349.6,169.6 L350.4,173.1 L351.2,176.7 L351.9,180.2 L352.7,183.8 L353.5,187.4 L354.3,191.1 L355.1,194.8 L355.9,198.5 L356.6,202.3 L357.4,206.3 L358.2,210.4 L359.0,214.6 L359.8,218.8 L360.6,223.0 L361.4,227.1 L362.1,231.0 L362.9,234.7 L363.7,238.2 L364.5,241.6 L365.3,245.0 L366.1,248.3 L366.9,251.4 L367.6,254.4 L368.4,257.3 L369.2,259.9 L370.0,262.4 L370.8,264.6 L371.6,266.7 L372.4,268.7 L373.1,270.7 L373.9,272.5 L374.7,274.2 L375.5,275.9 L376.3,277.4 L377.1,278.8 L377.8,280.1 L378.6,281.2 L379.4,282.3 L380.2,283.2 L381.0,284.1 L381.8,284.9 L382.6,285.7 L383.3,286.4 L384.1,287.1 L384.9,287.8 L385.7,288.5 L386.5,289.2 L387.3,289.8 L388.1,290.4 L388.8,291.0 L389.6,291.6 L390.4,292.1 L391.2,292.6 L392.0,293.1 L392.8,293.6 L393.5,294.0 L394.3,294.3 L395.1,294.5 L395.9,294.6 L396.7,294.7 L397.5,294.6 L398.3,294.5 L399.0,294.2 L399.8,293.9 L400.6,293.4 L401.4,292.8 L402.2,292.2 L403.0,291.5 L403.8,290.7 L404.5,289.8 L405.3,288.9 L406.1,287.9 L406.9,286.8 L407.7,285.6 L408.5,284.4 L409.2,283.1 L410.0,281.6 L410.8,280.2 L411.6,278.6 L412.4,277.0 L413.2,275.3 L414.0,273.7 L414.7,272.1 L415.5,270.6 L416.3,269.2 L417.1,267.9 L417.9,266.7 L418.7,265.6 L419.5,264.7 L420.2,264.0 L421.0,263.5 L421.8,263.1 L422.6,262.9 L423.4,262.9 L424.2,263.1 L424.9,263.5 L425.7,264.0 L426.5,264.6 L427.3,265.1 L428.1,265.7 L428.9,266.3 L429.7,266.9 L430.4,267.5 L431.2,268.1 L432.0,268.7 L432.8,269.2 L433.6,269.7 L434.4,270.2 L435.1,270.8 L435.9,271.3 L436.7,272.0 L437.5,272.7 L438.3,273.5 L439.1,274.2 L439.9,275.0 L440.6,275.9 L441.4,276.7 L442.2,277.5 L443.0,278.4 L443.8,279.3 L444.6,280.2 L445.4,281.2 L446.1,282.1 L446.9,283.2 L447.7,284.2 L448.5,285.3 L449.3,286.3 L450.1,287.4 L450.9,288.4 L451.6,289.5 L452.4,290.6 L453.2,291.7 L454.0,292.8 L454.8,293.9 L455.6,295.0 L456.3,296.2 L457.1,297.3 L457.9,298.4 L458.7,299.6 L459.5,300.7 L460.3,301.8 L461.1,302.9 L461.8,304.0 L462.6,305.0 L463.4,306.1 L464.2,307.1 L465.0,308.2 L465.8,309.2 L466.6,310.2 L467.3,311.3 L468.1,312.3 L468.9,313.2 L469.7,314.2 L470.5,315.2 L471.3,316.1 L472.0,317.0 L472.8,317.9 L473.6,318.8 L474.4,319.7 L475.2,320.6 L476.0,321.5 L476.8,322.3 L477.5,323.1 L478.3,323.9 L479.1,324.6 L479.9,325.4 L480.7,326.1 L481.5,326.8 L482.2,327.5 L483.0,328.1 L483.8,328.8 L484.6,329.4 L485.4,330.0 L486.2,330.6 L487.0,331.2 L487.7,331.8 L488.5,332.3 L489.3,332.9 L490.1,333.4 L490.9,333.8 L491.7,334.3 L492.5,334.7 L493.2,335.2 L494.0,335.6 L494.8,336.0 L495.6,336.4 L496.4,336.8 L497.2,337.1 L498.0,337.5 L498.7,337.9 L499.5,338.3 L500.3,338.7 L501.1,339.1 L501.9,339.5 L502.7,339.9 L503.4,340.3 L504.2,340.7 L505.0,341.1 L505.8,341.5 L506.6,341.9 L507.4,342.2 L508.2,342.6 L508.9,343.0 L509.7,343.3 L510.5,343.6 L511.3,343.9 L512.1,344.2 L512.9,344.6 L513.6,344.9 L514.4,345.2 L515.2,345.4 L516.0,345.7 L516.8,346.0 L517.6,346.3 L518.4,346.5 L519.1,346.8 L519.9,347.1 L520.7,347.3 L521.5,347.5 L522.3,347.8 L523.1,348.0 L523.9,348.2 L524.6,348.4 L525.4,348.7 L526.2,348.9 L527.0,349.1 L527.8,349.3 L528.6,349.5 L529.4,349.7 L530.1,349.9 L530.9,350.1 L531.7,350.2 L532.5,350.4 L533.3,350.6 L534.1,350.8 L534.8,351.0 L535.6,351.1 L536.4,351.3 L537.2,351.4 L538.0,351.6 L538.8,351.8 L539.6,351.9 L540.3,352.1 L541.1,352.3 L541.9,352.4 L542.7,352.6 L543.5,352.7 L544.3,352.9 L545.0,353.0" fill="none" stroke="#e0f9fa" stroke-width="7.5" stroke-linejoin="round"/>
<path d="M286.0,354.9 L286.8,354.9 L287.6,354.9 L288.4,354.9 L289.1,354.8 L289.9,354.8 L290.7,354.8 L291.5,354.8 L292.3,354.8 L293.1,354.8 L293.9,354.8 L294.6,354.7 L295.4,354.7 L296.2,354.7 L297.0,354.7 L297.8,354.7 L298.6,354.7 L299.3,354.6 L300.1,354.6 L300.9,354.6 L301.7,354.6 L302.5,354.5 L303.3,354.5 L304.1,354.5 L304.8,354.4 L305.6,354.4 L306.4,354.3 L307.2,354.2 L308.0,354.1 L308.8,353.9 L309.6,353.7 L310.3,353.4 L311.1,353.1 L311.9,352.4 L312.7,351.1 L313.5,349.3 L314.3,347.0 L315.0,344.4 L315.8,339.4 L316.6,331.0 L317.4,321.0 L318.2,311.1 L319.0,301.9 L319.8,292.8 L320.5,284.1 L321.3,276.0 L322.1,268.1 L322.9,260.1 L323.7,252.0 L324.5,243.9 L325.2,235.9 L326.0,228.0 L326.8,220.3 L327.6,212.6 L328.4,205.0 L329.2,198.1 L330.0,191.3 L330.7,185.1 L331.5,179.9 L332.3,176.3 L333.1,175.0 L333.9,175.8 L334.7,177.9 L335.5,181.1 L336.2,184.8 L337.0,188.9 L337.8,193.0 L338.6,196.6 L339.4,200.0 L340.2,203.5 L340.9,207.3 L341.7,211.0 L342.5,214.6 L343.3,217.8 L344.1,220.5 L344.9,222.8 L345.7,224.9 L346.4,226.7 L347.2,228.5 L348.0,230.2 L348.8,231.9 L349.6,233.6 L350.4,235.5 L351.2,237.4 L351.9,239.3 L352.7,241.2 L353.5,243.0 L354.3,245.0 L355.1,246.9 L355.9,248.9 L356.6,251.0 L357.4,253.1 L358.2,255.4 L359.0,257.7 L359.8,260.1 L360.6,262.4 L361.4,264.8 L362.1,267.0 L362.9,269.2 L363.7,271.4 L364.5,273.5 L365.3,275.6 L366.1,277.8 L366.9,279.8 L367.6,281.8 L368.4,283.8 L369.2,285.6 L370.0,287.3 L370.8,288.9 L371.6,290.4 L372.4,291.9 L373.1,293.4 L373.9,294.9 L374.7,296.2 L375.5,297.6 L376.3,298.8 L377.1,300.0 L377.8,301.1 L378.6,302.1 L379.4,303.0 L380.2,303.8 L381.0,304.5 L381.8,305.2 L382.6,306.0 L383.3,306.7 L384.1,307.4 L384.9,308.1 L385.7,308.8 L386.5,309.5 L387.3,310.1 L388.1,310.7 L388.8,311.2 L389.6,311.7 L390.4,312.1 L391.2,312.5 L392.0,313.0 L392.8,313.3 L393.5,313.7 L394.3,314.0 L395.1,314.2 L395.9,314.3 L396.7,314.3 L397.5,314.3 L398.3,314.1 L399.0,313.8 L399.8,313.4 L400.6,312.9 L401.4,312.2 L402.2,311.5 L403.0,310.7 L403.8,309.8 L404.5,308.8 L405.3,307.7 L406.1,306.4 L406.9,305.1 L407.7,303.7 L408.5,302.1 L409.2,300.5 L410.0,298.7 L410.8,296.9 L411.6,294.9 L412.4,292.9 L413.2,290.8 L414.0,288.7 L414.7,286.7 L415.5,284.6 L416.3,282.5 L417.1,280.5 L417.9,278.5 L418.7,276.7 L419.5,274.8 L420.2,273.1 L421.0,271.5 L421.8,270.0 L422.6,268.6 L423.4,267.3 L424.2,266.2 L424.9,265.3 L425.7,264.5 L426.5,263.8 L427.3,263.3 L428.1,263.0 L428.9,262.9 L429.7,262.9 L430.4,263.1 L431.2,263.3 L432.0,263.6 L432.8,263.9 L433.6,264.3 L434.4,264.7 L435.1,265.1 L435.9,265.5 L436.7,265.9 L437.5,266.4 L438.3,266.8 L439.1,267.4 L439.9,268.1 L440.6,268.9 L441.4,269.7 L442.2,270.6 L443.0,271.5 L443.8,272.5 L444.6,273.4 L445.4,274.4 L446.1,275.3 L446.9,276.4 L447.7,277.5 L448.5,278.6 L449.3,279.8 L450.1,281.0 L450.9,282.3 L451.6,283.5 L452.4,284.7 L453.2,286.0 L454.0,287.2 L454.8,288.5 L455.6,289.8 L456.3,291.1 L457.1,292.4 L457.9,293.8 L458.7,295.1 L459.5,296.5 L460.3,297.8 L461.1,299.1 L461.8,300.4 L462.6,301.7 L463.4,302.9 L464.2,304.1 L465.0,305.4 L465.8,306.6 L466.6,307.8 L467.3,309.0 L468.1,310.2 L468.9,311.4 L469.7,312.5 L470.5,313.6 L471.3,314.7 L472.0,315.8 L472.8,316.9 L473.6,318.0 L474.4,319.0 L475.2,320.0 L476.0,321.0 L476.8,322.0 L477.5,322.9 L478.3,323.8 L479.1,324.6 L479.9,325.4 L480.7,326.2 L481.5,327.0 L482.2,327.8 L483.0,328.5 L483.8,329.3 L484.6,330.0 L485.4,330.7 L486.2,331.3 L487.0,331.9 L487.7,332.5 L488.5,333.1 L489.3,333.6 L490.1,334.1 L490.9,334.6 L491.7,335.1 L492.5,335.6 L493.2,336.0 L494.0,336.5 L494.8,336.9 L495.6,337.4 L496.4,337.9 L497.2,338.3 L498.0,338.8 L498.7,339.3 L499.5,339.7 L500.3,340.2 L501.1,340.7 L501.9,341.1 L502.7,341.5 L503.4,342.0 L504.2,342.4 L505.0,342.8 L505.8,343.2 L506.6,343.5 L507.4,343.9 L508.2,344.3 L508.9,344.6 L509.7,345.0 L510.5,345.3 L511.3,345.6 L512.1,345.9 L512.9,346.2 L513.6,346.5 L514.4,346.8 L515.2,347.1 L516.0,347.4 L516.8,347.6 L517.6,347.9 L518.4,348.1 L519.1,348.4 L519.9,348.6 L520.7,348.9 L521.5,349.1 L522.3,349.3 L523.1,349.5 L523.9,349.7 L524.6,349.9 L525.4,350.1 L526.2,350.3 L527.0,350.5 L527.8,350.7 L528.6,350.9 L529.4,351.0 L530.1,351.2 L530.9,351.4 L531.7,351.6 L532.5,351.7 L533.3,351.9 L534.1,352.0 L534.8,352.2 L535.6,352.4 L536.4,352.5 L537.2,352.6 L538.0,352.8 L538.8,352.9 L539.6,353.1 L540.3,353.2 L541.1,353.3 L541.9,353.4 L542.7,353.5 L543.5,353.6 L544.3,353.7 L545.0,353.8" fill="none" stroke="#8c8c8c" stroke-width="1.0" stroke-linejoin="round"/>
<path d="M286.0,354.1 L286.8,354.1 L287.6,354.1 L288.4,354.0 L289.1,354.0 L289.9,354.0 L290.7,354.0 L291.5,353.9 L292.3,353.9 L293.1,353.9 L293.9,353.9 L294.6,353.9 L295.4,353.8 L296.2,353.8 L297.0,353.8 L297.8,353.8 L298.6,353.8 L299.3,353.7 L300.1,353.7 L300.9,353.7 L301.7,353.6 L302.5,353.6 L303.3,353.5 L304.1,353.5 L304.8,353.4 L305.6,353.4 L306.4,353.3 L307.2,353.1 L308.0,352.9 L308.8,352.6 L309.6,352.3 L310.3,351.9 L311.1,351.4 L311.9,350.3 L312.7,348.3 L313.5,345.5 L314.3,342.1 L315.0,338.1 L315.8,331.0 L316.6,319.8 L317.4,306.9 L318.2,294.7 L319.0,283.9 L319.8,273.5 L320.5,263.6 L321.3,254.2 L322.1,245.2 L322.9,236.2 L323.7,227.2 L324.5,218.2 L325.2,209.3 L326.0,200.2 L326.8,191.1 L327.6,182.0 L328.4,173.2 L329.2,165.4 L330.0,157.7 L330.7,150.4 L331.5,144.3 L332.3,140.1 L333.1,138.5 L333.9,139.4 L334.7,141.9 L335.5,145.5 L336.2,149.9 L337.0,154.7 L337.8,159.5 L338.6,163.9 L339.4,167.9 L340.2,172.4 L340.9,177.0 L341.7,181.7 L342.5,186.3 L343.3,190.4 L344.1,193.9 L344.9,196.8 L345.7,199.4 L346.4,201.9 L347.2,204.1 L348.0,206.3 L348.8,208.5 L349.6,210.8 L350.4,213.2 L351.2,215.7 L351.9,218.2 L352.7,220.7 L353.5,223.2 L354.3,225.7 L355.1,228.2 L355.9,230.9 L356.6,233.5 L357.4,236.3 L358.2,239.3 L359.0,242.3 L359.8,245.3 L360.6,248.4 L361.4,251.4 L362.1,254.3 L362.9,257.0 L363.7,259.7 L364.5,262.4 L365.3,265.1 L366.1,267.7 L366.9,270.3 L367.6,272.8 L368.4,275.2 L369.2,277.4 L370.0,279.6 L370.8,281.6 L371.6,283.5 L372.4,285.4 L373.1,287.3 L373.9,289.1 L374.7,290.8 L375.5,292.4 L376.3,294.0 L377.1,295.5 L377.8,296.9 L378.6,298.1 L379.4,299.3 L380.2,300.3 L381.0,301.3 L381.8,302.2 L382.6,303.1 L383.3,304.0 L384.1,304.8 L384.9,305.6 L385.7,306.3 L386.5,307.0 L387.3,307.6 L388.1,308.2 L388.8,308.6 L389.6,309.1 L390.4,309.4 L391.2,309.8 L392.0,310.1 L392.8,310.3 L393.5,310.5 L394.3,310.6 L395.1,310.6 L395.9,310.5 L396.7,310.3 L397.5,310.1 L398.3,309.7 L399.0,309.2 L399.8,308.6 L400.6,307.9 L401.4,307.2 L402.2,306.3 L403.0,305.4 L403.8,304.4 L404.5,303.3 L405.3,302.2 L406.1,300.9 L406.9,299.6 L407.7,298.2 L408.5,296.7 L409.2,295.1 L410.0,293.5 L410.8,291.7 L411.6,289.9 L412.4,288.0 L413.2,286.1 L414.0,284.2 L414.7,282.2 L415.5,280.3 L416.3,278.5 L417.1,276.7 L417.9,274.9 L418.7,273.3 L419.5,271.7 L420.2,270.2 L421.0,268.9 L421.8,267.6 L422.6,266.5 L423.4,265.5 L424.2,264.7 L424.9,264.0 L425.7,263.5 L426.5,263.1 L427.3,262.9 L428.1,262.9 L428.9,263.0 L429.7,263.3 L430.4,263.6 L431.2,263.9 L432.0,264.3 L432.8,264.7 L433.6,265.2 L434.4,265.6 L435.1,266.0 L435.9,266.5 L436.7,266.9 L437.5,267.4 L438.3,268.0 L439.1,268.7 L439.9,269.5 L440.6,270.3 L441.4,271.2 L442.2,272.1 L443.0,273.0 L443.8,274.0 L444.6,274.9 L445.4,275.9 L446.1,277.0 L446.9,278.1 L447.7,279.2 L448.5,280.4 L449.3,281.6 L450.1,282.8 L450.9,284.0 L451.6,285.2 L452.4,286.5 L453.2,287.7 L454.0,289.0 L454.8,290.3 L455.6,291.6 L456.3,292.9 L457.1,294.2 L457.9,295.5 L458.7,296.9 L459.5,298.2 L460.3,299.5 L461.1,300.8 L461.8,302.0 L462.6,303.2 L463.4,304.5 L464.2,305.7 L465.0,306.9 L465.8,308.1 L466.6,309.3 L467.3,310.5 L468.1,311.6 L468.9,312.8 L469.7,313.9 L470.5,314.9 L471.3,316.0 L472.0,317.1 L472.8,318.1 L473.6,319.2 L474.4,320.2 L475.2,321.2 L476.0,322.1 L476.8,323.0 L477.5,323.9 L478.3,324.7 L479.1,325.5 L479.9,326.3 L480.7,327.1 L481.5,327.9 L482.2,328.6 L483.0,329.3 L483.8,330.0 L484.6,330.7 L485.4,331.3 L486.2,332.0 L487.0,332.6 L487.7,333.1 L488.5,333.6 L489.3,334.2 L490.1,334.6 L490.9,335.1 L491.7,335.6 L492.5,336.0 L493.2,336.5 L494.0,336.9 L494.8,337.4 L495.6,337.8 L496.4,338.3 L497.2,338.8 L498.0,339.2 L498.7,339.7 L499.5,340.2 L500.3,340.6 L501.1,341.1 L501.9,341.5 L502.7,341.9 L503.4,342.4 L504.2,342.7 L505.0,343.1 L505.8,343.5 L506.6,343.9 L507.4,344.2 L508.2,344.6 L508.9,344.9 L509.7,345.2 L510.5,345.6 L511.3,345.9 L512.1,346.2 L512.9,346.5 L513.6,346.8 L514.4,347.0 L515.2,347.3 L516.0,347.6 L516.8,347.8 L517.6,348.1 L518.4,348.3 L519.1,348.6 L519.9,348.8 L520.7,349.0 L521.5,349.2 L522.3,349.5 L523.1,349.7 L523.9,349.9 L524.6,350.1 L525.4,350.3 L526.2,350.5 L527.0,350.6 L527.8,350.8 L528.6,351.0 L529.4,351.2 L530.1,351.3 L530.9,351.5 L531.7,351.7 L532.5,351.8 L533.3,352.0 L534.1,352.2 L534.8,352.3 L535.6,352.5 L536.4,352.6 L537.2,352.8 L538.0,352.9 L538.8,353.1 L539.6,353.2 L540.3,353.3 L541.1,353.4 L541.9,353.5 L542.7,353.7 L543.5,353.8 L544.3,353.9 L545.0,354.0" fill="none" stroke="#9a9a9a" stroke-width="1.0" stroke-linejoin="round"/>
<path d="M286.0,353.5 L286.8,353.4 L287.6,353.4 L288.4,353.4 L289.1,353.3 L289.9,353.3 L290.7,353.3 L291.5,353.3 L292.3,353.2 L293.1,353.2 L293.9,353.2 L294.6,353.2 L295.4,353.1 L296.2,353.1 L297.0,353.1 L297.8,353.0 L298.6,353.0 L299.3,353.0 L300.1,352.9 L300.9,352.9 L301.7,352.8 L302.5,352.8 L303.3,352.7 L304.1,352.6 L304.8,352.6 L305.6,352.5 L306.4,352.4 L307.2,352.2 L308.0,351.9 L308.8,351.6 L309.6,351.1 L310.3,350.6 L311.1,350.0 L311.9,348.6 L312.7,346.0 L313.5,342.5 L314.3,338.0 L315.0,333.0 L315.8,324.3 L316.6,310.8 L317.4,295.7 L318.2,281.9 L319.0,270.0 L319.8,258.7 L320.5,248.0 L321.3,237.8 L322.1,228.0 L322.9,218.3 L323.7,208.8 L324.5,199.3 L325.2,189.8 L326.0,180.0 L326.8,169.9 L327.6,159.8 L328.4,150.2 L329.2,141.7 L330.0,133.5 L330.7,125.5 L331.5,118.8 L332.3,114.1 L333.1,112.4 L333.9,113.3 L334.7,116.0 L335.5,119.9 L336.2,124.7 L337.0,130.0 L337.8,135.3 L338.6,140.3 L339.4,144.9 L340.2,149.9 L340.9,155.3 L341.7,160.7 L342.5,166.0 L343.3,170.8 L344.1,174.8 L344.9,178.3 L345.7,181.3 L346.4,184.2 L347.2,186.8 L348.0,189.4 L348.8,192.0 L349.6,194.7 L350.4,197.6 L351.2,200.5 L351.9,203.4 L352.7,206.3 L353.5,209.3 L354.3,212.3 L355.1,215.3 L355.9,218.4 L356.6,221.5 L357.4,224.8 L358.2,228.2 L359.0,231.7 L359.8,235.3 L360.6,238.8 L361.4,242.3 L362.1,245.6 L362.9,248.8 L363.7,251.9 L364.5,254.9 L365.3,257.9 L366.1,260.9 L366.9,263.7 L367.6,266.5 L368.4,269.2 L369.2,271.7 L370.0,274.1 L370.8,276.3 L371.6,278.4 L372.4,280.4 L373.1,282.4 L373.9,284.4 L374.7,286.2 L375.5,288.0 L376.3,289.7 L377.1,291.2 L377.8,292.7 L378.6,294.1 L379.4,295.3 L380.2,296.4 L381.0,297.4 L381.8,298.4 L382.6,299.4 L383.3,300.2 L384.1,301.1 L384.9,301.9 L385.7,302.6 L386.5,303.3 L387.3,303.9 L388.1,304.4 L388.8,304.9 L389.6,305.4 L390.4,305.7 L391.2,306.1 L392.0,306.4 L392.8,306.6 L393.5,306.8 L394.3,306.8 L395.1,306.8 L395.9,306.7 L396.7,306.6 L397.5,306.3 L398.3,305.9 L399.0,305.4 L399.8,304.9 L400.6,304.2 L401.4,303.5 L402.2,302.7 L403.0,301.8 L403.8,300.9 L404.5,299.9 L405.3,298.8 L406.1,297.7 L406.9,296.5 L407.7,295.2 L408.5,293.9 L409.2,292.5 L410.0,290.9 L410.8,289.3 L411.6,287.7 L412.4,285.9 L413.2,284.1 L414.0,282.3 L414.7,280.4 L415.5,278.7 L416.3,276.9 L417.1,275.2 L417.9,273.6 L418.7,272.1 L419.5,270.6 L420.2,269.3 L421.0,268.0 L421.8,266.9 L422.6,265.9 L423.4,265.0 L424.2,264.3 L424.9,263.7 L425.7,263.3 L426.5,263.0 L427.3,262.9 L428.1,262.9 L428.9,263.1 L429.7,263.4 L430.4,263.8 L431.2,264.2 L432.0,264.6 L432.8,265.1 L433.6,265.5 L434.4,266.0 L435.1,266.4 L435.9,266.9 L436.7,267.3 L437.5,267.8 L438.3,268.4 L439.1,269.1 L439.9,269.9 L440.6,270.7 L441.4,271.6 L442.2,272.5 L443.0,273.5 L443.8,274.4 L444.6,275.4 L445.4,276.3 L446.1,277.4 L446.9,278.5 L447.7,279.6 L448.5,280.8 L449.3,282.0 L450.1,283.2 L450.9,284.4 L451.6,285.6 L452.4,286.8 L453.2,288.1 L454.0,289.3 L454.8,290.6 L455.6,291.9 L456.3,293.2 L457.1,294.5 L457.9,295.8 L458.7,297.1 L459.5,298.5 L460.3,299.7 L461.1,301.0 L461.8,302.3 L462.6,303.5 L463.4,304.7 L464.2,305.9 L465.0,307.1 L465.8,308.3 L466.6,309.5 L467.3,310.7 L468.1,311.8 L468.9,312.9 L469.7,314.0 L470.5,315.1 L471.3,316.2 L472.0,317.2 L472.8,318.3 L473.6,319.3 L474.4,320.3 L475.2,321.2 L476.0,322.2 L476.8,323.1 L477.5,323.9 L478.3,324.8 L479.1,325.6 L479.9,326.4 L480.7,327.2 L481.5,327.9 L482.2,328.7 L483.0,329.4 L483.8,330.1 L484.6,330.7 L485.4,331.4 L486.2,332.0 L487.0,332.6 L487.7,333.1 L488.5,333.7 L489.3,334.2 L490.1,334.6 L490.9,335.1 L491.7,335.6 L492.5,336.0 L493.2,336.5 L494.0,336.9 L494.8,337.4 L495.6,337.8 L496.4,338.3 L497.2,338.8 L498.0,339.2 L498.7,339.7 L499.5,340.1 L500.3,340.6 L501.1,341.0 L501.9,341.5 L502.7,341.9 L503.4,342.3 L504.2,342.7 L505.0,343.1 L505.8,343.5 L506.6,343.8 L507.4,344.2 L508.2,344.5 L508.9,344.9 L509.7,345.2 L510.5,345.5 L511.3,345.8 L512.1,346.1 L512.9,346.4 L513.6,346.7 L514.4,347.0 L515.2,347.3 L516.0,347.5 L516.8,347.8 L517.6,348.0 L518.4,348.3 L519.1,348.5 L519.9,348.7 L520.7,349.0 L521.5,349.2 L522.3,349.4 L523.1,349.6 L523.9,349.8 L524.6,350.0 L525.4,350.2 L526.2,350.4 L527.0,350.6 L527.8,350.8 L528.6,351.0 L529.4,351.1 L530.1,351.3 L530.9,351.5 L531.7,351.7 L532.5,351.8 L533.3,352.0 L534.1,352.1 L534.8,352.3 L535.6,352.5 L536.4,352.6 L537.2,352.8 L538.0,352.9 L538.8,353.0 L539.6,353.2 L540.3,353.3 L541.1,353.4 L541.9,353.6 L542.7,353.7 L543.5,353.8 L544.3,353.9 L545.0,354.0" fill="none" stroke="#a8a8a8" stroke-width="1.0" stroke-linejoin="round"/>
<path d="M286.0,355.6 L286.8,355.6 L287.6,355.5 L288.4,355.5 L289.1,355.5 L289.9,355.5 L290.7,355.5 L291.5,355.5 L292.3,355.5 L293.1,355.5 L293.9,355.5 L294.6,355.5 L295.4,355.5 L296.2,355.5 L297.0,355.5 L297.8,355.4 L298.6,355.4 L299.3,355.4 L300.1,355.4 L300.9,355.4 L301.7,355.4 L302.5,355.4 L303.3,355.4 L304.1,355.3 L304.8,355.3 L305.6,355.3 L306.4,355.3 L307.2,355.2 L308.0,355.1 L308.8,355.0 L309.6,354.9 L310.3,354.7 L311.1,354.6 L311.9,354.2 L312.7,353.5 L313.5,352.4 L314.3,351.2 L315.0,349.7 L315.8,346.6 L316.6,340.9 L317.4,333.8 L318.2,326.4 L319.0,319.1 L319.8,311.9 L320.5,304.9 L321.3,298.4 L322.1,292.1 L322.9,285.5 L323.7,278.9 L324.5,272.3 L325.2,265.7 L326.0,259.4 L326.8,253.4 L327.6,247.4 L328.4,241.4 L329.2,235.8 L330.0,230.3 L330.7,225.4 L331.5,221.3 L332.3,218.6 L333.1,217.6 L333.9,218.2 L334.7,219.9 L335.5,222.4 L336.2,225.4 L337.0,228.6 L337.8,231.7 L338.6,234.5 L339.4,237.0 L340.2,239.7 L340.9,242.4 L341.7,245.1 L342.5,247.7 L343.3,250.0 L344.1,252.0 L344.9,253.6 L345.7,255.1 L346.4,256.4 L347.2,257.6 L348.0,258.8 L348.8,260.0 L349.6,261.3 L350.4,262.6 L351.2,263.9 L351.9,265.2 L352.7,266.5 L353.5,267.8 L354.3,269.1 L355.1,270.5 L355.9,271.9 L356.6,273.3 L357.4,274.9 L358.2,276.5 L359.0,278.1 L359.8,279.8 L360.6,281.5 L361.4,283.2 L362.1,284.9 L362.9,286.5 L363.7,288.1 L364.5,289.7 L365.3,291.4 L366.1,293.0 L366.9,294.6 L367.6,296.1 L368.4,297.6 L369.2,299.1 L370.0,300.4 L370.8,301.7 L371.6,302.9 L372.4,304.1 L373.1,305.3 L373.9,306.5 L374.7,307.6 L375.5,308.7 L376.3,309.7 L377.1,310.7 L377.8,311.6 L378.6,312.4 L379.4,313.2 L380.2,313.8 L381.0,314.5 L381.8,315.1 L382.6,315.7 L383.3,316.3 L384.1,316.9 L384.9,317.5 L385.7,318.1 L386.5,318.7 L387.3,319.2 L388.1,319.7 L388.8,320.1 L389.6,320.5 L390.4,320.8 L391.2,321.2 L392.0,321.5 L392.8,321.7 L393.5,322.0 L394.3,322.1 L395.1,322.2 L395.9,322.3 L396.7,322.2 L397.5,322.0 L398.3,321.8 L399.0,321.4 L399.8,320.9 L400.6,320.2 L401.4,319.5 L402.2,318.7 L403.0,317.7 L403.8,316.7 L404.5,315.5 L405.3,314.2 L406.1,312.9 L406.9,311.4 L407.7,309.7 L408.5,308.0 L409.2,306.2 L410.0,304.3 L410.8,302.3 L411.6,300.1 L412.4,298.0 L413.2,295.7 L414.0,293.5 L414.7,291.2 L415.5,288.9 L416.3,286.7 L417.1,284.5 L417.9,282.3 L418.7,280.2 L419.5,278.2 L420.2,276.2 L421.0,274.3 L421.8,272.6 L422.6,270.9 L423.4,269.4 L424.2,268.0 L424.9,266.8 L425.7,265.7 L426.5,264.8 L427.3,264.1 L428.1,263.5 L428.9,263.1 L429.7,262.9 L430.4,262.9 L431.2,263.0 L432.0,263.2 L432.8,263.4 L433.6,263.7 L434.4,264.0 L435.1,264.4 L435.9,264.7 L436.7,265.2 L437.5,265.6 L438.3,266.0 L439.1,266.5 L439.9,267.1 L440.6,267.8 L441.4,268.5 L442.2,269.3 L443.0,270.2 L443.8,271.1 L444.6,272.1 L445.4,273.0 L446.1,274.0 L446.9,275.0 L447.7,276.0 L448.5,277.1 L449.3,278.3 L450.1,279.4 L450.9,280.7 L451.6,281.9 L452.4,283.1 L453.2,284.4 L454.0,285.6 L454.8,286.9 L455.6,288.2 L456.3,289.5 L457.1,290.8 L457.9,292.1 L458.7,293.5 L459.5,294.8 L460.3,296.2 L461.1,297.5 L461.8,298.8 L462.6,300.1 L463.4,301.4 L464.2,302.7 L465.0,303.9 L465.8,305.2 L466.6,306.4 L467.3,307.6 L468.1,308.9 L468.9,310.0 L469.7,311.2 L470.5,312.4 L471.3,313.5 L472.0,314.6 L472.8,315.7 L473.6,316.8 L474.4,317.8 L475.2,318.9 L476.0,319.9 L476.8,320.9 L477.5,321.9 L478.3,322.8 L479.1,323.7 L479.9,324.5 L480.7,325.4 L481.5,326.2 L482.2,327.0 L483.0,327.8 L483.8,328.5 L484.6,329.3 L485.4,330.0 L486.2,330.6 L487.0,331.3 L487.7,331.9 L488.5,332.5 L489.3,333.1 L490.1,333.6 L490.9,334.1 L491.7,334.6 L492.5,335.1 L493.2,335.6 L494.0,336.0 L494.8,336.5 L495.6,337.0 L496.4,337.4 L497.2,337.9 L498.0,338.3 L498.7,338.8 L499.5,339.3 L500.3,339.8 L501.1,340.2 L501.9,340.7 L502.7,341.1 L503.4,341.6 L504.2,342.0 L505.0,342.4 L505.8,342.8 L506.6,343.2 L507.4,343.6 L508.2,344.0 L508.9,344.3 L509.7,344.7 L510.5,345.0 L511.3,345.3 L512.1,345.7 L512.9,346.0 L513.6,346.3 L514.4,346.6 L515.2,346.9 L516.0,347.2 L516.8,347.4 L517.6,347.7 L518.4,347.9 L519.1,348.2 L519.9,348.4 L520.7,348.7 L521.5,348.9 L522.3,349.1 L523.1,349.4 L523.9,349.6 L524.6,349.8 L525.4,350.0 L526.2,350.2 L527.0,350.4 L527.8,350.6 L528.6,350.7 L529.4,350.9 L530.1,351.1 L530.9,351.3 L531.7,351.4 L532.5,351.6 L533.3,351.8 L534.1,351.9 L534.8,352.1 L535.6,352.2 L536.4,352.4 L537.2,352.5 L538.0,352.7 L538.8,352.8 L539.6,352.9 L540.3,353.1 L541.1,353.2 L541.9,353.3 L542.7,353.4 L543.5,353.5 L544.3,353.6 L545.0,353.7" fill="none" stroke="url(#sg3)" stroke-width="2.9" stroke-linejoin="round"/>
<path d="M286.0,356.0 L286.8,356.0 L287.6,356.0 L288.4,356.0 L289.1,356.0 L289.9,356.0 L290.7,356.0 L291.5,356.0 L292.3,356.0 L293.1,356.0 L293.9,356.0 L294.6,356.0 L295.4,356.0 L296.2,356.0 L297.0,356.0 L297.8,356.0 L298.6,356.0 L299.3,356.0 L300.1,356.0 L300.9,356.0 L301.7,356.0 L302.5,355.9 L303.3,355.9 L304.1,355.9 L304.8,355.9 L305.6,355.9 L306.4,355.9 L307.2,355.9 L308.0,355.8 L308.8,355.8 L309.6,355.7 L310.3,355.7 L311.1,355.6 L311.9,355.4 L312.7,355.1 L313.5,354.6 L314.3,354.1 L315.0,353.5 L315.8,351.7 L316.6,348.2 L317.4,343.6 L318.2,338.5 L319.0,333.2 L319.8,327.8 L320.5,322.6 L321.3,317.9 L322.1,313.2 L322.9,308.3 L323.7,303.3 L324.5,298.3 L325.2,293.4 L326.0,288.7 L326.8,284.4 L327.6,280.1 L328.4,275.7 L329.2,271.5 L330.0,267.5 L330.7,263.9 L331.5,260.9 L332.3,258.9 L333.1,258.2 L333.9,258.7 L334.7,260.0 L335.5,261.8 L336.2,264.0 L337.0,266.3 L337.8,268.6 L338.6,270.5 L339.4,272.3 L340.2,274.1 L340.9,275.9 L341.7,277.7 L342.5,279.5 L343.3,281.0 L344.1,282.3 L344.9,283.3 L345.7,284.3 L346.4,285.2 L347.2,286.0 L348.0,286.7 L348.8,287.5 L349.6,288.3 L350.4,289.1 L351.2,290.0 L351.9,290.8 L352.7,291.6 L353.5,292.5 L354.3,293.3 L355.1,294.2 L355.9,295.1 L356.6,296.0 L357.4,297.0 L358.2,298.0 L359.0,299.1 L359.8,300.2 L360.6,301.4 L361.4,302.5 L362.1,303.6 L362.9,304.7 L363.7,305.9 L364.5,307.0 L365.3,308.1 L366.1,309.3 L366.9,310.4 L367.6,311.5 L368.4,312.6 L369.2,313.6 L370.0,314.6 L370.8,315.5 L371.6,316.4 L372.4,317.3 L373.1,318.2 L373.9,319.0 L374.7,319.9 L375.5,320.7 L376.3,321.5 L377.1,322.2 L377.8,322.9 L378.6,323.5 L379.4,324.0 L380.2,324.5 L381.0,325.0 L381.8,325.4 L382.6,325.9 L383.3,326.3 L384.1,326.8 L384.9,327.2 L385.7,327.7 L386.5,328.1 L387.3,328.4 L388.1,328.8 L388.8,329.1 L389.6,329.3 L390.4,329.5 L391.2,329.6 L392.0,329.8 L392.8,329.9 L393.5,329.9 L394.3,329.9 L395.1,329.9 L395.9,329.7 L396.7,329.5 L397.5,329.2 L398.3,328.8 L399.0,328.2 L399.8,327.6 L400.6,326.8 L401.4,325.9 L402.2,325.0 L403.0,323.9 L403.8,322.7 L404.5,321.4 L405.3,320.0 L406.1,318.4 L406.9,316.8 L407.7,315.0 L408.5,313.2 L409.2,311.2 L410.0,309.2 L410.8,307.0 L411.6,304.8 L412.4,302.5 L413.2,300.1 L414.0,297.7 L414.7,295.3 L415.5,292.9 L416.3,290.6 L417.1,288.2 L417.9,285.9 L418.7,283.6 L419.5,281.3 L420.2,279.2 L421.0,277.1 L421.8,275.2 L422.6,273.3 L423.4,271.6 L424.2,270.0 L424.9,268.5 L425.7,267.2 L426.5,266.1 L427.3,265.1 L428.1,264.3 L428.9,263.7 L429.7,263.2 L430.4,263.0 L431.2,262.9 L432.0,263.0 L432.8,263.1 L433.6,263.3 L434.4,263.6 L435.1,263.9 L435.9,264.2 L436.7,264.6 L437.5,265.0 L438.3,265.4 L439.1,265.8 L439.9,266.3 L440.6,266.9 L441.4,267.6 L442.2,268.3 L443.0,269.1 L443.8,270.0 L444.6,270.9 L445.4,271.9 L446.1,272.8 L446.9,273.8 L447.7,274.8 L448.5,275.8 L449.3,276.9 L450.1,278.1 L450.9,279.3 L451.6,280.5 L452.4,281.7 L453.2,283.0 L454.0,284.2 L454.8,285.5 L455.6,286.7 L456.3,288.0 L457.1,289.3 L457.9,290.6 L458.7,292.0 L459.5,293.3 L460.3,294.7 L461.1,296.1 L461.8,297.4 L462.6,298.7 L463.4,300.0 L464.2,301.3 L465.0,302.6 L465.8,303.8 L466.6,305.1 L467.3,306.3 L468.1,307.6 L468.9,308.8 L469.7,310.0 L470.5,311.1 L471.3,312.3 L472.0,313.4 L472.8,314.5 L473.6,315.6 L474.4,316.7 L475.2,317.8 L476.0,318.9 L476.8,319.9 L477.5,320.9 L478.3,321.9 L479.1,322.8 L479.9,323.7 L480.7,324.5 L481.5,325.4 L482.2,326.2 L483.0,327.0 L483.8,327.8 L484.6,328.5 L485.4,329.3 L486.2,330.0 L487.0,330.6 L487.7,331.3 L488.5,331.9 L489.3,332.5 L490.1,333.1 L490.9,333.6 L491.7,334.2 L492.5,334.7 L493.2,335.1 L494.0,335.6 L494.8,336.1 L495.6,336.5 L496.4,337.0 L497.2,337.4 L498.0,337.9 L498.7,338.4 L499.5,338.9 L500.3,339.3 L501.1,339.8 L501.9,340.3 L502.7,340.7 L503.4,341.2 L504.2,341.6 L505.0,342.1 L505.8,342.5 L506.6,342.9 L507.4,343.3 L508.2,343.6 L508.9,344.0 L509.7,344.4 L510.5,344.7 L511.3,345.1 L512.1,345.4 L512.9,345.7 L513.6,346.0 L514.4,346.3 L515.2,346.6 L516.0,346.9 L516.8,347.2 L517.6,347.5 L518.4,347.7 L519.1,348.0 L519.9,348.2 L520.7,348.5 L521.5,348.7 L522.3,349.0 L523.1,349.2 L523.9,349.4 L524.6,349.6 L525.4,349.8 L526.2,350.0 L527.0,350.2 L527.8,350.4 L528.6,350.6 L529.4,350.8 L530.1,350.9 L530.9,351.1 L531.7,351.3 L532.5,351.4 L533.3,351.6 L534.1,351.8 L534.8,351.9 L535.6,352.1 L536.4,352.2 L537.2,352.4 L538.0,352.5 L538.8,352.7 L539.6,352.8 L540.3,352.9 L541.1,353.1 L541.9,353.2 L542.7,353.3 L543.5,353.4 L544.3,353.5 L545.0,353.6" fill="none" stroke="url(#sg4)" stroke-width="2.9" stroke-linejoin="round"/>
<path d="M286.0,356.3 L286.8,356.3 L287.6,356.3 L288.4,356.3 L289.1,356.3 L289.9,356.3 L290.7,356.3 L291.5,356.3 L292.3,356.3 L293.1,356.3 L293.9,356.3 L294.6,356.3 L295.4,356.3 L296.2,356.3 L297.0,356.3 L297.8,356.3 L298.6,356.3 L299.3,356.3 L300.1,356.3 L300.9,356.3 L301.7,356.3 L302.5,356.3 L303.3,356.3 L304.1,356.3 L304.8,356.3 L305.6,356.3 L306.4,356.3 L307.2,356.3 L308.0,356.3 L308.8,356.3 L309.6,356.3 L310.3,356.2 L311.1,356.2 L311.9,356.2 L312.7,356.1 L313.5,356.0 L314.3,355.9 L315.0,355.8 L315.8,355.1 L316.6,353.5 L317.4,351.3 L318.2,348.7 L319.0,345.9 L319.8,343.0 L320.5,340.1 L321.3,337.5 L322.1,335.0 L322.9,332.3 L323.7,329.5 L324.5,326.7 L325.2,324.0 L326.0,321.4 L326.8,319.1 L327.6,316.8 L328.4,314.5 L329.2,312.1 L330.0,309.9 L330.7,308.0 L331.5,306.4 L332.3,305.4 L333.1,305.0 L333.9,305.2 L334.7,305.9 L335.5,306.9 L336.2,308.1 L337.0,309.3 L337.8,310.5 L338.6,311.6 L339.4,312.5 L340.2,313.4 L340.9,314.3 L341.7,315.2 L342.5,316.0 L343.3,316.8 L344.1,317.4 L344.9,317.9 L345.7,318.4 L346.4,318.8 L347.2,319.2 L348.0,319.6 L348.8,319.9 L349.6,320.3 L350.4,320.7 L351.2,321.1 L351.9,321.5 L352.7,321.9 L353.5,322.2 L354.3,322.6 L355.1,323.0 L355.9,323.4 L356.6,323.9 L357.4,324.4 L358.2,324.8 L359.0,325.4 L359.8,325.9 L360.6,326.5 L361.4,327.0 L362.1,327.6 L362.9,328.1 L363.7,328.7 L364.5,329.2 L365.3,329.8 L366.1,330.4 L366.9,331.0 L367.6,331.5 L368.4,332.1 L369.2,332.6 L370.0,333.1 L370.8,333.6 L371.6,334.0 L372.4,334.5 L373.1,334.9 L373.9,335.3 L374.7,335.8 L375.5,336.2 L376.3,336.5 L377.1,336.9 L377.8,337.2 L378.6,337.5 L379.4,337.7 L380.2,337.9 L381.0,338.0 L381.8,338.2 L382.6,338.4 L383.3,338.5 L384.1,338.6 L384.9,338.8 L385.7,338.9 L386.5,339.0 L387.3,339.0 L388.1,339.0 L388.8,339.0 L389.6,338.9 L390.4,338.7 L391.2,338.6 L392.0,338.4 L392.8,338.1 L393.5,337.8 L394.3,337.5 L395.1,337.1 L395.9,336.6 L396.7,336.0 L397.5,335.4 L398.3,334.6 L399.0,333.7 L399.8,332.8 L400.6,331.7 L401.4,330.5 L402.2,329.3 L403.0,327.9 L403.8,326.4 L404.5,324.8 L405.3,323.2 L406.1,321.4 L406.9,319.5 L407.7,317.5 L408.5,315.4 L409.2,313.3 L410.0,311.0 L410.8,308.7 L411.6,306.4 L412.4,303.9 L413.2,301.5 L414.0,299.0 L414.7,296.5 L415.5,294.0 L416.3,291.5 L417.1,289.1 L417.9,286.7 L418.7,284.3 L419.5,282.0 L420.2,279.8 L421.0,277.7 L421.8,275.6 L422.6,273.7 L423.4,271.9 L424.2,270.3 L424.9,268.8 L425.7,267.4 L426.5,266.3 L427.3,265.2 L428.1,264.4 L428.9,263.7 L429.7,263.3 L430.4,263.0 L431.2,262.9 L432.0,262.9 L432.8,263.1 L433.6,263.3 L434.4,263.5 L435.1,263.8 L435.9,264.1 L436.7,264.5 L437.5,264.9 L438.3,265.3 L439.1,265.7 L439.9,266.2 L440.6,266.8 L441.4,267.5 L442.2,268.2 L443.0,269.0 L443.8,269.9 L444.6,270.8 L445.4,271.8 L446.1,272.7 L446.9,273.7 L447.7,274.7 L448.5,275.7 L449.3,276.8 L450.1,278.0 L450.9,279.2 L451.6,280.4 L452.4,281.6 L453.2,282.9 L454.0,284.1 L454.8,285.4 L455.6,286.6 L456.3,287.9 L457.1,289.2 L457.9,290.6 L458.7,291.9 L459.5,293.3 L460.3,294.6 L461.1,296.0 L461.8,297.3 L462.6,298.7 L463.4,300.0 L464.2,301.3 L465.0,302.5 L465.8,303.8 L466.6,305.0 L467.3,306.3 L468.1,307.5 L468.9,308.7 L469.7,309.9 L470.5,311.1 L471.3,312.3 L472.0,313.4 L472.8,314.5 L473.6,315.6 L474.4,316.7 L475.2,317.8 L476.0,318.8 L476.8,319.9 L477.5,320.9 L478.3,321.9 L479.1,322.8 L479.9,323.7 L480.7,324.5 L481.5,325.4 L482.2,326.2 L483.0,327.0 L483.8,327.8 L484.6,328.5 L485.4,329.3 L486.2,330.0 L487.0,330.7 L487.7,331.3 L488.5,332.0 L489.3,332.6 L490.1,333.1 L490.9,333.7 L491.7,334.2 L492.5,334.7 L493.2,335.2 L494.0,335.6 L494.8,336.1 L495.6,336.5 L496.4,337.0 L497.2,337.5 L498.0,337.9 L498.7,338.4 L499.5,338.9 L500.3,339.4 L501.1,339.8 L501.9,340.3 L502.7,340.8 L503.4,341.2 L504.2,341.7 L505.0,342.1 L505.8,342.5 L506.6,342.9 L507.4,343.3 L508.2,343.7 L508.9,344.0 L509.7,344.4 L510.5,344.8 L511.3,345.1 L512.1,345.4 L512.9,345.8 L513.6,346.1 L514.4,346.4 L515.2,346.7 L516.0,347.0 L516.8,347.2 L517.6,347.5 L518.4,347.8 L519.1,348.0 L519.9,348.3 L520.7,348.5 L521.5,348.7 L522.3,349.0 L523.1,349.2 L523.9,349.4 L524.6,349.6 L525.4,349.8 L526.2,350.0 L527.0,350.2 L527.8,350.4 L528.6,350.6 L529.4,350.8 L530.1,351.0 L530.9,351.1 L531.7,351.3 L532.5,351.5 L533.3,351.6 L534.1,351.8 L534.8,351.9 L535.6,352.1 L536.4,352.2 L537.2,352.4 L538.0,352.5 L538.8,352.7 L539.6,352.8 L540.3,352.9 L541.1,353.1 L541.9,353.2 L542.7,353.3 L543.5,353.4 L544.3,353.5 L545.0,353.6" fill="none" stroke="url(#sg5)" stroke-width="2.9" stroke-linejoin="round"/>
<path d="M286.0,356.4 L286.8,356.4 L287.6,356.4 L288.4,356.4 L289.1,356.4 L289.9,356.4 L290.7,356.4 L291.5,356.4 L292.3,356.4 L293.1,356.4 L293.9,356.4 L294.6,356.4 L295.4,356.4 L296.2,356.4 L297.0,356.4 L297.8,356.4 L298.6,356.4 L299.3,356.4 L300.1,356.4 L300.9,356.4 L301.7,356.4 L302.5,356.4 L303.3,356.4 L304.1,356.4 L304.8,356.4 L305.6,356.4 L306.4,356.4 L307.2,356.4 L308.0,356.4 L308.8,356.4 L309.6,356.4 L310.3,356.4 L311.1,356.4 L311.9,356.4 L312.7,356.4 L313.5,356.4 L314.3,356.4 L315.0,356.4 L315.8,356.2 L316.6,355.6 L317.4,354.6 L318.2,353.5 L319.0,352.2 L319.8,350.8 L320.5,349.5 L321.3,348.3 L322.1,347.2 L322.9,345.9 L323.7,344.6 L324.5,343.3 L325.2,342.1 L326.0,340.9 L326.8,339.8 L327.6,338.8 L328.4,337.7 L329.2,336.7 L330.0,335.6 L330.7,334.8 L331.5,334.0 L332.3,333.6 L333.1,333.4 L333.9,333.5 L334.7,333.8 L335.5,334.3 L336.2,334.8 L337.0,335.4 L337.8,335.9 L338.6,336.4 L339.4,336.8 L340.2,337.2 L340.9,337.6 L341.7,338.0 L342.5,338.3 L343.3,338.7 L344.1,338.9 L344.9,339.1 L345.7,339.3 L346.4,339.5 L347.2,339.7 L348.0,339.8 L348.8,340.0 L349.6,340.1 L350.4,340.3 L351.2,340.5 L351.9,340.6 L352.7,340.8 L353.5,340.9 L354.3,341.1 L355.1,341.3 L355.9,341.4 L356.6,341.6 L357.4,341.8 L358.2,342.1 L359.0,342.3 L359.8,342.5 L360.6,342.8 L361.4,343.1 L362.1,343.3 L362.9,343.6 L363.7,343.9 L364.5,344.1 L365.3,344.4 L366.1,344.7 L366.9,345.1 L367.6,345.4 L368.4,345.7 L369.2,346.0 L370.0,346.3 L370.8,346.5 L371.6,346.8 L372.4,347.1 L373.1,347.4 L373.9,347.6 L374.7,347.9 L375.5,348.2 L376.3,348.4 L377.1,348.6 L377.8,348.8 L378.6,349.0 L379.4,349.1 L380.2,349.2 L381.0,349.3 L381.8,349.3 L382.6,349.4 L383.3,349.4 L384.1,349.4 L384.9,349.3 L385.7,349.2 L386.5,349.1 L387.3,348.9 L388.1,348.7 L388.8,348.4 L389.6,348.0 L390.4,347.6 L391.2,347.1 L392.0,346.6 L392.8,346.0 L393.5,345.4 L394.3,344.6 L395.1,343.8 L395.9,343.0 L396.7,342.0 L397.5,341.0 L398.3,339.8 L399.0,338.6 L399.8,337.3 L400.6,335.9 L401.4,334.4 L402.2,332.8 L403.0,331.1 L403.8,329.3 L404.5,327.5 L405.3,325.5 L406.1,323.5 L406.9,321.4 L407.7,319.2 L408.5,316.9 L409.2,314.6 L410.0,312.2 L410.8,309.7 L411.6,307.3 L412.4,304.7 L413.2,302.2 L414.0,299.6 L414.7,297.1 L415.5,294.5 L416.3,292.0 L417.1,289.5 L417.9,287.0 L418.7,284.6 L419.5,282.3 L420.2,280.0 L421.0,277.9 L421.8,275.8 L422.6,273.9 L423.4,272.1 L424.2,270.4 L424.9,268.9 L425.7,267.5 L426.5,266.3 L427.3,265.3 L428.1,264.4 L428.9,263.8 L429.7,263.3 L430.4,263.0 L431.2,262.9 L432.0,262.9 L432.8,263.1 L433.6,263.2 L434.4,263.5 L435.1,263.8 L435.9,264.1 L436.7,264.5 L437.5,264.9 L438.3,265.3 L439.1,265.7 L439.9,266.2 L440.6,266.8 L441.4,267.4 L442.2,268.2 L443.0,269.0 L443.8,269.9 L444.6,270.8 L445.4,271.7 L446.1,272.7 L446.9,273.7 L447.7,274.6 L448.5,275.7 L449.3,276.8 L450.1,277.9 L450.9,279.1 L451.6,280.3 L452.4,281.6 L453.2,282.8 L454.0,284.1 L454.8,285.3 L455.6,286.6 L456.3,287.9 L457.1,289.2 L457.9,290.5 L458.7,291.9 L459.5,293.2 L460.3,294.6 L461.1,296.0 L461.8,297.3 L462.6,298.6 L463.4,300.0 L464.2,301.2 L465.0,302.5 L465.8,303.8 L466.6,305.0 L467.3,306.3 L468.1,307.5 L468.9,308.7 L469.7,309.9 L470.5,311.1 L471.3,312.3 L472.0,313.4 L472.8,314.5 L473.6,315.6 L474.4,316.7 L475.2,317.8 L476.0,318.8 L476.8,319.9 L477.5,320.9 L478.3,321.9 L479.1,322.8 L479.9,323.7 L480.7,324.5 L481.5,325.4 L482.2,326.2 L483.0,327.0 L483.8,327.8 L484.6,328.5 L485.4,329.3 L486.2,330.0 L487.0,330.7 L487.7,331.3 L488.5,332.0 L489.3,332.6 L490.1,333.1 L490.9,333.7 L491.7,334.2 L492.5,334.7 L493.2,335.2 L494.0,335.6 L494.8,336.1 L495.6,336.5 L496.4,337.0 L497.2,337.5 L498.0,337.9 L498.7,338.4 L499.5,338.9 L500.3,339.4 L501.1,339.8 L501.9,340.3 L502.7,340.8 L503.4,341.2 L504.2,341.7 L505.0,342.1 L505.8,342.5 L506.6,342.9 L507.4,343.3 L508.2,343.7 L508.9,344.0 L509.7,344.4 L510.5,344.8 L511.3,345.1 L512.1,345.4 L512.9,345.8 L513.6,346.1 L514.4,346.4 L515.2,346.7 L516.0,347.0 L516.8,347.3 L517.6,347.5 L518.4,347.8 L519.1,348.0 L519.9,348.3 L520.7,348.5 L521.5,348.8 L522.3,349.0 L523.1,349.2 L523.9,349.4 L524.6,349.6 L525.4,349.8 L526.2,350.0 L527.0,350.2 L527.8,350.4 L528.6,350.6 L529.4,350.8 L530.1,351.0 L530.9,351.1 L531.7,351.3 L532.5,351.5 L533.3,351.6 L534.1,351.8 L534.8,351.9 L535.6,352.1 L536.4,352.2 L537.2,352.4 L538.0,352.5 L538.8,352.7 L539.6,352.8 L540.3,352.9 L541.1,353.1 L541.9,353.2 L542.7,353.3 L543.5,353.4 L544.3,353.5 L545.0,353.6" fill="none" stroke="url(#sg6)" stroke-width="2.9" stroke-linejoin="round"/>
<path d="M286.0,352.0 L286.8,351.9 L287.6,351.9 L288.4,351.9 L289.1,351.8 L289.9,351.8 L290.7,351.7 L291.5,351.7 L292.3,351.6 L293.1,351.5 L293.9,351.5 L294.6,351.4 L295.4,351.3 L296.2,351.3 L297.0,351.1 L297.8,351.0 L298.6,350.7 L299.3,350.5 L300.1,350.1 L300.9,349.7 L301.7,349.2 L302.5,348.7 L303.3,348.1 L304.1,347.1 L304.8,345.1 L305.6,342.4 L306.4,339.0 L307.2,334.9 L308.0,330.3 L308.8,325.3 L309.6,317.4 L310.3,306.1 L311.1,292.9 L311.9,279.2 L312.7,266.8 L313.5,256.4 L314.3,246.6 L315.0,237.2 L315.8,228.3 L316.6,219.6 L317.4,211.2 L318.2,203.0 L319.0,195.1 L319.8,187.3 L320.5,179.5 L321.3,171.8 L322.1,164.0 L322.9,156.1 L323.7,147.8 L324.5,139.2 L325.2,130.5 L326.0,122.1 L326.8,114.2 L327.6,107.2 L328.4,100.4 L329.2,93.5 L330.0,87.0 L330.7,81.1 L331.5,76.4 L332.3,73.3 L333.1,72.2 L333.9,73.3 L334.7,76.2 L335.5,80.7 L336.2,86.1 L337.0,92.1 L337.8,98.3 L338.6,104.1 L339.4,109.5 L340.2,115.5 L340.9,121.9 L341.7,128.4 L342.5,134.8 L343.3,140.6 L344.1,145.5 L344.9,149.6 L345.7,153.4 L346.4,156.8 L347.2,160.0 L348.0,163.2 L348.8,166.3 L349.6,169.6 L350.4,173.1 L351.2,176.7 L351.9,180.2 L352.7,183.8 L353.5,187.4 L354.3,191.1 L355.1,194.8 L355.9,198.5 L356.6,202.3 L357.4,206.3 L358.2,210.4 L359.0,214.6 L359.8,218.8 L360.6,223.0 L361.4,227.1 L362.1,231.0 L362.9,234.7 L363.7,238.2 L364.5,241.6 L365.3,245.0 L366.1,248.3 L366.9,251.4 L367.6,254.4 L368.4,257.3 L369.2,259.9 L370.0,262.4 L370.8,264.6 L371.6,266.7 L372.4,268.7 L373.1,270.7 L373.9,272.5 L374.7,274.2 L375.5,275.9 L376.3,277.4 L377.1,278.8 L377.8,280.1 L378.6,281.2 L379.4,282.3 L380.2,283.2 L381.0,284.1 L381.8,284.9 L382.6,285.7 L383.3,286.4 L384.1,287.1 L384.9,287.8 L385.7,288.5 L386.5,289.2 L387.3,289.8 L388.1,290.4 L388.8,291.0 L389.6,291.6 L390.4,292.1 L391.2,292.6 L392.0,293.1 L392.8,293.6 L393.5,294.0 L394.3,294.3 L395.1,294.5 L395.9,294.6 L396.7,294.7 L397.5,294.6 L398.3,294.5 L399.0,294.2 L399.8,293.9 L400.6,293.4 L401.4,292.8 L402.2,292.2 L403.0,291.5 L403.8,290.7 L404.5,289.8 L405.3,288.9 L406.1,287.9 L406.9,286.8 L407.7,285.6 L408.5,284.4 L409.2,283.1 L410.0,281.6 L410.8,280.2 L411.6,278.6 L412.4,277.0 L413.2,275.3 L414.0,273.7 L414.7,272.1 L415.5,270.6 L416.3,269.2 L417.1,267.9 L417.9,266.7 L418.7,265.6 L419.5,264.7 L420.2,264.0 L421.0,263.5 L421.8,263.1 L422.6,262.9 L423.4,262.9 L424.2,263.1 L424.9,263.5 L425.7,264.0 L426.5,264.6 L427.3,265.1 L428.1,265.7 L428.9,266.3 L429.7,266.9 L430.4,267.5 L431.2,268.1 L432.0,268.7 L432.8,269.2 L433.6,269.7 L434.4,270.2 L435.1,270.8 L435.9,271.3 L436.7,272.0 L437.5,272.7 L438.3,273.5 L439.1,274.2 L439.9,275.0 L440.6,275.9 L441.4,276.7 L442.2,277.5 L443.0,278.4 L443.8,279.3 L444.6,280.2 L445.4,281.2 L446.1,282.1 L446.9,283.2 L447.7,284.2 L448.5,285.3 L449.3,286.3 L450.1,287.4 L450.9,288.4 L451.6,289.5 L452.4,290.6 L453.2,291.7 L454.0,292.8 L454.8,293.9 L455.6,295.0 L456.3,296.2 L457.1,297.3 L457.9,298.4 L458.7,299.6 L459.5,300.7 L460.3,301.8 L461.1,302.9 L461.8,304.0 L462.6,305.0 L463.4,306.1 L464.2,307.1 L465.0,308.2 L465.8,309.2 L466.6,310.2 L467.3,311.3 L468.1,312.3 L468.9,313.2 L469.7,314.2 L470.5,315.2 L471.3,316.1 L472.0,317.0 L472.8,317.9 L473.6,318.8 L474.4,319.7 L475.2,320.6 L476.0,321.5 L476.8,322.3 L477.5,323.1 L478.3,323.9 L479.1,324.6 L479.9,325.4 L480.7,326.1 L481.5,326.8 L482.2,327.5 L483.0,328.1 L483.8,328.8 L484.6,329.4 L485.4,330.0 L486.2,330.6 L487.0,331.2 L487.7,331.8 L488.5,332.3 L489.3,332.9 L490.1,333.4 L490.9,333.8 L491.7,334.3 L492.5,334.7 L493.2,335.2 L494.0,335.6 L494.8,336.0 L495.6,336.4 L496.4,336.8 L497.2,337.1 L498.0,337.5 L498.7,337.9 L499.5,338.3 L500.3,338.7 L501.1,339.1 L501.9,339.5 L502.7,339.9 L503.4,340.3 L504.2,340.7 L505.0,341.1 L505.8,341.5 L506.6,341.9 L507.4,342.2 L508.2,342.6 L508.9,343.0 L509.7,343.3 L510.5,343.6 L511.3,343.9 L512.1,344.2 L512.9,344.6 L513.6,344.9 L514.4,345.2 L515.2,345.4 L516.0,345.7 L516.8,346.0 L517.6,346.3 L518.4,346.5 L519.1,346.8 L519.9,347.1 L520.7,347.3 L521.5,347.5 L522.3,347.8 L523.1,348.0 L523.9,348.2 L524.6,348.4 L525.4,348.7 L526.2,348.9 L527.0,349.1 L527.8,349.3 L528.6,349.5 L529.4,349.7 L530.1,349.9 L530.9,350.1 L531.7,350.2 L532.5,350.4 L533.3,350.6 L534.1,350.8 L534.8,351.0 L535.6,351.1 L536.4,351.3 L537.2,351.4 L538.0,351.6 L538.8,351.8 L539.6,351.9 L540.3,352.1 L541.1,352.3 L541.9,352.4 L542.7,352.6 L543.5,352.7 L544.3,352.9 L545.0,353.0" fill="none" stroke="#36c4e2" stroke-width="3.0" stroke-linejoin="round"/>
<path d="M286.0,351.8 L286.8,351.7 L287.6,351.7 L288.4,351.7 L289.1,351.7 L289.9,351.6 L290.7,351.6 L291.5,351.5 L292.3,351.5 L293.1,351.5 L293.9,351.4 L294.6,351.4 L295.4,351.3 L296.2,351.2 L297.0,351.2 L297.8,351.1 L298.6,351.0 L299.3,350.9 L300.1,350.8 L300.9,350.7 L301.7,350.6 L302.5,350.4 L303.3,350.2 L304.1,349.8 L304.8,349.3 L305.6,348.8 L306.4,348.1 L307.2,347.4 L308.0,346.3 L308.8,344.0 L309.6,340.4 L310.3,335.7 L311.1,330.2 L311.9,324.0 L312.7,315.4 L313.5,301.6 L314.3,285.0 L315.0,268.2 L315.8,253.8 L316.6,241.7 L317.4,230.3 L318.2,219.5 L319.0,209.0 L319.8,198.9 L320.5,189.2 L321.3,179.9 L322.1,170.7 L322.9,161.5 L323.7,152.2 L324.5,142.7 L325.2,132.6 L326.0,122.0 L326.8,111.6 L327.6,101.9 L328.4,93.5 L329.2,85.3 L330.0,77.1 L330.7,69.4 L331.5,63.1 L332.3,58.8 L333.1,57.2 L333.9,58.3 L334.7,61.4 L335.5,66.0 L336.2,71.7 L337.0,77.9 L337.8,84.4 L338.6,90.5 L339.4,96.3 L340.2,102.6 L340.9,109.4 L341.7,116.4 L342.5,123.2 L343.3,129.4 L344.1,134.7 L344.9,139.1 L345.7,143.1 L346.4,146.8 L347.2,150.3 L348.0,153.7 L348.8,157.1 L349.6,160.6 L350.4,164.4 L351.2,168.3 L351.9,172.1 L352.7,176.0 L353.5,179.9 L354.3,183.9 L355.1,187.9 L355.9,191.9 L356.6,196.0 L357.4,200.3 L358.2,204.8 L359.0,209.3 L359.8,213.9 L360.6,218.4 L361.4,222.9 L362.1,227.1 L362.9,231.1 L363.7,234.9 L364.5,238.6 L365.3,242.3 L366.1,245.8 L366.9,249.3 L367.6,252.6 L368.4,255.7 L369.2,258.7 L370.0,261.4 L370.8,263.9 L371.6,266.3 L372.4,268.6 L373.1,270.8 L373.9,272.9 L374.7,275.0 L375.5,276.9 L376.3,278.6 L377.1,280.3 L377.8,281.8 L378.6,283.3 L379.4,284.5 L380.2,285.7 L381.0,286.8 L381.8,287.8 L382.6,288.7 L383.3,289.6 L384.1,290.4 L384.9,291.2 L385.7,291.9 L386.5,292.5 L387.3,293.1 L388.1,293.7 L388.8,294.2 L389.6,294.6 L390.4,295.0 L391.2,295.3 L392.0,295.7 L392.8,295.9 L393.5,296.0 L394.3,296.1 L395.1,296.0 L395.9,295.9 L396.7,295.6 L397.5,295.3 L398.3,294.8 L399.0,294.3 L399.8,293.7 L400.6,292.9 L401.4,292.1 L402.2,291.3 L403.0,290.3 L403.8,289.4 L404.5,288.4 L405.3,287.3 L406.1,286.2 L406.9,285.0 L407.7,283.8 L408.5,282.5 L409.2,281.2 L410.0,279.8 L410.8,278.3 L411.6,276.8 L412.4,275.3 L413.2,273.7 L414.0,272.1 L414.7,270.6 L415.5,269.2 L416.3,267.9 L417.1,266.7 L417.9,265.7 L418.7,264.8 L419.5,264.1 L420.2,263.5 L421.0,263.1 L421.8,262.9 L422.6,262.9 L423.4,263.1 L424.2,263.4 L424.9,264.0 L425.7,264.6 L426.5,265.2 L427.3,265.8 L428.1,266.5 L428.9,267.1 L429.7,267.7 L430.4,268.4 L431.2,269.0 L432.0,269.6 L432.8,270.2 L433.6,270.7 L434.4,271.2 L435.1,271.8 L435.9,272.5 L436.7,273.1 L437.5,273.9 L438.3,274.6 L439.1,275.4 L439.9,276.2 L440.6,277.1 L441.4,277.9 L442.2,278.7 L443.0,279.6 L443.8,280.5 L444.6,281.4 L445.4,282.4 L446.1,283.4 L446.9,284.4 L447.7,285.4 L448.5,286.5 L449.3,287.5 L450.1,288.6 L450.9,289.6 L451.6,290.7 L452.4,291.8 L453.2,292.8 L454.0,294.0 L454.8,295.1 L455.6,296.2 L456.3,297.3 L457.1,298.5 L457.9,299.6 L458.7,300.7 L459.5,301.8 L460.3,302.9 L461.1,304.0 L461.8,305.0 L462.6,306.0 L463.4,307.1 L464.2,308.1 L465.0,309.2 L465.8,310.2 L466.6,311.2 L467.3,312.2 L468.1,313.2 L468.9,314.1 L469.7,315.1 L470.5,316.0 L471.3,316.9 L472.0,317.8 L472.8,318.7 L473.6,319.6 L474.4,320.5 L475.2,321.3 L476.0,322.2 L476.8,323.0 L477.5,323.8 L478.3,324.5 L479.1,325.3 L479.9,326.0 L480.7,326.7 L481.5,327.4 L482.2,328.0 L483.0,328.7 L483.8,329.3 L484.6,329.9 L485.4,330.5 L486.2,331.1 L487.0,331.7 L487.7,332.2 L488.5,332.8 L489.3,333.3 L490.1,333.8 L490.9,334.2 L491.7,334.7 L492.5,335.1 L493.2,335.5 L494.0,335.9 L494.8,336.3 L495.6,336.7 L496.4,337.1 L497.2,337.5 L498.0,337.9 L498.7,338.2 L499.5,338.6 L500.3,339.0 L501.1,339.4 L501.9,339.8 L502.7,340.2 L503.4,340.6 L504.2,341.0 L505.0,341.4 L505.8,341.8 L506.6,342.1 L507.4,342.5 L508.2,342.9 L508.9,343.2 L509.7,343.5 L510.5,343.8 L511.3,344.1 L512.1,344.5 L512.9,344.8 L513.6,345.1 L514.4,345.3 L515.2,345.6 L516.0,345.9 L516.8,346.2 L517.6,346.5 L518.4,346.7 L519.1,347.0 L519.9,347.2 L520.7,347.5 L521.5,347.7 L522.3,347.9 L523.1,348.1 L523.9,348.4 L524.6,348.6 L525.4,348.8 L526.2,349.0 L527.0,349.2 L527.8,349.4 L528.6,349.6 L529.4,349.8 L530.1,350.0 L530.9,350.2 L531.7,350.4 L532.5,350.5 L533.3,350.7 L534.1,350.9 L534.8,351.1 L535.6,351.2 L536.4,351.4 L537.2,351.6 L538.0,351.7 L538.8,351.9 L539.6,352.0 L540.3,352.2 L541.1,352.4 L541.9,352.5 L542.7,352.7 L543.5,352.8 L544.3,353.0 L545.0,353.1" fill="none" stroke="#3cb2ea" stroke-width="3.0" stroke-linejoin="round"/>
<path d="M286.0,351.7 L286.8,351.6 L287.6,351.5 L288.4,351.5 L289.1,351.4 L289.9,351.4 L290.7,351.4 L291.5,351.3 L292.3,351.3 L293.1,351.2 L293.9,351.2 L294.6,351.2 L295.4,351.1 L296.2,351.1 L297.0,351.0 L297.8,351.0 L298.6,350.9 L299.3,350.8 L300.1,350.8 L300.9,350.7 L301.7,350.6 L302.5,350.5 L303.3,350.4 L304.1,350.3 L304.8,350.2 L305.6,350.1 L306.4,349.9 L307.2,349.6 L308.0,349.1 L308.8,348.6 L309.6,347.9 L310.3,347.0 L311.1,346.0 L311.9,343.8 L312.7,339.6 L313.5,333.8 L314.3,326.7 L315.0,318.5 L315.8,305.2 L316.6,285.5 L317.4,264.2 L318.2,245.8 L319.0,231.0 L319.8,217.4 L320.5,204.5 L321.3,192.1 L322.1,180.2 L322.9,168.9 L323.7,157.9 L324.5,147.0 L325.2,135.9 L326.0,124.1 L326.8,111.3 L327.6,98.5 L328.4,86.7 L329.2,76.7 L330.0,66.8 L330.7,57.0 L331.5,48.6 L332.3,42.6 L333.1,40.4 L333.9,41.5 L334.7,44.7 L335.5,49.5 L336.2,55.4 L337.0,62.0 L337.8,68.8 L338.6,75.3 L339.4,81.3 L340.2,88.1 L340.9,95.4 L341.7,102.9 L342.5,110.2 L343.3,116.8 L344.1,122.5 L344.9,127.3 L345.7,131.6 L346.4,135.6 L347.2,139.4 L348.0,143.0 L348.8,146.7 L349.6,150.5 L350.4,154.6 L351.2,158.8 L351.9,163.0 L352.7,167.2 L353.5,171.4 L354.3,175.7 L355.1,180.0 L355.9,184.4 L356.6,188.9 L357.4,193.5 L358.2,198.4 L359.0,203.3 L359.8,208.3 L360.6,213.2 L361.4,218.0 L362.1,222.5 L362.9,226.8 L363.7,230.9 L364.5,235.0 L365.3,239.0 L366.1,242.8 L366.9,246.6 L367.6,250.2 L368.4,253.6 L369.2,256.9 L370.0,259.9 L370.8,262.7 L371.6,265.4 L372.4,267.9 L373.1,270.4 L373.9,272.8 L374.7,275.1 L375.5,277.3 L376.3,279.3 L377.1,281.2 L377.8,283.0 L378.6,284.6 L379.4,286.1 L380.2,287.5 L381.0,288.8 L381.8,290.0 L382.6,291.0 L383.3,292.0 L384.1,292.9 L384.9,293.7 L385.7,294.4 L386.5,295.1 L387.3,295.6 L388.1,296.1 L388.8,296.5 L389.6,296.9 L390.4,297.1 L391.2,297.3 L392.0,297.5 L392.8,297.5 L393.5,297.4 L394.3,297.2 L395.1,296.9 L395.9,296.5 L396.7,296.0 L397.5,295.4 L398.3,294.6 L399.0,293.8 L399.8,293.0 L400.6,292.0 L401.4,291.0 L402.2,289.9 L403.0,288.8 L403.8,287.7 L404.5,286.6 L405.3,285.4 L406.1,284.2 L406.9,283.0 L407.7,281.8 L408.5,280.5 L409.2,279.2 L410.0,277.8 L410.8,276.4 L411.6,275.0 L412.4,273.5 L413.2,272.0 L414.0,270.5 L414.7,269.1 L415.5,267.9 L416.3,266.7 L417.1,265.7 L417.9,264.8 L418.7,264.1 L419.5,263.5 L420.2,263.1 L421.0,262.9 L421.8,262.9 L422.6,263.1 L423.4,263.4 L424.2,263.9 L424.9,264.6 L425.7,265.2 L426.5,265.9 L427.3,266.6 L428.1,267.3 L428.9,268.0 L429.7,268.7 L430.4,269.4 L431.2,270.1 L432.0,270.7 L432.8,271.3 L433.6,271.8 L434.4,272.4 L435.1,273.1 L435.9,273.7 L436.7,274.4 L437.5,275.2 L438.3,275.9 L439.1,276.7 L439.9,277.6 L440.6,278.4 L441.4,279.2 L442.2,280.0 L443.0,280.9 L443.8,281.8 L444.6,282.8 L445.4,283.7 L446.1,284.7 L446.9,285.8 L447.7,286.8 L448.5,287.8 L449.3,288.9 L450.1,289.9 L450.9,290.9 L451.6,292.0 L452.4,293.1 L453.2,294.1 L454.0,295.2 L454.8,296.3 L455.6,297.5 L456.3,298.6 L457.1,299.7 L457.9,300.8 L458.7,301.9 L459.5,303.0 L460.3,304.0 L461.1,305.1 L461.8,306.1 L462.6,307.1 L463.4,308.2 L464.2,309.2 L465.0,310.2 L465.8,311.2 L466.6,312.2 L467.3,313.2 L468.1,314.1 L468.9,315.0 L469.7,316.0 L470.5,316.9 L471.3,317.8 L472.0,318.7 L472.8,319.6 L473.6,320.4 L474.4,321.3 L475.2,322.1 L476.0,322.9 L476.8,323.7 L477.5,324.5 L478.3,325.2 L479.1,325.9 L479.9,326.6 L480.7,327.3 L481.5,328.0 L482.2,328.6 L483.0,329.3 L483.8,329.9 L484.6,330.5 L485.4,331.1 L486.2,331.6 L487.0,332.2 L487.7,332.7 L488.5,333.2 L489.3,333.7 L490.1,334.2 L490.9,334.6 L491.7,335.1 L492.5,335.5 L493.2,335.9 L494.0,336.3 L494.8,336.7 L495.6,337.0 L496.4,337.4 L497.2,337.8 L498.0,338.2 L498.7,338.6 L499.5,339.0 L500.3,339.4 L501.1,339.8 L501.9,340.1 L502.7,340.5 L503.4,340.9 L504.2,341.3 L505.0,341.7 L505.8,342.0 L506.6,342.4 L507.4,342.8 L508.2,343.1 L508.9,343.4 L509.7,343.8 L510.5,344.1 L511.3,344.4 L512.1,344.7 L512.9,345.0 L513.6,345.3 L514.4,345.5 L515.2,345.8 L516.0,346.1 L516.8,346.4 L517.6,346.6 L518.4,346.9 L519.1,347.1 L519.9,347.4 L520.7,347.6 L521.5,347.8 L522.3,348.1 L523.1,348.3 L523.9,348.5 L524.6,348.7 L525.4,348.9 L526.2,349.1 L527.0,349.3 L527.8,349.5 L528.6,349.7 L529.4,349.9 L530.1,350.1 L530.9,350.3 L531.7,350.5 L532.5,350.7 L533.3,350.8 L534.1,351.0 L534.8,351.2 L535.6,351.3 L536.4,351.5 L537.2,351.7 L538.0,351.8 L538.8,352.0 L539.6,352.2 L540.3,352.3 L541.1,352.5 L541.9,352.6 L542.7,352.8 L543.5,352.9 L544.3,353.1 L545.0,353.2" fill="none" stroke="#7387dd" stroke-width="2.8" stroke-linejoin="round"/>
</g>
<rect x="286" y="29" width="259" height="328" fill="none" stroke="#333" stroke-width="1.5"/>
<path d="M286.5,337.7h2.6 M286.5,319.0h2.6 M286.5,300.3h2.6 M286.5,281.6h2.6 M286.5,262.9h5.5 M286.5,244.2h2.6 M286.5,225.5h2.6 M286.5,206.8h2.6 M286.5,188.1h2.6 M286.5,169.4h5.5 M286.5,150.7h2.6 M286.5,132.0h2.6 M286.5,113.3h2.6 M286.5,94.6h2.6 M286.5,75.9h5.5 M286.5,57.2h2.6 M286.5,38.5h2.6 M301.7,356.5v-2.4 M317.4,356.5v-2.4 M333.1,356.5v-2.4 M348.8,356.5v-2.4 M364.5,356.5v-5.6 M380.2,356.5v-2.4 M395.9,356.5v-2.4 M411.6,356.5v-2.4 M427.3,356.5v-2.4 M443.0,356.5v-5.6 M458.7,356.5v-2.4 M474.4,356.5v-2.4 M490.1,356.5v-2.4 M505.8,356.5v-2.4 M521.5,356.5v-5.6 M537.2,356.5v-2.4" stroke="#1a1a1a" stroke-width="1.1" fill="none"/>
<g font-size="9.4" class="b" fill="#111" text-anchor="middle">
<text x="278.6" y="80.6">3</text><text x="278.6" y="174">2</text><text x="278.6" y="267.5">1</text><text x="278.6" y="360.5">0</text>
<text x="286" y="369.4">400</text><text x="364.5" y="369.4">500</text><text x="443" y="369.4">600</text><text x="521.5" y="369.4">700</text>
</g>
<text x="405.2" y="386.4" font-size="11" class="b" text-anchor="middle" fill="#111">Wavelength (nm)</text>
<text transform="translate(266.4,110.7) rotate(-90)" font-size="10.8" letter-spacing="0.22" class="b" text-anchor="middle" fill="#111">Normalized Intensity</text>
<text x="416.4" y="62" class="lg" style="font-size:9.9px">Voltage(V)</text>
<text x="472.8" y="62" class="lg" style="font-size:9.85px">1931 CIExy</text>
<line x1="399.2" y1="77.5" x2="418.4" y2="77.5" stroke="#ada42c" stroke-width="3.0" stroke-linecap="round"/>
<text x="432" y="81.7" class="lg">3.0</text>
<text x="467.5" y="81.7" class="lg" letter-spacing="0.33">(0.48, 0.42)</text>
<line x1="399.2" y1="92.4" x2="418.4" y2="92.4" stroke="#b5ac34" stroke-width="3.0" stroke-linecap="round"/>
<text x="432" y="96.6" class="lg">3.5</text>
<text x="467.5" y="96.6" class="lg" letter-spacing="0.33">(0.45, 0.41)</text>
<line x1="399.2" y1="107.3" x2="418.4" y2="107.3" stroke="#c8c85c" stroke-width="3.0" stroke-linecap="round"/>
<text x="432" y="111.5" class="lg">4.0</text>
<text x="467.5" y="111.5" class="lg" letter-spacing="0.33">(0.40, 0.38)</text>
<line x1="399.2" y1="122.2" x2="418.4" y2="122.2" stroke="#d2d36a" stroke-width="3.0" stroke-linecap="round"/>
<text x="432" y="126.4" class="lg">4.5</text>
<text x="467.5" y="126.4" class="lg" letter-spacing="0.33">(0.37, 0.36)</text>
<line x1="400" y1="137.6" x2="419.3" y2="137.3" stroke="#888888" stroke-width="1.4"/>
<text x="432" y="141.3" class="lg">5.0</text>
<text x="467.5" y="141.3" class="lg" letter-spacing="0.33">(0.35, 0.34)</text>
<line x1="400" y1="152.5" x2="419.3" y2="152.2" stroke="#8c8c8c" stroke-width="1.4"/>
<text x="432" y="156.2" class="lg">5.5</text>
<text x="467.5" y="156.2" class="lg" letter-spacing="0.33">(0.33, 0.33)</text>
<line x1="400" y1="167.4" x2="419.3" y2="167.1" stroke="#909090" stroke-width="1.4"/>
<text x="432" y="171.1" class="lg">6.0</text>
<text x="467.5" y="171.1" class="lg" letter-spacing="0.33">(0.31, 0.32)</text>
<line x1="399.2" y1="181.8" x2="418.4" y2="181.8" stroke="#6e92e2" stroke-width="3.0" stroke-linecap="round"/>
<text x="432" y="186.0" class="lg">7.0</text>
<text x="467.5" y="186.0" class="lg" letter-spacing="0.33">(0.30, 0.31)</text>
<line x1="399.2" y1="196.7" x2="418.4" y2="196.7" stroke="#6c8ade" stroke-width="3.0" stroke-linecap="round"/>
<text x="432" y="200.9" class="lg">8.0</text>
<text x="467.5" y="200.9" class="lg" letter-spacing="0.33">(0.29, 0.30)</text>
<line x1="399.2" y1="211.6" x2="418.4" y2="211.6" stroke="#6c80d8" stroke-width="3.0" stroke-linecap="round"/>
<text x="432" y="215.8" class="lg">9.0</text>
<text x="467.5" y="215.8" class="lg" letter-spacing="0.33">(0.28, 0.29)</text>
</svg>
</body></html>
